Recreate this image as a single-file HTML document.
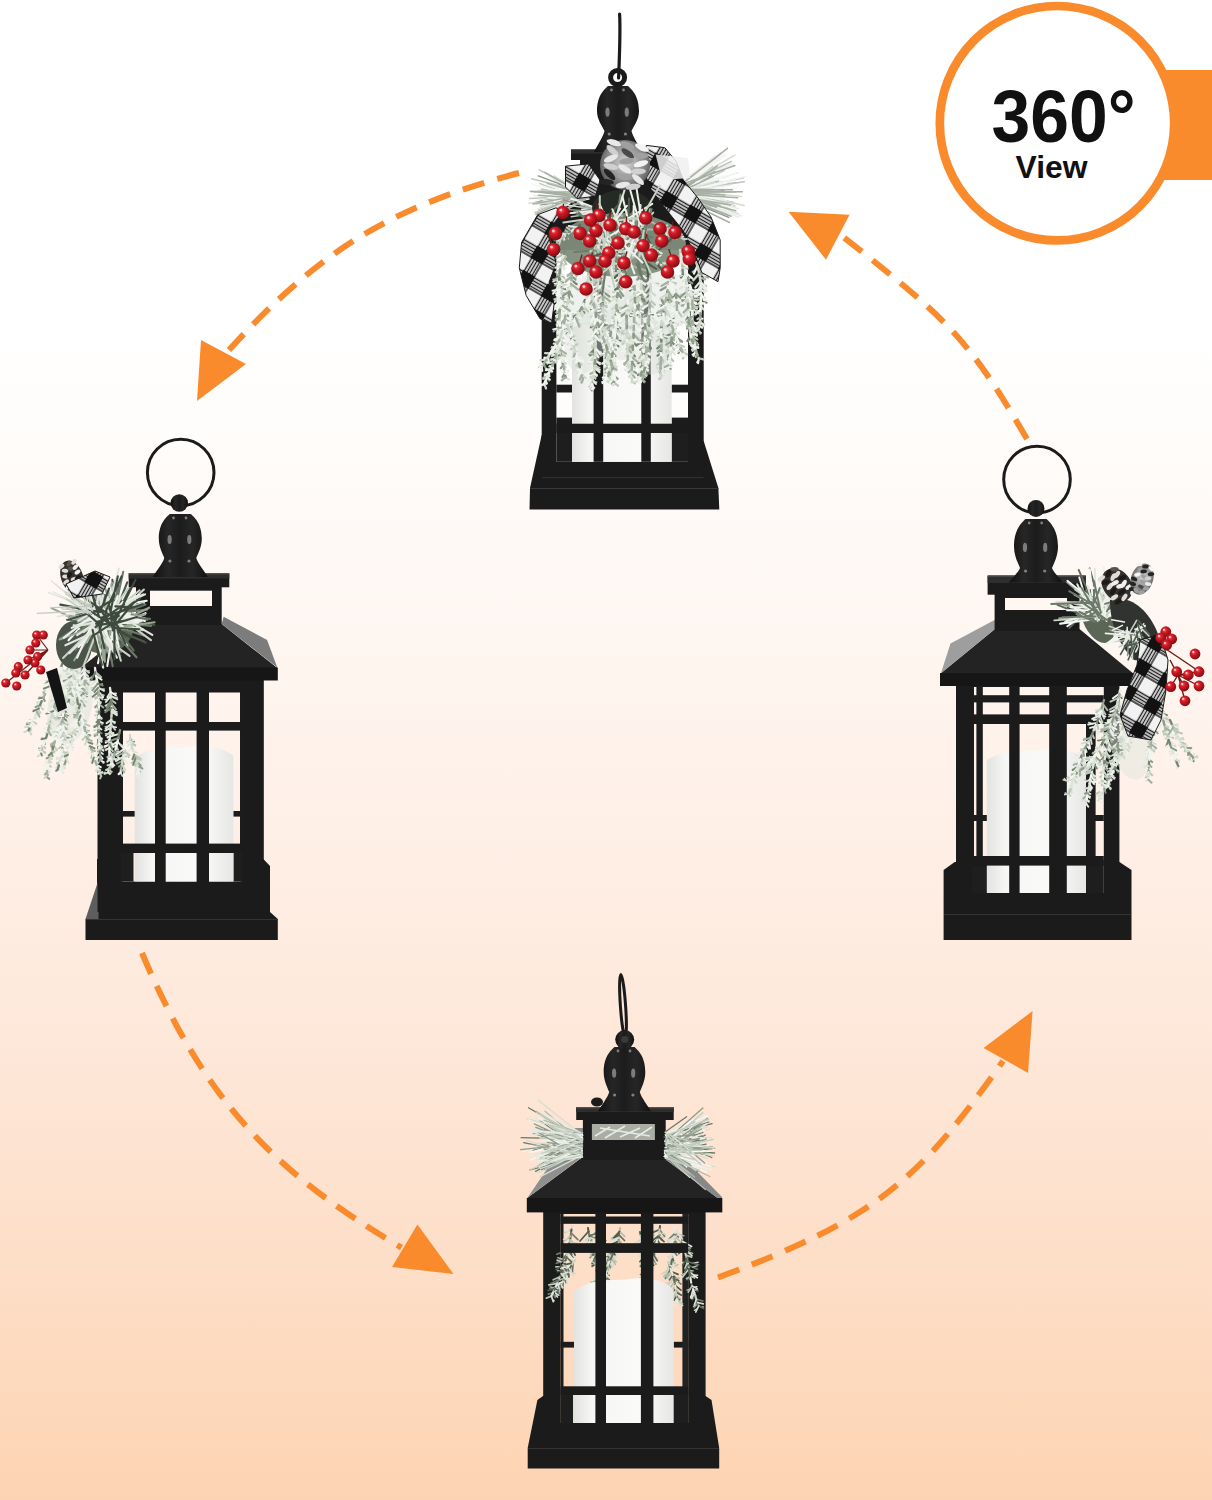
<!DOCTYPE html>
<html><head><meta charset="utf-8"><title>360 View</title>
<style>html,body{margin:0;padding:0;background:#fff;}body{width:1212px;height:1500px;overflow:hidden;font-family:"Liberation Sans",sans-serif;}svg{display:block;}</style>
</head><body>
<svg width="1212" height="1500" viewBox="0 0 1212 1500"><defs><linearGradient id="bg" x1="0" y1="0" x2="0" y2="1500" gradientUnits="userSpaceOnUse">
<stop offset="0" stop-color="#ffffff"/><stop offset="0.22" stop-color="#ffffff"/>
<stop offset="0.45" stop-color="#fef5ef"/><stop offset="0.62" stop-color="#feece1"/><stop offset="0.8" stop-color="#fde1cd"/><stop offset="1" stop-color="#fdd4b3"/></linearGradient>
<linearGradient id="candle" x1="0" y1="0" x2="1" y2="0"><stop offset="0" stop-color="#e2e2e0"/><stop offset="0.18" stop-color="#f6f6f4"/><stop offset="0.7" stop-color="#fafaf8"/><stop offset="1" stop-color="#e6e6e4"/></linearGradient>
<linearGradient id="ball" x1="0" y1="0" x2="1" y2="0"><stop offset="0" stop-color="#111"/><stop offset="0.28" stop-color="#262626"/><stop offset="0.5" stop-color="#1c1c1c"/><stop offset="0.72" stop-color="#262626"/><stop offset="1" stop-color="#111"/></linearGradient>
<pattern id="check" width="28" height="28" patternUnits="userSpaceOnUse" patternTransform="rotate(30)">
<rect width="28" height="28" fill="#f2f2f2"/>
<rect width="14" height="14" fill="#121212"/>
<path d="M14,1.5H28M14,4.5H28M14,7.5H28M14,10.5H28M14,13H28M1.5,14V28M4.5,14V28M7.5,14V28M10.5,14V28M13,14V28" stroke="#1a1a1a" stroke-width="1.4"/>
</pattern>
<radialGradient id="berry" cx="0.38" cy="0.35" r="0.7"><stop offset="0" stop-color="#f2606a"/><stop offset="0.35" stop-color="#d11a24"/><stop offset="1" stop-color="#7e0a12"/></radialGradient>
<radialGradient id="cone" cx="0.5" cy="0.45" r="0.6"><stop offset="0" stop-color="#d4d4d4"/><stop offset="0.6" stop-color="#8f8f8f"/><stop offset="1" stop-color="#4a4a4a"/></radialGradient></defs><rect x="0" y="0" width="1212" height="1500" fill="url(#bg)"/>
<rect x="1160" y="70" width="60" height="110" fill="#f98b2d"/>
<circle cx="1057" cy="123.2" r="117.2" fill="#ffffff" stroke="#f98b2d" stroke-width="8.7"/>
<text x="991.5" y="141.5" font-family="Liberation Sans" font-weight="bold" font-size="73.5" fill="#111" textLength="144" lengthAdjust="spacingAndGlyphs">360°</text>
<text x="1015.5" y="177.5" font-family="Liberation Sans" font-weight="bold" font-size="32" fill="#111" textLength="72" lengthAdjust="spacingAndGlyphs">View</text>
<path d="M519,173 C388.3,207 316.5,253.8 229,350" fill="none" stroke="#f98b2d" stroke-width="6" stroke-dasharray="22.5 13.5"/>
<polygon points="201,340 246,364 197,401" fill="#f98b2d"/>
<path d="M1027,439 C968.8,339.9 952,322.5 842,236" fill="none" stroke="#f98b2d" stroke-width="6" stroke-dasharray="22.5 13.5"/>
<polygon points="788.5,211.7 849.6,214.7 826,259.7" fill="#f98b2d"/>
<path d="M142,953 C204.4,1100.2 272.4,1171.4 401.5,1247.6" fill="none" stroke="#f98b2d" stroke-width="6" stroke-dasharray="22.5 13.5"/>
<polygon points="417.4,1224.5 453.5,1274 392,1267" fill="#f98b2d"/>
<path d="M718,1277.5 C877.5,1218.5 919.5,1179.5 1003,1061" fill="none" stroke="#f98b2d" stroke-width="6" stroke-dasharray="22.5 13.5"/>
<polygon points="1032.6,1011 1028,1073 983.6,1048" fill="#f98b2d"/>
<polygon points="541.7,435.0 703.7,441.0 718.4,488.0 719.3,509.5 529.5,509.5 530.0,488.0" fill="#1b1b1b" />
<line x1="530" y1="488.5" x2="718.5" y2="488.5" stroke="#3a3a3a" stroke-width="1"/>
<rect x="541.7" y="228.0" width="162.0" height="259.8" fill="#1b1b1b" />
<line x1="542" y1="477.6" x2="703.5" y2="477.6" stroke="#333" stroke-width="1"/>
<rect x="556.4" y="240.0" width="131.6" height="221.8" fill="url(#bg)" />
<rect x="556.4" y="384.7" width="15.6" height="7.8" fill="#1c1c1c" />
<rect x="671.6" y="384.7" width="16.4" height="7.8" fill="#1c1c1c" />
<rect x="556.4" y="417.6" width="15.6" height="15.4" fill="#1c1c1c" />
<rect x="671.6" y="417.6" width="16.4" height="15.4" fill="#1c1c1c" />
<rect x="556.4" y="433.0" width="15.6" height="28.8" fill="#1e1e1e" />
<rect x="671.6" y="433.0" width="16.4" height="28.8" fill="#1e1e1e" />
<path d="M572.0,461.8 L572.0,328.0 C591.9,318.0 606.9,321.6 626.8,320.0 C646.7,317.6 663.6,322.0 671.6,327.2 L671.6,461.8 Z" fill="url(#candle)"/>
<rect x="593.6" y="240.0" width="9.6" height="221.8" fill="#1b1b1b" />
<rect x="641.3" y="240.0" width="9.5" height="221.8" fill="#1b1b1b" />
<rect x="556.4" y="423.7" width="131.6" height="9.3" fill="#1b1b1b" />
<rect x="556.4" y="240.0" width="131.6" height="10.0" fill="#1b1b1b" />
<polygon points="580.0,196.0 658.0,196.0 712.0,236.0 528.0,236.0" fill="#1b1b1b" />
<rect x="528.0" y="230.0" width="188.0" height="14.0" fill="#1b1b1b" />
<rect x="580.0" y="158.0" width="78.0" height="42.0" fill="#1b1b1b" />
<rect x="571.0" y="149.5" width="96.0" height="10.5" fill="#1b1b1b" />
<rect x="571.0" y="149.5" width="96.0" height="4.0" fill="#2e2e2e" />
<path d="M619.6,14 C620.6,32 619.4,58 618.6,78" stroke="#1b1b1b" stroke-width="3.2" fill="none" stroke-linecap="round"/>
<path d="M608.0,86.0 C605.0,89.0 597.0,94.8 597.0,111.2 C597.0,120.1 603.0,127.0 604.5,131.0 C603.0,137.3 597.0,145.7 594.0,152.0 L642.0,152.0 C639.0,145.7 633.0,137.3 631.5,131.0 C633.0,127.0 639.0,120.1 639.0,111.2 C639.0,94.8 631.0,89.0 628.0,86.0 Z" fill="url(#ball)"/>
<ellipse cx="607.5" cy="112.2" rx="2.1" ry="4.6" fill="#9a9a9a" opacity="0.75"/>
<ellipse cx="626.8" cy="112.2" rx="2.1" ry="4.6" fill="#9a9a9a" opacity="0.75"/>
<circle cx="609.2" cy="134.0" r="1.6" fill="#a0a0a0" opacity="0.75"/>
<circle cx="611.5" cy="90.0" r="1.4" fill="#a0a0a0" opacity="0.75"/>
<circle cx="625.4" cy="134.0" r="1.6" fill="#a0a0a0" opacity="0.75"/>
<circle cx="623.5" cy="90.0" r="1.4" fill="#a0a0a0" opacity="0.75"/>
<circle cx="617.6" cy="77.5" r="7" fill="none" stroke="#1b1b1b" stroke-width="5"/>
<ellipse cx="605" cy="300" rx="42" ry="28" fill="#d9dfd6" opacity="0.45" transform="rotate(0 605 300)"/>
<ellipse cx="660" cy="300" rx="36" ry="30" fill="#d9dfd6" opacity="0.45" transform="rotate(10 660 300)"/>
<ellipse cx="585" cy="340" rx="20" ry="34" fill="#d9dfd6" opacity="0.45" transform="rotate(10 585 340)"/>
<ellipse cx="648" cy="345" rx="20" ry="30" fill="#d9dfd6" opacity="0.45" transform="rotate(-10 648 345)"/>
<ellipse cx="622" cy="330" rx="18" ry="30" fill="#d9dfd6" opacity="0.45" transform="rotate(0 622 330)"/>
<path d="M560.0 270.0L559.6 274.0M559.6 274.0L559.2 278.0M563.4 309.5L564.4 313.4M564.4 313.4L565.5 317.3M565.5 317.3L566.4 321.2M566.4 321.2L567.5 325.0M573.2 344.2L574.3 348.0M570.9 283.9L570.2 287.9M570.2 287.9L569.4 291.8M548.9 372.9L547.5 376.7M588.0 272.0L588.2 276.0M590.5 291.8L591.4 295.7M599.0 326.7L600.4 330.5M612.7 368.5L613.6 372.4M603.1 288.0L603.2 292.0M602.7 304.0L602.7 308.0M602.7 312.0L602.7 316.0M603.0 320.0L603.3 324.0M609.3 351.3L609.8 355.2M613.6 378.9L614.2 382.9M616.4 308.9L616.3 312.9M615.4 328.9L615.0 332.9M613.1 348.7L612.6 352.7M632.8 353.9L632.7 357.9M650.0 276.0L650.3 280.0M650.2 300.0L649.7 303.9M648.1 339.9L647.8 343.9M646.7 351.8L646.3 355.8M644.0 371.6L643.2 375.5M668.2 282.0L668.0 286.0M661.3 341.4L661.4 345.4M688.8 315.7L689.0 319.7M689.1 323.7L689.4 327.7M696.0 262.0L697.4 265.8M700.9 289.4L700.8 293.4M700.8 293.4L700.9 297.4M569.0 327.5L566.3 330.5M543.9 363.6L541.7 366.9M668.3 314.7L669.7 318.5M669.7 318.5L670.9 322.3M674.8 333.6L676.3 337.3M611.6 324.0L611.4 328.0M607.4 363.7L607.1 367.7M627.7 304.0L627.1 308.0M627.1 308.0L626.7 311.9M626.7 335.9L626.8 339.9M596.7 292.8L596.5 296.8M641.1 288.9L640.7 292.9M639.2 300.8L638.7 304.7M636.5 316.5L635.9 320.5M675.2 321.8L674.3 325.7M561.6 294.0L561.0 297.9M559.4 317.8L559.6 321.8M560.0 325.8L560.2 329.8M560.4 349.8L560.9 353.8M560.9 353.8L561.6 357.7M564.2 369.4L565.0 373.3M595.2 336.0L595.3 340.0M644.8 340.0L644.4 343.9M643.3 363.9L642.8 367.8" stroke="#bcc7b7" stroke-width="2.6" stroke-linecap="round" fill="none"/>
<path d="M559.6 274.0L564.3 277.9M567.5 325.0L571.6 326.1M569.7 332.7L573.9 336.3M573.2 344.2L570.8 349.2M578.7 363.4L581.4 364.5M568.3 299.7L573.1 303.9M563.1 327.2L566.8 333.2M563.1 327.2L558.7 329.9M562.2 331.1L566.6 335.6M561.3 335.0L564.4 338.6M558.0 346.5L561.2 350.2M555.1 358.2L551.0 360.3M588.4 280.0L582.5 286.4M595.4 311.2L603.3 313.5M602.7 304.0L606.6 307.3M602.7 316.0L605.1 319.8M602.7 316.0L598.5 319.5M603.0 320.0L607.2 325.0M606.5 339.6L605.0 342.9M609.3 351.3L612.2 353.6M612.6 371.0L610.5 373.1M614.2 382.9L618.0 385.7M614.2 382.9L612.8 384.8M618.0 289.0L613.2 292.2M616.3 312.9L612.5 318.7M615.7 324.9L613.2 328.0M608.4 376.3L610.4 379.2M634.7 290.0L640.8 295.8M634.9 294.0L639.6 299.9M633.6 333.9L629.1 338.7M633.1 341.9L627.9 346.9M632.1 381.8L635.0 383.4M650.7 292.0L642.5 297.8M650.2 300.0L654.9 304.8M649.7 303.9L652.9 307.2M648.8 319.9L643.1 323.8M648.8 327.9L652.5 333.0M648.4 331.9L652.2 338.2M648.2 335.9L651.6 339.7M648.2 335.9L643.8 341.0M647.8 343.9L645.0 345.7M644.8 367.7L640.0 370.5M668.3 278.0L675.8 283.5M665.4 301.8L660.0 304.7M664.7 305.7L668.2 312.0M661.3 333.4L658.0 336.2M661.3 337.4L656.8 341.2M661.3 341.4L658.3 345.5M661.0 357.3L663.4 361.4M660.9 361.3L657.0 365.6M661.1 377.3L659.3 379.1M687.7 299.7L681.7 305.9M691.8 339.4L696.7 343.1M697.2 354.5L695.8 357.1M698.8 358.2L703.2 359.4M700.3 317.4L697.4 319.1M571.5 324.5L571.6 330.8M554.8 346.8L554.5 352.4M554.8 346.8L551.6 347.8M546.0 360.2L547.3 363.6M666.6 311.1L664.4 317.7M673.3 329.9L670.8 335.5M677.7 341.0L681.6 342.0M679.2 344.8L683.9 346.8M682.6 352.0L687.1 354.3M611.6 324.0L618.6 330.2M608.7 343.7L603.0 348.1M608.2 347.7L604.2 350.0M607.9 351.7L601.1 355.6M607.6 355.7L604.0 358.4M606.8 371.7L604.3 373.9M627.1 308.0L634.0 315.6M626.7 323.9L631.8 327.3M626.9 327.9L621.9 332.0M626.8 339.9L622.5 343.9M628.3 363.9L626.4 365.8M598.5 276.9L593.8 283.4M596.7 292.8L601.4 298.3M640.5 269.0L646.0 274.4M640.0 296.9L632.6 300.0M637.3 312.6L639.6 317.1M676.9 310.0L681.9 316.7M671.8 337.5L674.2 340.3M671.8 337.5L666.2 341.5M671.0 345.4L674.0 349.6M671.0 345.4L666.1 348.0M669.9 357.4L673.3 360.9M669.2 361.3L671.0 365.4M560.2 329.8L565.1 335.0M560.0 333.8L563.5 337.5M560.9 353.8L565.1 356.3M594.8 324.0L600.2 328.3M594.9 332.0L601.0 338.8M595.6 344.0L592.2 347.2M591.7 383.7L589.0 386.2M643.6 351.9L639.2 358.1M643.6 359.9L648.1 364.5M639.6 379.4L636.5 381.4M691.3 292.9L698.4 298.1M692.4 320.8L697.2 324.9M693.4 332.8L690.6 335.2M693.6 336.8L697.3 339.3M694.1 340.7L689.9 344.1M694.8 344.7L692.6 347.7" stroke="#bcc7b7" stroke-width="2.21" stroke-linecap="round" fill="none"/>
<path d="M559.6 274.0L555.4 279.3M559.2 278.0L563.0 282.3M559.2 286.0L565.2 289.3M571.4 280.0L576.6 284.2M588.2 276.0L591.5 280.7M593.5 303.4L591.1 309.4M594.5 307.3L600.5 311.6M597.8 322.9L601.4 325.4M606.1 345.4L603.7 348.6M603.3 324.0L610.4 327.4M607.4 343.5L612.0 345.7M611.3 363.1L608.6 366.2M615.7 324.9L618.0 328.5M614.8 336.9L620.6 340.6M614.4 340.8L618.5 346.4M634.5 286.0L630.0 290.5M634.4 309.9L628.9 317.1M634.3 313.9L630.7 316.7M633.1 341.9L636.5 345.9M632.8 353.9L634.9 356.4M649.2 311.9L652.9 314.5M647.8 343.9L651.0 348.5M644.0 371.6L640.7 375.0M643.2 375.5L641.1 376.9M666.3 297.9L672.0 305.2M661.4 345.4L657.2 348.4M661.0 353.4L657.5 355.6M684.8 271.9L680.9 277.6M687.1 295.8L682.4 300.8M688.2 307.7L692.0 312.5M688.8 315.7L686.2 320.3M689.1 323.7L692.9 329.2M690.8 335.6L687.3 341.0M691.8 339.4L689.7 341.9M700.9 297.4L706.5 302.7M700.9 297.4L695.3 301.7M700.5 305.4L694.7 308.3M700.3 317.4L702.4 319.7M698.6 329.3L700.2 333.9M581.8 307.3L584.8 312.6M578.0 314.3L573.5 316.0M575.9 317.8L569.1 319.1M557.1 343.6L557.5 347.2M663.6 303.7L657.8 311.7M677.7 341.0L676.4 345.5M680.9 348.4L678.4 353.1M608.7 343.7L611.8 348.0M607.4 363.7L609.5 366.6M628.5 367.8L631.4 370.5M599.6 269.0L606.6 274.3M595.8 308.8L600.2 313.2M595.9 316.8L598.0 318.6M640.0 296.9L644.5 301.0M676.1 294.0L668.5 300.4M676.0 317.9L668.7 321.1M672.4 333.5L665.3 336.3M671.4 341.4L674.0 344.2M669.9 357.4L667.9 359.3M668.5 365.2L670.8 368.7M559.7 309.9L556.9 313.7M560.1 337.8L556.4 342.4M560.0 341.8L562.0 345.2M560.0 341.8L556.3 345.1M560.1 345.8L555.8 349.5M560.9 353.8L557.0 357.0M594.8 324.0L590.8 327.4M595.5 348.0L589.5 354.5M595.3 352.0L590.2 355.4M590.4 387.5L592.1 390.4M644.8 340.0L637.1 344.7M644.4 343.9L646.8 348.3M643.8 347.9L640.2 349.5M643.6 359.9L638.1 363.1M641.9 371.7L638.0 375.2M692.3 312.8L695.4 315.4M693.0 328.8L696.8 331.9M693.6 336.8L691.9 339.1" stroke="#76846f" stroke-width="2.21" stroke-linecap="round" fill="none"/>
<path d="M561.1 280.1L563.5 281.1M558.0 292.5L555.4 293.3M566.2 308.2L570.2 308.5M566.3 314.8L568.4 314.6M574.4 354.8L572.4 356.6M579.5 373.2L577.3 373.9M555.7 360.5L557.2 362.0M553.0 359.2L551.0 359.1M592.9 293.3L595.5 293.5M596.0 302.3L599.9 302.5M592.3 306.4L589.8 307.9M604.9 347.0L603.3 347.7M614.8 369.6L617.0 369.0M606.2 290.3L609.8 290.6M604.3 314.5L606.8 315.4M614.2 368.4L616.5 368.4M615.6 290.6L613.0 290.8M617.7 338.7L620.8 339.1M611.3 342.9L608.0 343.5M610.4 350.7L607.4 350.7M611.2 369.9L612.8 370.6M606.9 377.5L605.1 377.8M631.2 300.2L627.3 300.2M636.1 332.1L638.9 333.0M635.8 340.0L638.5 339.9M629.7 347.4L626.5 347.4M649.0 282.2L646.9 283.0M646.2 306.3L642.4 306.2M646.4 344.8L644.9 344.7M643.8 365.4L641.6 365.4M643.4 380.8L644.7 381.5M671.0 276.0L674.2 276.0M669.6 293.5L672.9 295.3M669.2 297.8L672.4 300.1M663.5 299.5L660.5 299.4M659.8 343.4L657.6 344.1M660.0 358.4L658.7 358.4M687.6 322.2L685.1 322.9M693.6 348.9L691.8 349.7M698.4 360.6L697.0 362.4M663.3 310.8L660.4 312.6M679.6 350.8L677.4 351.8M606.2 348.9L604.1 348.8M605.8 357.0L603.8 356.9M624.3 307.3L620.0 307.3M630.6 311.8L634.8 313.5M596.1 271.4L592.4 272.0M601.5 276.0L605.0 277.2M594.4 299.1L591.5 299.3M597.3 302.6L598.9 303.5M593.6 306.4L591.0 306.2M594.2 310.6L591.9 310.9M643.2 271.7L646.6 272.4M639.8 275.1L638.0 276.5M643.3 278.3L645.7 278.3M643.1 282.9L645.5 283.5M640.3 302.7L642.1 303.7M636.3 326.1L638.1 326.7M673.0 305.0L668.8 305.4M676.6 323.3L678.4 323.6M669.0 339.5L665.9 339.8M562.4 304.4L565.2 305.0M561.8 335.7L563.9 336.4M593.5 334.2L591.1 334.7M597.8 351.0L601.0 352.1M597.0 370.1L600.0 369.9M590.3 381.2L587.9 380.7M646.8 330.0L648.8 330.9M641.0 346.5L637.3 347.1M640.9 361.5L638.1 361.0M643.9 369.9L645.7 371.1M641.4 376.9L642.6 377.3M694.2 302.4L696.4 302.9M691.2 303.2L689.0 304.1M689.7 319.7L686.4 320.6" stroke="#dde4d9" stroke-width="1.8199999999999998" stroke-linecap="round" fill="none"/>
<path d="M559.2 278.0L553.3 281.4M559.6 289.9L564.4 295.5M560.9 297.8L557.3 305.3M561.7 301.7L564.8 304.9M562.7 305.6L560.6 311.3M568.7 328.8L573.9 332.5M572.0 340.4L578.8 342.5M573.2 344.2L577.7 345.7M576.3 355.8L573.2 360.7M570.2 287.9L562.7 294.5M566.8 307.6L560.9 309.8M566.2 311.5L569.1 318.0M564.1 323.3L557.9 327.7M560.2 338.9L563.6 344.8M547.5 376.7L543.3 378.7M545.9 380.3L546.4 383.8M590.5 291.8L595.3 294.8M601.8 334.2L607.4 336.1M604.6 341.7L603.4 346.1M611.7 364.6L609.3 368.3M612.7 368.5L617.0 370.6M603.1 288.0L609.4 292.7M605.4 335.8L608.1 338.2M609.8 355.2L612.8 356.5M613.2 374.9L615.7 377.8M617.7 293.0L613.6 299.1M617.2 297.0L609.2 302.8M616.6 304.9L621.7 310.2M616.4 308.9L612.7 312.9M615.4 328.9L619.1 333.2M614.8 336.9L611.6 341.6M612.6 352.7L608.6 355.8M634.9 294.0L630.8 297.3M634.9 302.0L628.8 308.7M633.5 337.9L630.2 342.7M650.6 284.0L645.4 291.1M648.9 323.9L651.8 329.1M648.9 323.9L644.9 326.8M646.3 355.8L649.6 360.7M644.0 371.6L646.3 375.9M661.4 325.4L664.9 327.5M661.4 345.4L666.5 349.6M660.6 365.3L662.4 367.6M660.7 373.3L663.7 375.7M685.4 275.9L682.9 281.5M686.3 283.8L680.0 288.7M688.4 311.7L682.7 316.6M700.4 281.4L695.3 287.5M700.8 285.4L706.4 290.8M700.8 285.4L696.3 293.4M700.9 289.4L704.7 292.4M700.5 305.4L703.4 309.4M583.5 303.7L586.6 313.3M573.8 321.2L566.1 321.4M571.5 324.5L563.2 326.2M569.0 327.5L561.4 326.3M566.3 330.5L567.4 334.8M563.8 333.6L558.3 335.1M557.1 343.6L553.8 343.7M665.1 307.4L661.5 314.1M666.6 311.1L674.3 313.7M668.3 314.7L674.8 315.3M670.9 322.3L668.9 328.5M673.3 329.9L679.3 333.7M684.1 355.7L683.2 358.9M609.5 339.8L615.4 345.2M608.2 347.7L612.3 351.3M606.8 371.7L609.7 374.0M627.0 331.9L621.5 335.4M626.7 335.9L622.1 342.3M627.6 351.9L631.4 357.3M627.9 359.9L631.9 362.6M628.5 367.8L625.4 370.0M598.9 272.9L594.2 277.3M596.0 320.8L599.5 323.7M638.7 304.7L643.3 308.4M636.5 316.5L631.5 320.1M635.0 324.4L631.4 325.7M670.6 349.4L674.9 354.2M560.5 301.9L564.3 306.9M559.4 313.8L563.8 318.3M561.6 357.7L564.4 359.7M565.4 377.3L569.2 379.6M595.1 360.0L599.9 364.3M595.1 360.0L588.6 363.6M594.8 363.9L598.7 369.4M594.5 367.9L599.5 372.2M645.1 324.0L641.0 327.2M645.4 332.0L649.7 336.2M640.7 375.6L637.7 377.7M692.0 296.8L686.9 305.7M692.5 304.8L696.9 308.7M692.5 304.8L688.3 312.0M692.5 308.8L699.5 313.6" stroke="#dde4d9" stroke-width="2.21" stroke-linecap="round" fill="none"/>
<path d="M556.2 279.7L553.2 279.3M562.0 292.7L565.2 293.6M561.6 308.4L559.6 310.3M575.5 344.9L577.4 344.1M577.9 365.0L576.4 365.6M573.6 277.8L576.0 278.2M565.7 294.0L561.9 293.3M570.7 301.8L573.5 302.4M563.8 308.7L561.0 308.4M561.0 325.5L557.6 325.2M560.9 328.6L558.6 328.4M560.6 332.4L558.7 332.8M559.7 336.0L557.9 336.0M546.8 374.3L544.6 374.0M545.4 377.7L543.3 377.4M586.1 287.0L582.6 288.1M606.2 286.3L609.7 286.6M600.8 289.7L598.3 290.0M604.6 305.6L606.9 306.0M607.5 329.8L611.3 329.3M601.9 330.1L599.4 330.6M605.7 341.3L604.5 342.3M611.6 372.0L610.2 372.1M612.4 377.2L610.5 378.3M619.4 295.4L622.0 296.1M615.7 296.0L612.6 297.2M619.1 307.6L622.4 307.6M617.2 331.0L619.7 331.6M612.1 345.5L610.6 345.2M609.4 377.7L610.9 378.2M637.7 288.7L641.5 288.8M632.9 367.8L634.7 368.7M654.1 283.3L658.7 283.7M654.0 285.9L657.5 286.1M650.7 317.9L652.9 318.6M645.9 321.9L642.9 321.3M650.6 330.4L653.3 331.4M648.0 358.2L650.2 359.6M647.3 361.3L648.9 361.7M645.1 373.8L646.9 375.1M665.4 311.1L667.2 311.5M661.9 362.5L663.2 362.8M682.9 274.7L680.1 276.1M688.7 293.7L691.0 294.5M690.5 301.5L693.4 301.3M689.6 305.6L691.7 306.0M690.7 340.7L689.4 341.1M696.4 347.4L698.1 346.7M696.5 355.8L695.3 356.3M695.7 269.7L692.6 272.0M703.0 284.6L706.4 286.1M697.6 306.9L694.7 306.5M701.9 323.5L704.4 324.4M585.1 308.5L588.3 311.7M667.6 321.4L664.5 322.7M679.7 341.5L681.3 340.7M683.1 349.9L685.4 349.9M683.6 357.3L682.5 358.3M610.3 349.5L612.7 349.8M608.1 377.0L609.9 377.4M607.2 381.0L608.8 381.3M624.3 333.6L621.4 333.3M629.9 361.2L632.1 361.1M626.2 362.2L623.8 363.4M638.6 270.8L636.3 270.8M637.6 294.4L634.7 293.6M641.0 306.6L643.6 307.2M673.5 335.0L675.1 335.3M668.6 351.0L666.2 351.1M669.1 355.1L667.3 355.5M668.9 358.3L667.7 358.5M558.1 297.9L553.7 299.4M558.3 311.8L556.2 312.4M558.4 323.8L556.4 324.5M558.2 340.1L555.7 340.9M598.0 335.4L602.0 336.2M596.9 338.0L599.2 338.6M592.8 353.7L590.0 353.5M596.8 366.7L599.6 367.8M594.3 381.8L596.6 382.1M644.4 365.1L645.8 365.2M694.7 306.8L697.3 306.9M693.8 314.1L695.7 314.0M692.8 338.0L691.5 338.3" stroke="#bcc7b7" stroke-width="1.8199999999999998" stroke-linecap="round" fill="none"/>
<path d="M559.2 278.0L559.1 282.0M570.7 336.6L572.0 340.4M581.9 375.0L583.2 378.7M568.9 295.8L568.3 299.7M567.6 303.7L566.8 307.6M601.8 334.2L603.1 338.0M604.6 341.7L606.1 345.4M603.1 300.0L602.7 304.0M603.3 324.0L603.8 327.9M616.3 312.9L615.9 316.9M614.4 340.8L613.7 344.8M612.0 356.7L611.2 360.6M610.6 364.5L609.9 368.5M634.7 290.0L634.9 294.0M648.9 323.9L648.8 327.9M668.1 274.0L668.3 278.0M667.6 290.0L667.1 293.9M663.9 309.6L662.9 313.5M662.9 313.5L662.1 317.4M661.4 325.4L661.4 329.4M661.3 337.4L661.3 341.4M661.2 349.4L661.0 353.4M660.6 369.3L660.7 373.3M688.2 307.7L688.4 311.7M697.2 354.5L698.8 358.2M585.0 300.0L583.5 303.7M571.5 324.5L569.0 327.5M561.4 336.9L559.2 340.2M606.8 371.7L606.5 375.7M597.0 288.8L596.7 292.8M640.0 265.0L640.5 269.0M641.0 276.9L641.3 280.9M640.7 292.9L640.0 296.9M637.3 312.6L636.5 316.5M635.9 320.5L635.0 324.4M560.2 329.8L560.0 333.8M560.0 333.8L560.1 337.8M562.5 361.6L563.2 365.5M565.0 373.3L565.4 377.3M594.9 332.0L595.2 336.0M592.6 379.8L591.7 383.7M643.6 351.9L643.7 355.9M690.5 289.0L691.3 292.9" stroke="#76846f" stroke-width="2.6" stroke-linecap="round" fill="none"/>
<path d="M559.1 282.0L568.0 287.5M567.5 325.0L564.3 330.1M578.7 363.4L577.2 366.6M581.9 375.0L585.8 378.3M568.3 299.7L562.7 303.3M562.2 331.1L558.9 333.8M559.0 342.7L561.0 347.8M558.0 346.5L553.6 348.4M557.1 350.4L560.3 353.8M556.2 354.3L558.2 359.3M556.2 354.3L551.7 356.0M555.1 358.2L556.3 362.7M553.8 362.0L549.4 363.1M544.2 383.9L546.1 388.5M589.7 287.9L593.8 291.2M590.5 291.8L587.7 298.5M592.6 299.5L599.4 305.1M596.9 319.0L591.8 325.6M601.8 334.2L599.6 340.9M609.7 356.9L615.0 359.6M611.7 364.6L616.7 366.8M603.2 296.0L599.4 299.9M603.1 300.0L606.2 303.3M602.7 308.0L606.6 312.1M602.7 312.0L605.9 317.0M603.0 320.0L596.4 325.2M603.8 327.9L611.3 331.7M603.8 327.9L600.0 332.2M604.4 331.9L600.7 337.6M608.5 347.4L612.6 348.7M608.5 347.4L606.6 352.2M610.7 359.1L615.5 363.2M611.3 363.1L614.3 366.1M612.1 367.0L610.6 371.2M616.6 304.9L612.1 309.3M615.9 316.9L611.5 321.5M613.1 348.7L607.8 352.7M611.2 360.6L612.4 363.5M611.2 360.6L605.6 363.0M610.6 364.5L613.4 369.1M634.9 298.0L641.2 302.7M634.9 298.0L627.5 302.5M634.8 306.0L640.6 310.8M634.8 306.0L629.7 310.7M633.8 325.9L629.9 328.0M631.8 373.8L629.0 377.0M650.7 292.0L655.2 295.3M650.6 296.0L646.7 300.7M649.1 315.9L643.6 320.6M648.1 339.9L643.7 344.2M647.2 347.8L642.3 351.2M646.3 355.8L641.8 357.9M645.6 363.7L642.0 367.0M644.8 367.7L647.9 370.9M667.1 293.9L660.1 298.7M661.6 321.4L667.1 326.6M661.3 337.4L664.8 339.7M661.0 357.3L658.9 359.4M660.9 361.3L662.9 363.7M660.6 365.3L657.2 367.5M660.6 369.3L658.7 371.2M686.6 287.8L691.4 290.9M686.7 291.8L690.6 295.6M689.0 319.7L694.9 323.4M689.4 327.7L693.1 330.2M693.1 343.2L698.1 346.4M694.5 346.9L692.7 350.9M699.2 273.5L693.4 280.3M700.8 301.4L702.9 304.3M700.8 301.4L698.0 304.0M699.5 325.4L695.3 328.7M698.6 329.3L696.0 331.7M579.8 310.8L582.4 316.2M579.8 310.8L572.7 314.4M578.0 314.3L578.9 319.9M552.4 350.1L552.3 356.0M550.2 353.4L545.1 353.2M546.0 360.2L540.3 360.0M541.7 366.9L538.8 367.1M663.6 303.7L674.2 306.1M670.9 322.3L676.1 326.1M672.0 326.1L676.1 328.5M606.5 375.7L609.6 378.4M606.5 375.7L603.1 379.0M606.0 379.6L608.4 382.4M627.0 331.9L632.7 337.4M626.8 339.9L631.9 345.0M627.2 343.9L631.3 347.9M627.6 351.9L625.8 355.5M628.3 363.9L631.5 367.7M598.9 272.9L604.2 279.0M597.0 288.8L592.4 293.4M596.3 300.8L592.9 302.6M641.1 288.9L636.9 291.5M639.2 300.8L632.9 303.4M635.9 320.5L639.3 324.6M635.9 320.5L632.5 323.4M675.2 321.8L678.0 324.8M673.4 329.6L669.9 332.5M670.6 349.4L666.5 352.6M667.5 369.1L665.0 369.9M561.6 294.0L554.7 301.8M560.0 305.9L552.9 310.3M559.4 313.8L556.3 317.2M562.5 361.6L566.0 363.7M563.2 365.5L565.8 367.1M595.2 336.0L588.5 341.7M595.3 356.0L591.0 361.2M593.4 375.9L595.4 378.5M593.4 375.9L590.5 377.6M643.3 363.9L645.4 366.3M690.5 289.0L688.2 294.6M691.3 292.9L687.2 297.9M692.3 300.8L690.1 305.6" stroke="#cfd8cb" stroke-width="2.21" stroke-linecap="round" fill="none"/>
<path d="M563.5 284.7L568.3 284.9M562.2 287.6L565.2 287.1M563.5 297.6L567.8 298.4M569.5 325.5L571.4 325.2M571.8 334.5L574.3 334.8M567.8 335.0L565.1 335.7M570.3 343.0L567.7 344.3M576.7 352.5L578.0 352.2M582.3 380.7L580.8 381.8M569.8 274.0L567.3 274.6M568.6 279.0L564.8 279.7M565.5 301.5L562.6 301.3M561.9 341.8L564.7 343.2M557.2 356.8L559.2 358.2M589.1 295.1L586.1 296.4M593.9 315.3L590.4 317.1M597.9 329.2L595.9 330.4M606.6 352.4L604.3 354.3M607.2 355.6L604.9 356.8M616.0 377.6L617.8 377.9M612.9 377.7L611.0 377.7M600.7 286.0L598.1 286.7M601.3 298.0L599.0 298.6M601.7 326.4L599.2 327.2M606.7 337.0L608.3 337.3M608.4 353.8L606.6 355.3M611.3 355.9L612.7 355.5M608.6 361.6L605.7 362.1M610.0 364.6L608.3 365.4M614.4 315.8L611.6 317.1M618.3 318.8L621.1 318.7M611.8 362.1L612.9 363.0M637.7 308.4L641.1 308.2M631.7 321.6L628.1 323.3M636.0 336.9L639.3 337.8M631.4 336.3L628.6 337.2M630.1 371.1L628.3 370.9M633.5 382.6L634.9 382.2M648.7 298.4L646.0 298.9M646.9 314.6L643.9 315.5M642.1 376.2L641.0 376.2M669.2 301.6L673.3 302.3M662.1 371.5L664.3 372.6M687.2 277.9L689.6 278.3M683.7 294.1L680.3 294.3M691.3 328.9L693.3 329.2M695.6 344.8L698.3 344.5M702.5 296.3L705.1 298.0M698.1 299.6L694.9 299.4M698.3 311.7L695.6 312.6M699.4 331.6L701.1 333.0M583.3 310.0L585.9 310.8M581.1 313.5L583.4 314.8M577.6 322.2L581.1 324.6M559.3 337.6L557.4 336.9M557.3 345.4L558.5 346.5M553.2 347.3L551.9 346.7M667.8 317.4L666.4 319.4M669.9 325.4L667.3 326.8M685.3 356.2L686.4 355.9M609.4 326.2L606.7 326.7M610.3 345.9L612.4 346.9M608.3 369.7L610.3 370.6M623.8 314.1L620.6 313.9M624.4 330.0L621.5 330.5M624.7 341.9L622.1 342.2M629.2 345.9L631.8 346.4M639.2 278.3L637.1 278.5M636.8 309.8L635.3 310.1M635.6 314.1L633.6 314.5M679.5 296.9L683.5 297.2M678.8 321.4L682.7 322.3M671.6 331.1L669.6 331.5M672.5 347.5L674.6 348.6M557.6 319.1L555.6 319.4M558.0 347.7L555.4 347.6M566.0 370.8L568.1 370.9M593.9 345.6L591.8 345.9M595.3 374.0L597.2 375.0M592.3 372.9L590.4 372.8M591.9 376.7L590.4 376.8M592.6 386.2L594.5 387.7M647.2 337.7L649.6 338.3M642.0 339.5L637.9 340.6M644.8 349.8L646.4 351.0M642.4 357.7L640.7 358.7M642.0 365.8L640.0 366.5M640.1 381.0L641.3 382.0M690.4 308.4L687.2 310.4M696.0 311.2L699.8 311.0M690.4 323.5L687.3 324.1M695.1 334.2L697.2 334.2M695.6 342.2L697.4 342.8" stroke="#cfd8cb" stroke-width="1.8199999999999998" stroke-linecap="round" fill="none"/>
<path d="M559.1 282.0L555.0 285.5M560.2 293.9L566.8 301.2M563.4 309.5L566.4 312.6M564.4 313.4L568.2 316.1M568.7 328.8L566.2 333.1M570.7 336.6L574.7 340.0M571.7 276.0L575.5 279.7M569.4 291.8L572.5 296.5M569.4 291.8L562.0 296.1M566.2 311.5L562.1 315.8M565.4 315.5L567.6 320.4M564.1 323.3L567.1 328.5M560.2 338.9L557.3 341.1M550.5 369.2L551.7 372.2M547.5 376.7L549.3 380.4M588.9 284.0L583.4 290.1M600.4 330.5L596.4 335.9M608.6 353.0L605.8 358.2M614.5 376.3L617.6 378.9M614.5 376.3L611.4 379.2M615.3 380.2L611.8 383.8M603.2 292.0L609.5 296.5M602.7 308.0L598.4 312.6M610.7 359.1L606.5 364.1M618.0 289.0L623.3 295.9M617.7 293.0L621.1 297.9M616.4 308.9L619.6 312.2M615.9 320.9L620.5 327.9M615.9 320.9L611.1 324.9M615.0 332.9L617.6 338.0M612.6 352.7L615.6 355.9M609.9 368.5L606.7 370.8M609.0 372.4L610.6 374.7M609.0 372.4L605.4 375.9M632.4 361.9L634.8 366.4M631.8 369.8L636.4 373.4M649.2 311.9L644.7 317.2M668.1 274.0L674.0 278.0M668.0 286.0L660.6 290.2M663.9 309.6L666.9 312.6M662.9 313.5L658.4 315.8M661.3 333.4L666.8 338.3M661.2 349.4L658.0 351.7M685.4 275.9L689.0 279.9M685.9 279.8L692.3 283.3M686.7 291.8L680.7 296.5M561.4 336.9L561.4 340.5M543.9 363.6L545.7 368.4M676.3 337.3L682.2 341.7M611.4 328.0L605.8 336.2M610.3 335.9L614.2 342.9M609.5 339.8L602.3 342.6M627.7 304.0L620.8 310.6M626.7 311.9L621.0 316.4M596.3 300.8L598.3 304.3M596.5 324.7L598.7 326.3M640.5 269.0L636.7 272.5M640.9 272.9L638.6 277.3M641.0 276.9L645.6 279.7M641.0 276.9L637.3 279.7M640.7 292.9L643.3 296.1M638.7 304.7L634.1 308.0M676.1 294.0L682.9 299.8M676.6 302.0L683.9 305.5M675.2 321.8L667.7 325.8M671.4 341.4L666.3 344.6M670.4 353.4L667.9 356.8M559.4 317.8L555.8 320.3M559.6 321.8L564.3 328.9M560.0 325.8L565.5 330.0M560.0 325.8L553.6 331.4M560.0 333.8L557.1 337.3M563.2 365.5L560.7 368.2M565.0 373.3L562.4 377.0M645.1 336.0L638.8 342.9M644.8 340.0L648.4 343.5M643.8 347.9L645.8 351.8M643.3 363.9L640.6 367.7M692.7 324.8L687.1 328.7M694.1 340.7L697.1 343.7M694.8 344.7L697.3 345.7" stroke="#8c9a88" stroke-width="2.21" stroke-linecap="round" fill="none"/>
<path d="M557.0 283.7L554.6 283.6M556.0 289.9L551.5 290.9M559.3 305.6L555.5 306.9M568.1 318.5L570.7 318.4M567.4 331.0L565.3 331.6M572.7 338.3L575.0 338.9M575.9 348.5L577.3 347.8M580.4 360.5L583.1 359.7M581.3 367.6L582.6 367.3M563.5 320.8L561.8 321.4M565.6 325.9L567.9 327.4M554.0 351.6L551.2 350.7M548.2 369.7L546.3 368.7M546.2 382.1L547.1 383.4M586.7 278.2L584.7 279.3M604.6 335.2L607.0 334.1M604.0 343.9L602.4 345.1M607.7 345.7L608.9 345.0M612.4 358.2L615.0 357.8M611.4 370.7L609.3 371.6M600.8 314.3L598.1 314.5M603.9 317.9L605.8 318.4M599.7 322.6L596.0 323.3M603.5 339.1L600.2 340.1M607.5 349.8L605.7 351.3M613.5 383.8L612.5 384.3M613.2 339.2L610.8 340.2M613.3 359.1L615.6 360.2M608.4 361.8L605.7 361.4M612.0 366.8L614.3 367.6M607.2 374.1L604.9 374.2M632.2 288.2L629.5 289.2M636.7 320.3L639.9 320.7M646.3 318.2L643.2 318.6M649.9 337.8L652.0 338.5M644.1 356.8L641.8 356.8M644.9 361.3L643.3 362.0M642.3 373.3L640.2 373.6M670.9 288.0L674.1 287.8M660.5 311.3L657.1 311.2M663.5 319.8L665.8 320.9M664.0 335.9L667.3 336.7M659.6 334.8L657.7 335.0M663.9 347.5L666.9 347.7M662.1 354.6L663.6 355.0M661.5 366.5L662.7 366.8M658.9 366.4L657.1 366.1M689.6 298.6L692.8 299.7M684.7 302.8L681.0 304.0M688.0 325.3L686.3 325.7M692.2 344.5L690.9 345.1M694.6 353.3L692.4 354.5M702.8 290.9L704.9 291.1M703.7 300.1L707.1 300.9M572.5 318.4L569.5 317.4M570.4 331.5L573.6 333.5M561.0 334.4L558.5 333.7M556.8 340.2L555.1 338.7M552.4 353.1L553.8 355.3M540.2 367.0L539.2 366.2M668.9 304.9L673.1 302.5M674.0 327.3L676.2 327.0M678.3 346.3L676.8 346.7M681.8 353.8L680.4 354.8M612.5 342.5L616.1 342.6M604.5 353.7L601.0 353.4M609.9 357.3L612.4 356.9M629.4 342.4L632.5 343.5M624.7 349.6L622.0 349.6M629.5 354.6L632.5 355.2M626.7 353.7L625.1 354.5M629.9 365.8L632.0 366.4M627.3 364.8L626.1 365.1M626.9 368.9L625.2 369.1M597.6 314.7L599.9 315.2M597.6 325.5L598.8 325.4M643.1 292.8L646.3 295.0M636.1 302.1L633.2 300.9M634.0 318.3L631.3 317.9M680.2 303.8L683.8 303.2M670.1 363.4L671.7 364.7M669.6 367.0L671.4 367.5M666.6 366.2L664.7 366.0M562.8 312.6L566.6 312.8M557.8 315.5L555.8 315.8M559.0 331.7L557.2 332.5M591.8 338.9L587.9 339.6M597.5 362.1L600.3 362.8M590.3 384.9L588.7 385.4M643.3 330.4L640.6 331.1M646.6 341.7L648.9 342.2M641.0 342.3L636.9 342.1M638.1 380.4L636.4 380.5M694.9 295.5L698.8 295.3M694.8 322.8L697.7 323.0M694.9 330.4L697.1 330.7M691.7 329.9L690.1 329.9M692.0 334.0L690.4 334.4" stroke="#e9eee6" stroke-width="1.8199999999999998" stroke-linecap="round" fill="none"/>
<path d="M559.1 282.0L559.2 286.0M560.9 297.8L561.7 301.7M577.5 359.6L578.7 363.4M563.1 327.2L562.2 331.1M560.2 338.9L559.0 342.7M558.0 346.5L557.1 350.4M547.5 376.7L545.9 380.3M607.3 349.3L608.6 353.0M607.4 343.5L608.5 347.4M608.5 347.4L609.3 351.3M610.7 359.1L611.3 363.1M612.1 367.0L612.6 371.0M616.9 300.9L616.6 304.9M615.9 316.9L615.9 320.9M615.9 320.9L615.7 324.9M615.7 324.9L615.4 328.9M634.1 321.9L633.8 325.9M633.5 337.9L633.1 341.9M650.3 280.0L650.6 284.0M650.7 292.0L650.6 296.0M646.1 359.8L645.6 363.7M645.6 363.7L644.8 367.7M668.3 278.0L668.2 282.0M665.4 301.8L664.7 305.7M664.7 305.7L663.9 309.6M662.1 317.4L661.6 321.4M684.0 268.0L684.8 271.9M687.1 295.8L687.7 299.7M688.4 311.7L688.8 315.7M698.5 269.6L699.2 273.5M700.4 281.4L700.8 285.4M700.8 285.4L700.9 289.4M583.5 303.7L581.8 307.3M673.3 329.9L674.8 333.6M612.0 320.0L611.6 324.0M608.2 347.7L607.9 351.7M607.1 367.7L606.8 371.7M598.1 280.9L597.7 284.9M596.5 296.8L596.3 300.8M596.3 300.8L595.9 304.8M595.8 308.8L595.7 312.8M596.0 320.8L596.5 324.7M676.6 314.0L676.0 317.9M676.0 317.9L675.2 321.8M672.4 333.5L671.8 337.5M669.2 361.3L668.5 365.2M561.0 297.9L560.5 301.9M560.5 301.9L560.0 305.9M561.6 357.7L562.5 361.6M595.5 348.0L595.3 352.0M595.3 356.0L595.1 360.0M643.7 355.9L643.6 359.9M642.8 367.8L641.9 371.7M691.3 292.9L692.0 296.8M692.2 316.8L692.4 320.8M694.1 340.7L694.8 344.7" stroke="#e9eee6" stroke-width="2.6" stroke-linecap="round" fill="none"/>
<path d="M559.2 286.0L552.8 293.9M560.2 293.9L557.9 299.0M564.4 313.4L560.6 317.6M569.7 332.7L565.8 337.4M572.0 340.4L568.5 345.7M574.3 348.0L577.6 349.0M575.3 351.9L578.1 353.1M576.3 355.8L582.0 358.4M579.8 367.2L582.7 368.1M579.8 367.2L578.3 370.7M570.2 287.9L574.0 296.1M568.9 295.8L561.4 301.7M567.6 303.7L571.4 310.6M567.6 303.7L562.2 306.9M564.9 319.4L569.2 326.8M561.3 335.0L558.0 337.0M557.1 350.4L551.0 352.8M552.3 365.7L549.4 366.4M550.5 369.2L545.9 370.2M548.9 372.9L549.4 376.3M544.2 383.9L541.7 385.4M588.2 276.0L585.3 280.3M599.0 326.7L596.8 331.6M603.1 338.0L601.4 341.8M603.1 300.0L596.7 304.2M602.7 312.0L598.9 316.5M605.4 335.8L601.7 342.5M609.8 355.2L606.9 358.2M613.2 374.9L611.5 379.4M616.9 300.9L612.2 306.0M615.4 328.9L612.0 333.3M614.4 340.8L608.2 345.1M613.7 344.8L610.5 346.2M612.0 356.7L614.7 361.6M610.6 364.5L608.5 366.9M609.9 368.5L612.5 371.4M634.7 290.0L630.6 294.6M634.1 317.9L639.4 322.7M634.1 317.9L629.2 325.2M633.8 329.9L638.4 334.4M631.9 365.8L627.9 370.3M632.1 381.8L630.4 383.5M650.3 280.0L658.0 286.5M650.3 280.0L647.8 284.4M649.1 315.9L652.3 319.9M646.7 351.8L649.8 354.7M645.6 363.7L647.8 367.5M668.1 274.0L663.6 279.8M666.3 297.9L660.6 301.1M665.4 301.8L669.8 309.7M662.1 317.4L664.9 322.2M661.6 321.4L656.4 326.0M661.0 353.4L663.2 355.8M660.6 369.3L663.6 373.7M686.3 283.8L691.1 287.3M687.7 299.7L693.2 303.2M688.1 303.7L685.1 307.1M689.0 319.7L686.1 324.7M693.1 343.2L691.3 345.8M698.8 358.2L698.1 363.1M697.4 265.8L703.3 268.7M700.4 281.4L705.6 287.8M700.9 289.4L693.9 293.6M700.5 309.4L696.1 314.1M700.0 321.4L703.9 325.7M573.8 321.2L574.4 326.2M566.3 330.5L560.2 331.9M541.7 366.9L542.2 371.0M668.3 314.7L667.4 320.1M669.7 318.5L677.9 322.5M679.2 344.8L677.4 347.8M680.9 348.4L685.2 351.4M611.4 328.0L615.4 331.3M607.6 355.7L612.3 358.8M607.6 359.7L610.8 364.1M607.6 359.7L602.2 363.6M626.5 315.9L632.2 319.7M626.5 315.9L619.6 320.8M626.7 319.9L633.0 324.1M626.7 319.9L621.3 325.3M626.7 323.9L623.5 328.7M626.9 327.9L631.5 334.6M597.7 284.9L603.0 291.3M596.5 296.8L601.2 300.3M595.9 304.8L591.2 308.0M595.8 308.8L592.5 312.5M640.9 272.9L645.8 278.1M641.3 280.9L645.0 284.8M641.3 280.9L638.2 286.2M641.2 284.9L635.5 292.3M637.3 312.6L633.8 315.5M635.0 324.4L637.5 327.8M676.6 302.0L669.4 308.1M676.0 317.9L681.6 324.8M673.4 329.6L676.0 337.3M560.0 305.9L567.0 312.7M559.6 321.8L557.2 325.8M560.2 329.8L557.8 333.6M594.8 328.0L598.2 333.2M595.3 340.0L589.1 345.8M594.0 371.9L596.6 376.1M592.6 379.8L595.9 383.9M645.1 324.0L649.6 331.1M643.7 355.9L648.4 361.7M643.7 355.9L641.2 359.5M642.8 367.8L645.1 371.9M642.8 367.8L639.1 371.7M640.7 375.6L642.1 378.2M639.6 379.4L640.6 382.6M690.5 289.0L700.2 293.9" stroke="#e9eee6" stroke-width="2.21" stroke-linecap="round" fill="none"/>
<path d="M559.2 286.0L559.6 289.9M571.4 280.0L570.9 283.9M566.8 307.6L566.2 311.5M559.0 342.7L558.0 346.5M557.1 350.4L556.2 354.3M552.3 365.7L550.5 369.2M550.5 369.2L548.9 372.9M592.6 299.5L593.5 303.4M596.1 315.1L596.9 319.0M596.9 319.0L597.8 322.9M600.4 330.5L601.8 334.2M608.6 353.0L609.7 356.9M603.0 280.0L603.0 284.0M612.6 371.0L613.2 374.9M614.8 336.9L614.4 340.8M634.3 313.9L634.1 317.9M633.1 341.9L632.8 345.9M632.7 349.9L632.8 353.9M650.6 296.0L650.2 300.0M647.8 343.9L647.2 347.8M661.4 329.4L661.3 333.4M684.8 271.9L685.4 275.9M690.0 331.6L690.8 335.6M699.2 273.5L700.0 277.5M699.5 325.4L698.6 329.3M579.8 310.8L578.0 314.3M578.0 314.3L575.9 317.8M573.8 321.2L571.5 324.5M566.3 330.5L563.8 333.6M550.2 353.4L548.2 356.9M611.4 328.0L610.9 331.9M607.6 359.7L607.4 363.7M626.7 311.9L626.5 315.9M627.6 351.9L627.8 355.9M600.0 265.0L599.6 269.0M599.6 269.0L598.9 272.9M595.9 316.8L596.0 320.8M640.9 272.9L641.0 276.9M641.3 280.9L641.2 284.9M676.0 290.0L676.1 294.0M670.6 349.4L670.4 353.4M670.4 353.4L669.9 357.4M560.0 305.9L559.7 309.9M560.1 337.8L560.0 341.8M560.1 345.8L560.4 349.8M594.8 324.0L594.8 328.0M595.3 340.0L595.6 344.0M591.7 383.7L590.4 387.5M692.5 308.8L692.3 312.8M692.7 324.8L693.0 328.8" stroke="#dde4d9" stroke-width="2.6" stroke-linecap="round" fill="none"/>
<path d="M559.6 289.9L556.5 295.2M561.7 301.7L557.0 309.4M565.5 317.3L570.7 319.7M566.4 321.2L563.2 326.2M577.5 359.6L583.4 361.4M577.5 359.6L576.0 362.1M580.9 371.1L578.1 375.3M583.2 378.7L586.3 380.5M570.9 283.9L564.7 287.2M565.4 315.5L561.3 318.8M552.3 365.7L553.1 368.8M548.9 372.9L544.8 375.7M591.4 295.7L586.3 301.1M593.5 303.4L600.7 307.1M594.5 307.3L592.1 311.3M595.4 311.2L592.4 319.4M596.1 315.1L591.3 321.1M596.9 319.0L600.3 321.5M604.6 341.7L608.4 343.9M606.1 345.4L609.3 346.0M608.6 353.0L614.1 355.7M610.7 360.8L609.5 364.0M603.0 284.0L609.3 288.6M603.0 284.0L598.4 288.0M603.3 324.0L600.1 328.9M604.4 331.9L608.4 335.3M607.4 343.5L603.8 347.3M609.3 351.3L607.5 356.3M616.3 312.9L619.2 317.7M615.9 316.9L620.7 320.6M612.0 356.7L606.7 360.2M608.4 376.3L605.3 378.7M634.5 286.0L641.0 291.4M634.4 309.9L638.1 312.9M633.8 325.9L640.3 331.5M633.5 337.9L638.1 342.0M632.8 345.9L636.5 349.1M632.7 357.9L630.0 360.0M631.9 365.8L633.9 369.8M650.6 284.0L657.4 287.8M649.7 303.9L642.7 308.6M649.6 307.9L656.9 312.9M648.8 319.9L653.4 327.1M648.8 327.9L645.9 331.7M646.1 359.8L648.5 362.8M646.1 359.8L643.7 362.9M642.7 379.5L639.5 383.0M668.2 282.0L673.0 286.7M668.0 286.0L673.8 290.1M664.7 305.7L659.1 309.4M662.9 313.5L664.1 317.4M661.4 329.4L657.1 332.2M684.8 271.9L692.4 278.5M685.9 279.8L683.3 285.4M687.1 295.8L692.0 301.5M688.1 303.7L691.1 307.5M694.5 346.9L698.3 347.8M695.9 350.7L693.4 355.8M697.4 265.8L694.0 273.6M700.8 293.4L704.2 299.2M700.8 293.4L695.1 296.7M700.0 321.4L696.1 323.9M569.0 327.5L571.9 335.4M563.8 333.6L565.9 339.8M561.4 336.9L557.2 338.3M559.2 340.2L554.3 340.2M548.2 356.9L548.8 361.8M548.2 356.9L544.2 358.9M543.9 363.6L539.4 363.8M669.7 318.5L665.5 324.4M682.6 352.0L681.0 355.6M684.1 355.7L686.5 356.7M607.1 367.7L609.5 371.8M606.0 379.6L602.6 383.1M627.1 308.0L620.1 311.2M627.2 343.9L624.1 348.8M627.3 347.9L622.2 351.3M597.7 284.9L591.1 289.0M596.7 292.8L591.3 296.8M596.5 296.8L592.2 301.4M641.1 288.9L645.2 296.6M640.7 292.9L634.6 295.9M639.2 300.8L641.5 304.6M636.5 316.5L637.8 320.1M672.4 333.5L674.5 336.5M560.5 301.9L552.6 307.5M559.7 309.9L566.0 315.4M564.2 369.4L567.9 372.2M564.2 369.4L562.0 372.0M565.0 373.3L568.5 375.4M594.9 332.0L592.0 336.4M595.2 336.0L598.6 340.1M595.5 348.0L600.0 354.0M595.3 352.0L598.3 357.0M592.6 379.8L588.0 382.5M591.7 383.7L593.5 388.7M644.4 343.9L637.6 349.0M692.3 300.8L696.1 304.1M692.7 324.8L695.7 329.2M693.4 332.8L696.9 335.7" stroke="#f2f4f0" stroke-width="2.21" stroke-linecap="round" fill="none"/>
<path d="M559.6 289.9L560.2 293.9M560.2 293.9L560.9 297.8M561.7 301.7L562.7 305.6M562.7 305.6L563.4 309.5M569.7 332.7L570.7 336.6M572.0 340.4L573.2 344.2M575.3 351.9L576.3 355.8M576.3 355.8L577.5 359.6M579.8 367.2L580.9 371.1M580.9 371.1L581.9 375.0M566.2 311.5L565.4 315.5M564.1 323.3L563.1 327.2M555.1 358.2L553.8 362.0M545.9 380.3L544.2 383.9M588.9 284.0L589.7 287.9M589.7 287.9L590.5 291.8M595.4 311.2L596.1 315.1M613.6 372.4L614.5 376.3M614.5 376.3L615.3 380.2M603.2 292.0L603.2 296.0M605.4 335.8L606.5 339.6M609.8 355.2L610.7 359.1M613.2 374.9L613.6 378.9M618.0 289.0L617.7 293.0M615.0 332.9L614.8 336.9M613.7 344.8L613.1 348.7M634.0 282.0L634.5 286.0M634.9 302.0L634.8 306.0M634.8 306.0L634.4 309.9M632.7 357.9L632.4 361.9M631.8 373.8L631.8 377.8M649.2 311.9L649.1 315.9M648.2 335.9L648.1 339.9M668.0 270.0L668.1 274.0M668.0 286.0L667.6 290.0M661.3 333.4L661.3 337.4M661.0 353.4L661.0 357.3M685.4 275.9L685.9 279.8M686.3 283.8L686.6 287.8M690.8 335.6L691.8 339.4M693.1 343.2L694.5 346.9M694.5 346.9L695.9 350.7M700.9 297.4L700.8 301.4M700.8 301.4L700.5 305.4M700.5 305.4L700.5 309.4M700.5 309.4L700.5 313.4M575.9 317.8L573.8 321.2M563.8 333.6L561.4 336.9M557.1 343.6L554.8 346.8M554.8 346.8L552.4 350.1M552.4 350.1L550.2 353.4M663.6 303.7L665.1 307.4M676.3 337.3L677.7 341.0M677.7 341.0L679.2 344.8M682.6 352.0L684.1 355.7M610.3 335.9L609.5 339.8M609.5 339.8L608.7 343.7M607.9 351.7L607.6 355.7M606.5 375.7L606.0 379.6M628.0 300.0L627.7 304.0M626.8 339.9L627.2 343.9M627.9 359.9L628.3 363.9M598.9 272.9L598.5 276.9M638.1 308.7L637.3 312.6M676.3 298.0L676.6 302.0M676.9 310.0L676.6 314.0M674.3 325.7L673.4 329.6M671.0 345.4L670.6 349.4M669.9 357.4L669.2 361.3M668.5 365.2L667.5 369.1M559.6 321.8L560.0 325.8M560.0 341.8L560.1 345.8M595.0 320.0L594.8 324.0M594.8 328.0L594.9 332.0M594.0 371.9L593.4 375.9M645.0 320.0L645.1 324.0M645.4 328.0L645.4 332.0M645.4 332.0L645.1 336.0M645.1 336.0L644.8 340.0M643.8 347.9L643.6 351.9M640.7 375.6L639.6 379.4M690.0 285.0L690.5 289.0M692.3 312.8L692.2 316.8M693.4 332.8L693.6 336.8" stroke="#f2f4f0" stroke-width="2.6" stroke-linecap="round" fill="none"/>
<path d="M560.9 297.8L568.4 302.7M562.7 305.6L569.8 310.9M575.3 351.9L573.6 357.6M581.9 375.0L579.8 379.6M583.2 378.7L581.5 382.7M572.0 272.0L576.7 275.9M572.0 272.0L567.7 276.0M571.7 276.0L565.5 282.0M570.9 283.9L578.2 289.7M564.9 319.4L562.1 322.2M592.6 299.5L590.3 303.7M597.8 322.9L593.3 329.8M607.3 349.3L605.9 355.6M609.7 356.9L607.5 359.6M612.7 368.5L610.1 372.8M603.1 288.0L598.6 291.5M603.2 292.0L598.9 298.4M603.2 296.0L609.8 301.2M602.7 304.0L596.5 311.0M612.1 367.0L616.3 369.7M613.7 344.8L616.0 349.7M634.9 302.0L639.2 306.1M633.6 333.9L638.4 339.9M632.8 345.9L626.5 349.0M632.7 357.9L637.6 362.0M631.8 369.8L628.5 372.4M631.8 373.8L634.8 377.7M647.2 347.8L650.1 352.0M643.2 375.5L645.1 377.4M642.7 379.5L644.2 382.2M668.2 282.0L661.5 285.9M667.6 290.0L671.7 297.0M667.1 293.9L671.3 301.6M663.9 309.6L657.1 313.0M688.2 307.7L683.6 312.5M689.1 323.7L686.9 326.9M698.5 269.6L705.5 274.6M699.2 273.5L708.0 277.6M700.0 277.5L705.2 279.4M699.5 325.4L702.1 327.9M575.9 317.8L579.3 326.6M674.8 333.6L673.2 339.6M611.6 324.0L607.3 328.4M607.9 351.7L611.5 354.9M607.1 367.7L604.6 369.5M627.3 347.9L630.9 352.2M627.9 359.9L624.4 364.6M599.6 269.0L592.7 273.8M598.5 276.9L602.7 282.5M598.1 280.9L594.8 284.9M595.7 312.8L599.5 316.5M641.2 284.9L644.4 288.5M638.1 308.7L642.6 313.5M638.1 308.7L635.4 310.9M668.5 365.2L664.7 367.1M560.4 349.8L565.9 353.6M565.4 377.3L561.8 380.3M594.0 371.9L590.5 373.9M645.4 328.0L648.2 332.1M645.4 328.0L641.3 332.7M645.1 336.0L649.3 339.5M692.2 316.8L687.2 322.5M692.4 320.8L688.3 326.3M693.0 328.8L690.4 331.1" stroke="#a3b09f" stroke-width="2.21" stroke-linecap="round" fill="none"/>
<path d="M564.7 300.2L568.7 300.5M572.0 346.7L569.7 347.8M574.8 358.2L572.2 359.0M579.1 369.0L577.6 369.8M574.3 273.9L577.1 273.9M572.1 292.0L575.5 294.2M564.1 313.6L561.6 314.4M566.5 317.9L568.7 318.9M551.1 370.7L552.4 371.3M548.4 378.5L550.0 379.5M542.9 384.7L541.7 384.4M585.4 283.2L581.5 283.5M610.5 366.5L608.6 367.0M601.0 295.2L597.8 296.5M599.6 307.5L595.4 308.2M600.6 310.3L597.8 311.0M605.1 322.5L607.9 323.2M609.7 344.6L611.9 344.0M610.7 352.4L612.4 352.6M617.8 315.3L620.1 316.4M618.2 324.4L621.5 326.3M613.5 322.9L610.8 323.6M616.8 326.7L618.6 327.3M613.7 331.1L611.2 331.4M616.4 343.6L619.5 344.1M614.8 347.2L617.1 348.2M637.0 304.0L639.7 304.6M632.5 315.3L630.4 315.1M637.1 328.7L640.8 329.5M631.3 358.9L629.8 359.0M629.9 368.1L627.3 368.6M631.3 382.7L630.2 382.7M651.1 313.2L653.1 313.2M645.9 342.1L643.1 342.4M644.8 349.5L642.1 349.7M648.3 353.3L650.2 353.5M646.4 369.3L648.3 369.9M642.4 369.1L639.9 369.1M641.1 381.2L639.0 381.7M672.0 280.7L676.2 281.2M670.6 284.4L673.6 284.5M662.7 303.3L659.9 303.0M666.4 308.8L669.4 310.2M660.6 314.6L658.3 314.6M684.1 278.7L681.6 279.9M684.8 298.3L681.7 298.4M686.6 305.4L684.6 305.8M690.1 310.1L692.7 310.9M700.3 267.2L703.3 266.9M703.6 275.6L708.0 275.2M703.6 288.1L707.1 288.7M698.5 289.4L694.6 290.5M701.8 302.9L703.4 303.2M701.3 318.5L702.7 318.7M700.8 326.6L702.4 327.1M576.2 312.6L572.7 312.0M578.4 317.1L580.5 318.6M563.2 331.2L560.7 329.8M561.4 338.7L562.1 340.2M546.2 357.9L544.3 357.4M546.6 361.9L548.1 362.7M541.6 363.7L540.1 362.4M660.7 307.7L656.6 309.4M670.5 312.4L673.8 310.8M671.5 315.0L674.1 313.5M673.8 320.5L677.9 319.9M673.5 324.2L676.4 324.7M676.3 331.8L679.5 331.3M677.1 343.3L675.3 344.5M608.6 332.1L604.4 333.5M605.9 341.2L602.5 340.7M604.8 377.3L602.6 377.4M604.3 381.4L602.1 381.8M623.0 318.4L619.3 319.0M629.2 331.3L632.4 333.0M603.1 271.7L607.0 272.3M597.7 322.2L599.7 322.6M640.3 311.1L643.1 312.2M666.3 369.5L665.2 369.0M556.5 308.1L552.7 307.8M561.9 325.4L565.5 326.7M562.8 327.9L565.9 327.5M556.8 328.6L553.1 329.3M563.0 358.7L564.5 358.5M563.1 370.7L561.7 371.3M592.2 342.9L588.4 343.8M591.9 361.8L588.5 361.9M591.3 388.9L592.6 389.7M643.0 325.6L640.7 326.0M646.1 358.8L649.4 359.2M689.4 291.8L687.2 293.5M692.0 342.4L689.6 342.3M693.7 346.2L692.1 346.6" stroke="#f2f4f0" stroke-width="1.8199999999999998" stroke-linecap="round" fill="none"/>
<path d="M567.5 325.0L568.7 328.8M568.7 328.8L569.7 332.7M574.3 348.0L575.3 351.9M572.0 268.0L572.0 272.0M568.3 299.7L567.6 303.7M562.2 331.1L561.3 335.0M561.3 335.0L560.2 338.9M588.2 276.0L588.4 280.0M588.4 280.0L588.9 284.0M591.4 295.7L592.6 299.5M594.5 307.3L595.4 311.2M609.7 356.9L610.7 360.8M602.7 308.0L602.7 312.0M603.8 327.9L604.4 331.9M604.4 331.9L605.4 335.8M606.5 339.6L607.4 343.5M617.2 297.0L616.9 300.9M611.2 360.6L610.6 364.5M609.9 368.5L609.0 372.4M634.9 294.0L634.9 298.0M634.4 309.9L634.3 313.9M633.8 329.9L633.6 333.9M631.8 369.8L631.8 373.8M631.8 377.8L632.1 381.8M650.6 284.0L650.7 288.0M650.7 288.0L650.7 292.0M649.6 307.9L649.2 311.9M648.8 327.9L648.4 331.9M646.3 355.8L646.1 359.8M667.1 293.9L666.3 297.9M661.6 321.4L661.4 325.4M660.7 373.3L661.1 377.3M685.9 279.8L686.3 283.8M686.6 287.8L686.7 291.8M686.7 291.8L687.1 295.8M687.7 299.7L688.1 303.7M689.4 327.7L690.0 331.6M697.4 265.8L698.5 269.6M700.0 277.5L700.4 281.4M700.3 317.4L700.0 321.4M700.0 321.4L699.5 325.4M548.2 356.9L546.0 360.2M665.1 307.4L666.6 311.1M666.6 311.1L668.3 314.7M670.9 322.3L672.0 326.1M679.2 344.8L680.9 348.4M608.7 343.7L608.2 347.7M607.6 355.7L607.6 359.7M626.9 327.9L627.0 331.9M627.0 331.9L626.7 335.9M627.2 343.9L627.3 347.9M627.3 347.9L627.6 351.9M628.3 363.9L628.5 367.8M598.5 276.9L598.1 280.9M597.7 284.9L597.0 288.8M595.9 304.8L595.8 308.8M641.2 284.9L641.1 288.9M640.0 296.9L639.2 300.8M562.0 290.0L561.6 294.0M595.6 344.0L595.5 348.0M595.3 352.0L595.3 356.0M594.8 363.9L594.5 367.9M594.5 367.9L594.0 371.9M593.4 375.9L592.6 379.8M644.4 343.9L643.8 347.9M643.6 359.9L643.3 363.9M692.0 296.8L692.3 300.8M693.0 328.8L693.4 332.8" stroke="#cfd8cb" stroke-width="2.6" stroke-linecap="round" fill="none"/>
<path d="M578.7 363.4L579.8 367.2M569.4 291.8L568.9 295.8M597.8 322.9L599.0 326.7M606.1 345.4L607.3 349.3M610.7 360.8L611.7 364.6M611.7 364.6L612.7 368.5M618.0 285.0L618.0 289.0M617.7 293.0L617.2 297.0M612.6 352.7L612.0 356.7M609.0 372.4L608.4 376.3M634.9 298.0L634.9 302.0M633.6 333.9L633.5 337.9M632.8 345.9L632.7 349.9M632.4 361.9L631.9 365.8M644.8 367.7L644.0 371.6M688.1 303.7L688.2 307.7M689.0 319.7L689.1 323.7M691.8 339.4L693.1 343.2M700.5 313.4L700.3 317.4M581.8 307.3L579.8 310.8M662.0 300.0L663.6 303.7M610.9 331.9L610.3 335.9M626.5 315.9L626.7 319.9M626.7 323.9L626.9 327.9M595.7 312.8L595.9 316.8M638.7 304.7L638.1 308.7M676.1 294.0L676.3 298.0M671.8 337.5L671.4 341.4M671.4 341.4L671.0 345.4M559.7 309.9L559.4 313.8M595.1 360.0L594.8 363.9M645.1 324.0L645.4 328.0M641.9 371.7L640.7 375.6" stroke="#8c9a88" stroke-width="2.6" stroke-linecap="round" fill="none"/>
<path d="M572.0 272.0L571.7 276.0M571.7 276.0L571.4 280.0M565.4 315.5L564.9 319.4M564.9 319.4L564.1 323.3M556.2 354.3L555.1 358.2M553.8 362.0L552.3 365.7M593.5 303.4L594.5 307.3M603.1 338.0L604.6 341.7M603.0 284.0L603.1 288.0M603.2 296.0L603.1 300.0M602.7 316.0L603.0 320.0M611.3 363.1L612.1 367.0M616.6 304.9L616.4 308.9M634.5 286.0L634.7 290.0M634.1 317.9L634.1 321.9M633.8 325.9L633.8 329.9M631.9 365.8L631.8 369.8M649.7 303.9L649.6 307.9M649.1 315.9L648.8 319.9M648.8 319.9L648.9 323.9M648.4 331.9L648.2 335.9M647.2 347.8L646.7 351.8M643.2 375.5L642.7 379.5M666.3 297.9L665.4 301.8M661.4 345.4L661.2 349.4M661.0 357.3L660.9 361.3M660.9 361.3L660.6 365.3M660.6 365.3L660.6 369.3M695.9 350.7L697.2 354.5M559.2 340.2L557.1 343.6M546.0 360.2L543.9 363.6M672.0 326.1L673.3 329.9M680.9 348.4L682.6 352.0M626.7 319.9L626.7 323.9M627.8 355.9L627.9 359.9M640.5 269.0L640.9 272.9M676.6 302.0L676.9 306.0M676.9 306.0L676.9 310.0M673.4 329.6L672.4 333.5M559.4 313.8L559.4 317.8M563.2 365.5L564.2 369.4M692.3 300.8L692.5 304.8M692.5 304.8L692.5 308.8M692.4 320.8L692.7 324.8M693.6 336.8L694.1 340.7" stroke="#a3b09f" stroke-width="2.6" stroke-linecap="round" fill="none"/>
<path d="M584.4 199.2L540.6 204.8M583.5 197.3L544.7 200.8M585.7 195.3L539.9 201.2M587.2 194.2L539.1 213.7M583.6 196.7L554.4 179.4M588.9 196.5L545.9 203.7M584.6 196.8L558.5 185.3M584.3 194.7L538.4 209.1M586.9 197.8L559.5 184.0M584.2 192.7L533.9 202.7M583.5 192.9L538.4 175.9M671.3 193.6L721.9 206.9M671.3 192.9L716.7 211.3M670.0 193.4L717.0 203.1M673.9 195.6L711.4 175.0M674.2 192.1L723.7 200.1M672.3 194.4L728.8 217.4M672.4 195.9L711.7 196.7M675.2 190.1L718.5 169.0M673.6 195.9L723.7 190.7" stroke="#8d968a" stroke-width="1.5" stroke-linecap="round" fill="none"/>
<path d="M584.8 199.2L539.9 183.6M583.5 194.2L547.4 203.9M585.5 195.0L548.9 202.1M587.2 198.9L550.7 176.2M588.5 193.9L540.2 207.6M581.2 193.0L535.0 212.6M581.0 194.8L543.3 192.0M584.8 193.5L556.7 199.0M587.5 192.4L531.7 178.8M583.9 195.9L529.7 198.4M586.7 199.4L543.0 202.5M588.0 193.0L545.7 203.5M585.4 194.2L539.2 169.9M583.3 195.0L558.4 208.4M585.4 197.9L541.5 188.9M582.7 194.3L538.3 190.5M586.5 198.7L544.0 222.0M675.7 192.3L744.3 181.7M671.1 194.4L731.5 191.4M675.5 193.6L724.2 170.6M671.1 193.4L717.3 204.9M675.9 195.8L711.5 167.6M673.7 189.7L716.7 168.3M674.4 191.6L743.6 177.7M668.7 195.5L712.5 166.4M669.3 191.9L731.7 164.4M671.9 189.8L731.3 161.5M671.7 192.9L735.1 203.6M672.3 194.1L735.8 192.1M670.3 189.6L727.4 215.3M671.7 192.2L728.5 208.5M674.8 192.3L735.9 182.6M670.3 190.9L725.6 165.4M670.7 190.1L734.8 206.1M668.8 192.3L732.6 201.9M675.6 190.5L721.4 152.9M674.2 191.0L718.7 180.9" stroke="#bfc6bc" stroke-width="1.5" stroke-linecap="round" fill="none"/>
<path d="M586.8 198.5L538.0 198.8M585.0 192.4L530.5 191.1M582.8 193.2L538.7 190.8M583.0 198.6L529.1 203.2M582.5 195.7L555.8 205.8M588.3 195.4L554.3 207.4M588.8 193.7L540.1 204.1M586.2 198.6L537.0 223.2M582.6 196.2L556.0 185.1M584.6 194.0L553.9 176.0M582.2 193.8L536.1 203.9M674.6 189.6L735.0 155.2M675.2 188.7L744.1 205.5M671.4 189.9L714.5 159.3M673.7 188.1L738.5 213.9M668.9 188.4L741.7 196.5M669.1 191.9L733.0 204.9M671.8 192.0L716.0 159.9M675.8 191.0L720.1 212.5M674.5 190.6L714.7 182.6M674.6 189.9L714.1 201.2M668.4 191.8L718.9 157.6M674.2 191.2L723.1 192.3M672.7 195.2L707.6 176.5" stroke="#d5dad3" stroke-width="1.5" stroke-linecap="round" fill="none"/>
<path d="M588.1 199.2L533.5 195.4M588.5 196.9L560.7 191.5M588.2 193.1L537.7 209.0M581.0 193.0L546.7 184.4M588.9 199.1L554.1 192.4M587.3 198.4L548.6 176.2M588.9 193.9L538.5 213.8M670.8 193.9L727.1 208.3M673.8 191.8L738.9 208.8M675.7 195.6L726.4 210.7M675.9 192.1L729.7 185.2M672.3 190.6L724.0 199.6M671.2 194.2L728.1 164.5M674.5 191.0L726.2 200.8M672.4 190.2L715.9 190.1M674.0 189.8L719.0 195.0M670.5 192.9L729.3 181.5M669.5 192.5L733.1 206.0M672.8 195.2L741.6 215.7M671.0 193.1L714.8 201.3M672.1 195.3L738.8 217.0M674.3 193.3L738.0 172.8M670.2 191.2L715.3 155.9" stroke="#e9ece8" stroke-width="1.5" stroke-linecap="round" fill="none"/>
<path d="M582.4 196.1L544.6 187.6M587.4 195.9L553.6 204.8M585.4 198.0L544.6 184.1M587.1 195.8L548.1 197.7M584.9 199.6L554.3 202.1M583.1 195.6L540.2 218.2M586.7 198.7L543.3 201.0M586.6 193.0L553.8 198.5M585.1 193.2L555.9 188.4M586.6 193.7L556.2 200.2M585.5 197.6L531.2 183.9M674.8 193.1L736.8 188.0M674.0 192.8L719.6 198.9M672.1 192.7L720.1 158.8M671.1 195.5L719.4 169.5M669.5 194.9L726.7 182.8M674.3 191.6L707.0 165.1M669.5 188.4L715.8 206.6M668.2 189.5L736.3 173.4M675.1 195.6L723.7 188.1M673.6 188.5L725.0 153.8M675.2 194.3L746.7 176.1M674.3 194.4L726.9 154.2M673.5 192.3L733.2 163.7M673.8 188.8L713.6 163.8M668.7 189.2L726.8 177.6" stroke="#f5f6f4" stroke-width="1.5" stroke-linecap="round" fill="none"/>
<path d="M583.6 194.8L530.5 191.5M585.5 199.3L536.7 224.1M588.9 193.7L533.0 203.9M584.3 193.6L548.5 213.1M584.1 198.5L538.5 195.3M585.8 195.8L544.9 172.3M588.0 192.1L534.3 192.0M584.2 192.5L535.7 214.2M585.2 198.9L556.0 203.7M588.8 196.2L541.1 191.5M587.9 192.5L552.9 203.9M588.6 195.3L547.2 183.4M587.7 198.2L535.7 191.8M675.0 189.3L727.4 148.3M674.0 188.7L714.6 189.6M673.0 195.3L728.2 204.6M668.9 192.0L731.2 216.2M672.8 191.1L718.5 211.8M674.2 188.9L709.9 204.7M673.0 193.4L737.6 197.8M668.2 189.2L734.9 165.5M675.3 195.3L717.4 165.9M669.1 193.1L735.8 210.8M674.1 189.4L732.4 189.7M675.0 193.6L720.0 205.4M668.2 192.6L729.5 222.5M668.2 193.8L714.9 171.7M668.0 195.1L708.9 194.0M672.1 195.9L713.3 176.3M670.7 195.2L730.7 204.9M671.4 192.2L716.4 207.3M669.3 189.9L725.0 195.2M672.1 192.4L742.4 191.7M674.9 190.3L724.4 191.8M668.7 188.6L710.6 205.9" stroke="#a7afa4" stroke-width="1.5" stroke-linecap="round" fill="none"/>
<path d="M598.0 211.5L562.5 209.2M597.0 210.2L563.1 199.7" stroke="#8d968a" stroke-width="1.4" stroke-linecap="round" fill="none"/>
<path d="M602.6 210.9L581.1 204.0M601.0 215.2L580.9 213.7M600.8 210.1L561.9 204.2" stroke="#d5dad3" stroke-width="1.4" stroke-linecap="round" fill="none"/>
<path d="M603.5 209.9L573.4 212.1M602.1 212.1L571.2 216.8" stroke="#bfc6bc" stroke-width="1.4" stroke-linecap="round" fill="none"/>
<path d="M598.8 208.9L570.9 198.5M602.3 208.0L581.7 209.2M603.1 212.3L580.0 203.3M597.3 210.5L562.8 213.7" stroke="#f5f6f4" stroke-width="1.4" stroke-linecap="round" fill="none"/>
<path d="M602.9 212.3L583.8 205.1M603.7 211.6L579.9 206.4" stroke="#a7afa4" stroke-width="1.4" stroke-linecap="round" fill="none"/>
<path d="M600.3 210.6L579.8 215.0M597.0 211.1L570.7 213.3" stroke="#e9ece8" stroke-width="1.4" stroke-linecap="round" fill="none"/>
<polygon points="556.0,207.8 537.7,214.7 521.6,242.4 519.3,267.8 526.2,295.6 540.0,318.7 551.6,323.3 554.0,304.8 549.3,281.7 556.2,263.2 547.0,230.9 563.2,212.4" fill="url(#check)" stroke="#1a1a1a" stroke-width="1" stroke-linejoin="round" />
<polygon points="646.3,145.4 664.8,147.7 676.3,161.6 683.3,180.0 698.0,198.0 711.0,217.0 720.2,240.0 720.2,267.8 718.0,281.7 701.8,272.5 694.8,254.0 683.3,230.9 664.8,207.8 651.0,189.3 641.7,166.2" fill="url(#check)" stroke="#1a1a1a" stroke-width="1" stroke-linejoin="round" />
<polygon points="565.5,166.2 588.6,163.9 600.0,180.0 595.5,196.2 577.0,198.5 565.5,187.0" fill="url(#check)" stroke="#1a1a1a" stroke-width="1" stroke-linejoin="round" />
<polygon points="655.6,154.6 688,158 690,178 662,180" fill="#f0f0f0" opacity="0.85"/>
<ellipse cx="622" cy="208" rx="30" ry="18" fill="#262a25" opacity="1.0" transform="rotate(0 622 208)"/>
<ellipse cx="622" cy="245" rx="64" ry="32" fill="#7f8c7b" opacity="0.95" transform="rotate(0 622 245)"/>
<path d="M630.1 240.2L636.6 254.5M618.2 263.1L622.9 253.8M598.5 221.7L603.2 234.5M600.8 225.2L587.0 220.8M633.2 253.2L621.8 280.6M632.8 258.1L649.6 247.1M612.9 231.2L644.4 215.6M645.9 219.2L657.3 225.0M606.1 252.3L595.9 217.7M645.7 234.5L632.1 234.1M634.0 224.3L643.3 257.2M617.4 219.4L626.9 230.9M630.2 222.4L620.1 214.4M644.5 242.2L649.9 209.3M621.5 262.4L649.6 271.8M623.4 228.0L627.2 242.8M627.6 229.2L653.9 229.4M622.5 259.6L599.3 236.0M624.7 236.9L629.9 248.7M607.3 236.7L614.0 220.8M626.2 232.7L635.3 244.9" stroke="#a9b5a5" stroke-width="2.0" stroke-linecap="round" fill="none"/>
<path d="M615.5 226.3L620.5 194.4M605.6 251.6L594.7 256.5M612.5 233.6L599.8 218.9M622.1 253.1L629.4 241.6M606.5 263.6L602.1 294.8M636.6 263.5L641.3 276.8M612.7 257.9L582.4 257.4M617.0 243.2L627.4 278.9M604.9 226.2L576.3 213.5M634.7 232.2L652.5 237.5M624.6 216.4L614.8 226.6M604.6 240.9L584.3 270.2M636.1 251.8L642.5 279.4M606.2 228.6L617.4 249.1M634.2 239.8L619.6 223.5M644.0 251.6L671.3 241.1M611.0 237.9L596.7 245.9M641.6 245.0L651.7 209.1M623.6 225.0L628.2 208.9M604.3 249.7L574.4 252.1M625.0 240.8L595.5 219.7M615.5 257.8L582.1 242.0M621.6 249.4L607.3 242.3M638.2 228.0L639.6 208.6M601.1 259.8L583.5 235.7M624.7 218.7L615.5 239.4M625.5 224.9L633.1 211.6M603.1 239.0L578.7 212.3" stroke="#6d7c68" stroke-width="2.0" stroke-linecap="round" fill="none"/>
<path d="M628.7 229.9L629.0 198.6M644.1 261.1L656.2 268.8M643.5 263.7L671.3 238.7M635.0 238.7L646.2 216.5M644.7 249.8L663.8 271.8M640.7 236.9L627.1 250.3M644.4 252.1L648.4 276.6M622.4 222.9L635.7 228.3M640.2 222.9L656.1 255.7M628.5 261.1L614.7 278.0M623.5 228.2L595.8 232.7M604.6 252.6L587.0 258.4M603.6 222.7L622.6 199.5M614.8 229.2L625.8 239.1M641.3 234.7L632.4 227.3M631.4 222.2L611.4 219.1" stroke="#4e5c4a" stroke-width="2.0" stroke-linecap="round" fill="none"/>
<path d="M629.2 255.5L624.0 242.3M611.2 222.9L620.1 208.5M628.6 232.9L642.1 247.7M609.6 255.6L615.1 273.5M611.3 220.6L598.2 236.0M620.5 223.2L628.4 230.3M617.3 247.1L583.2 241.7M622.3 243.1L624.4 225.5M638.0 236.4L640.6 205.0M642.7 251.8L630.6 222.1M626.4 242.3L612.3 209.2M607.9 246.3L604.6 268.2M602.5 222.8L610.6 250.0M642.4 243.5L661.8 253.3M627.4 217.7L615.8 233.7M621.1 252.1L607.5 250.6M627.8 250.8L611.5 252.4M614.5 222.2L625.2 188.0M629.1 257.8L637.3 236.4M627.8 262.4L632.6 241.1" stroke="#dfe5dc" stroke-width="2.0" stroke-linecap="round" fill="none"/>
<path d="M637.6 218.1L642.5 226.9M633.4 228.0L633.7 205.6M625.8 250.5L634.5 273.3M627.3 232.0L610.8 251.2M614.1 243.7L600.4 237.3M635.4 250.1L644.8 245.8M635.8 232.1L625.2 264.0M608.9 249.1L594.5 221.4M624.9 220.5L652.2 203.8M629.6 225.9L622.4 196.4M605.3 238.6L633.3 222.0M629.0 247.9L626.3 257.9M599.8 240.3L588.7 232.5M637.1 244.4L616.6 238.0M641.7 221.3L636.1 185.7M633.9 236.3L613.3 254.4M637.8 217.1L628.6 184.3M605.6 255.8L613.0 274.8M611.6 257.2L612.6 286.0M633.1 255.8L639.9 246.6M642.6 262.7L623.3 244.2M609.6 225.6L599.5 204.2M615.2 220.7L626.9 205.9M610.7 247.3L609.4 267.0" stroke="#eef1ec" stroke-width="2.0" stroke-linecap="round" fill="none"/>
<path d="M599.8 229.5L599.8 196.0M618.6 220.2L651.5 216.4M643.9 230.6L639.4 256.4M608.2 262.4L614.5 287.0M612.2 221.0L592.8 221.6M614.6 262.8L590.7 282.8M613.0 242.7L613.7 269.6M629.6 241.8L653.2 212.6M607.4 231.5L617.7 257.0M598.9 248.0L603.8 212.3M614.5 259.1L592.3 257.6M642.0 217.2L659.6 185.9M600.8 250.7L591.4 241.8M604.2 245.5L601.2 226.0M609.0 242.9L606.9 253.4M627.6 252.7L603.3 246.9M603.1 230.1L611.5 218.2M602.0 252.5L611.7 218.1M635.1 239.8L650.8 273.0M627.8 235.7L615.8 249.6M598.3 217.5L563.4 222.6" stroke="#c8d1c4" stroke-width="2.0" stroke-linecap="round" fill="none"/>
<path d="M580.0 225.0L576.6 227.2M619.1 237.9L618.2 241.8M617.0 249.7L616.7 253.7M589.8 257.2L587.6 260.6M654.1 253.2L656.5 256.3M620.0 255.0L619.8 259.0" stroke="#5f6e5b" stroke-width="2.4" stroke-linecap="round" fill="none"/>
<path d="M576.6 227.2L576.5 233.7M573.5 229.6L574.2 235.4M663.5 227.0L666.8 234.9M673.8 233.1L678.5 231.2M677.3 235.0L681.8 234.2M593.9 250.3L590.4 251.4M589.8 257.2L585.0 258.1M587.6 260.6L584.3 261.1M661.3 262.7L664.9 263.6M561.7 261.5L564.1 265.9M560.9 265.4L555.4 267.8M560.1 269.4L561.4 272.6M619.8 259.0L614.6 263.9M619.6 263.0L615.2 268.6M619.0 283.0L620.9 285.0" stroke="#dfe5dc" stroke-width="2.04" stroke-linecap="round" fill="none"/>
<path d="M576.6 227.2L568.7 226.0M567.1 234.5L561.8 233.6M563.9 236.8L560.1 235.2M667.0 228.9L673.2 228.0M673.8 233.1L675.6 238.0M597.8 243.3L598.1 249.4M654.1 253.2L652.8 258.8M561.7 261.5L557.3 262.8M560.9 265.4L564.6 269.6M681.4 257.9L677.6 261.2M681.9 261.8L684.4 264.3M682.6 269.8L680.7 271.6M619.6 263.0L625.6 268.0M619.6 271.0L623.0 275.9" stroke="#e4e9e2" stroke-width="2.04" stroke-linecap="round" fill="none"/>
<path d="M576.6 227.2L573.5 229.6M570.2 231.9L567.1 234.5M680.7 237.1L684.1 239.2M597.8 243.3L595.8 246.8M595.8 246.8L593.9 250.3M560.9 265.4L560.1 269.4M680.0 250.0L680.7 253.9M681.9 261.8L682.2 265.8M682.2 265.8L682.6 269.8M619.8 259.0L619.6 263.0M619.7 267.0L619.6 271.0" stroke="#c9d3c5" stroke-width="2.4" stroke-linecap="round" fill="none"/>
<path d="M573.5 229.6L565.5 229.2M557.2 241.3L554.3 240.4M670.4 230.9L670.9 234.5M618.2 241.8L621.7 247.2M616.6 257.7L619.0 260.8M616.2 261.7L617.7 264.0M615.9 269.7L619.3 271.8M591.9 253.8L593.3 260.1M587.6 260.6L587.5 265.0M647.1 243.4L645.6 251.7M654.1 253.2L659.6 255.0M656.5 256.3L656.8 260.6M682.9 273.8L681.4 276.8M619.7 267.0L622.5 269.9M619.7 267.0L615.2 272.3M618.9 287.0L615.1 289.7" stroke="#5f6e5b" stroke-width="2.04" stroke-linecap="round" fill="none"/>
<path d="M569.5 229.4L566.6 227.3M566.9 236.9L568.1 238.9M616.9 262.8L618.1 263.3M614.8 263.0L613.1 263.3M663.1 263.2L664.5 262.4M564.6 255.8L566.1 257.0M562.9 263.7L564.7 265.0M559.5 262.2L557.6 261.6M679.6 256.1L677.7 257.0M621.1 268.5L622.8 269.1M617.9 279.9L616.3 280.0" stroke="#c9d3c5" stroke-width="1.68" stroke-linecap="round" fill="none"/>
<path d="M573.5 229.6L570.2 231.9M567.1 234.5L563.9 236.8M560.6 239.1L557.2 241.3M660.0 225.0L663.5 227.0M677.3 235.0L680.7 237.1M618.2 241.8L617.5 245.8M616.2 261.7L616.0 265.7M600.0 240.0L597.8 243.3M587.6 260.6L585.7 264.0M649.5 246.6L651.7 249.9M656.5 256.3L659.0 259.5M562.8 257.7L561.7 261.5M619.3 275.0L619.3 279.0" stroke="#dfe5dc" stroke-width="2.4" stroke-linecap="round" fill="none"/>
<path d="M570.2 231.9L564.7 231.9M567.1 234.5L566.7 239.4M670.4 230.9L675.5 230.9M677.3 235.0L677.6 238.9M680.7 237.1L683.6 237.0M619.1 237.9L614.0 240.2M618.2 241.8L614.4 243.4M617.5 245.8L613.7 250.1M616.7 253.7L620.3 257.0M597.8 243.3L589.6 243.9M585.7 264.0L583.5 264.5M651.7 249.9L657.9 252.5M656.5 256.3L661.3 256.6M619.3 279.0L616.4 280.9" stroke="#7d8c78" stroke-width="2.04" stroke-linecap="round" fill="none"/>
<path d="M567.4 231.9L565.5 230.3M616.3 242.6L614.5 242.2M593.7 243.6L590.6 241.6M597.2 249.6L599.7 250.7M594.6 252.0L595.8 253.0M592.1 250.9L590.5 250.6M586.0 260.8L584.6 260.3M652.3 247.8L654.8 246.7M651.8 253.5L650.3 256.4M558.8 274.1L557.8 274.3M683.2 256.7L686.4 257.5M617.2 261.4L614.1 262.4M622.6 265.5L626.1 265.2" stroke="#b2c0ad" stroke-width="1.68" stroke-linecap="round" fill="none"/>
<path d="M563.9 236.8L563.8 240.0M557.2 241.3L556.4 245.4M617.5 245.8L622.5 250.6M616.7 253.7L612.9 256.0M616.0 265.7L613.6 268.2M595.8 246.8L598.5 252.3M593.9 250.3L595.3 253.6M649.5 246.6L655.0 248.9M651.7 249.9L652.0 257.1M659.0 259.5L657.1 264.2M661.3 262.7L661.4 265.4M564.0 253.9L565.3 257.7M564.0 253.9L556.4 258.0M562.8 257.7L566.4 264.2M559.6 273.3L563.2 276.5M559.6 273.3L557.9 274.8M680.7 253.9L685.6 259.5M680.7 253.9L678.5 258.2M681.4 257.9L686.2 259.8M682.2 265.8L687.6 268.9M618.9 287.0L622.1 289.1" stroke="#b2c0ad" stroke-width="2.04" stroke-linecap="round" fill="none"/>
<path d="M563.9 238.4L564.6 239.6M562.0 236.0L561.1 234.4M674.7 235.5L673.8 237.7M677.5 236.9L676.5 238.5M621.2 235.7L623.1 236.5M620.0 244.5L622.6 245.6M614.0 251.1L611.2 250.2M618.5 255.4L620.6 255.9M617.6 270.8L619.4 270.6M592.6 257.0L594.4 259.3M587.6 262.8L588.6 264.5M646.4 247.5L644.2 250.6M654.8 251.2L657.8 250.7M658.9 256.4L660.8 255.4M562.7 267.5L565.1 268.4M561.4 274.9L563.5 275.4M683.2 263.1L684.7 263.5M617.4 265.8L614.5 267.2M616.8 272.9L613.7 273.2" stroke="#e4e9e2" stroke-width="1.68" stroke-linecap="round" fill="none"/>
<path d="M563.9 236.8L560.6 239.1M663.5 227.0L667.0 228.9M667.0 228.9L670.4 230.9M670.4 230.9L673.8 233.1M673.8 233.1L677.3 235.0M616.7 253.7L616.6 257.7M591.9 253.8L589.8 257.2M645.0 240.0L647.1 243.4M561.7 261.5L560.9 265.4M619.6 271.0L619.3 275.0" stroke="#b2c0ad" stroke-width="2.4" stroke-linecap="round" fill="none"/>
<path d="M560.6 239.1L559.4 243.7M663.5 227.0L667.4 225.2M667.0 228.9L669.1 235.9M684.1 239.2L686.7 239.1M619.7 234.0L622.7 237.5M617.0 249.7L611.1 252.4M616.6 257.7L613.2 259.5M616.2 261.7L613.3 264.3M616.0 265.7L619.4 268.5M589.8 257.2L591.7 260.8M647.1 243.4L651.7 245.3M560.1 269.4L555.6 272.1M619.6 271.0L614.0 274.9M619.3 275.0L623.4 280.0M619.3 279.0L621.6 280.8M619.0 283.0L616.9 285.4" stroke="#c9d3c5" stroke-width="2.04" stroke-linecap="round" fill="none"/>
<path d="M670.7 232.7L669.8 234.1M679.6 234.6L680.9 233.1M682.1 237.0L683.2 236.4M616.6 239.1L614.1 238.7M620.0 248.2L623.1 248.3M658.0 261.9L656.1 263.1M661.4 264.1L660.8 265.1M683.8 258.8L686.1 258.5M684.9 267.4L687.7 267.4M682.2 275.3L680.9 276.1M621.3 273.5L623.8 274.4M621.3 277.5L624.1 278.4" stroke="#dfe5dc" stroke-width="1.68" stroke-linecap="round" fill="none"/>
<path d="M620.0 230.0L619.7 234.0M617.5 245.8L617.0 249.7M647.1 243.4L649.5 246.6M564.0 253.9L562.8 257.7M680.7 253.9L681.4 257.9M681.4 257.9L681.9 261.8M619.6 263.0L619.7 267.0M619.3 279.0L619.0 283.0" stroke="#e4e9e2" stroke-width="2.4" stroke-linecap="round" fill="none"/>
<path d="M619.7 234.0L619.1 237.9M616.6 257.7L616.2 261.7M616.0 265.7L615.9 269.7M593.9 250.3L591.9 253.8M651.7 249.9L654.1 253.2M659.0 259.5L661.3 262.7M565.0 250.0L564.0 253.9M560.1 269.4L559.6 273.3M682.6 269.8L682.9 273.8M619.0 283.0L618.9 287.0" stroke="#7d8c78" stroke-width="2.4" stroke-linecap="round" fill="none"/>
<g transform="translate(625,165) rotate(10)"><ellipse rx="25" ry="25" fill="url(#cone)"/><ellipse cx="-14.8" cy="-20.0" rx="7.5" ry="3.0" fill="#e8e8e8" transform="rotate(7 -14.8 -20.0)"/><ellipse cx="-1.3" cy="-20.0" rx="7.5" ry="3.0" fill="#a0a0a0" transform="rotate(10 -1.3 -20.0)"/><ellipse cx="13.7" cy="-20.0" rx="7.5" ry="3.0" fill="#f4f4f4" transform="rotate(15 13.7 -20.0)"/><ellipse cx="-14.8" cy="-12.0" rx="7.5" ry="3.0" fill="#d0d0d0" transform="rotate(32 -14.8 -12.0)"/><ellipse cx="0.7" cy="-12.0" rx="7.5" ry="3.0" fill="#4a4a4a" transform="rotate(26 0.7 -12.0)"/><ellipse cx="13.9" cy="-12.0" rx="7.5" ry="3.0" fill="#a0a0a0" transform="rotate(-6 13.9 -12.0)"/><ellipse cx="-15.0" cy="-4.0" rx="7.5" ry="3.0" fill="#e8e8e8" transform="rotate(-33 -15.0 -4.0)"/><ellipse cx="0.8" cy="-4.0" rx="7.5" ry="3.0" fill="#a0a0a0" transform="rotate(-17 0.8 -4.0)"/><ellipse cx="15.5" cy="-4.0" rx="7.5" ry="3.0" fill="#f4f4f4" transform="rotate(-27 15.5 -4.0)"/><ellipse cx="-13.7" cy="4.0" rx="7.5" ry="3.0" fill="#d0d0d0" transform="rotate(3 -13.7 4.0)"/><ellipse cx="0.6" cy="4.0" rx="7.5" ry="3.0" fill="#e8e8e8" transform="rotate(19 0.6 4.0)"/><ellipse cx="14.3" cy="4.0" rx="7.5" ry="3.0" fill="#d0d0d0" transform="rotate(-12 14.3 4.0)"/><ellipse cx="-13.6" cy="12.0" rx="7.5" ry="3.0" fill="#242424" transform="rotate(34 -13.6 12.0)"/><ellipse cx="1.7" cy="12.0" rx="7.5" ry="3.0" fill="#a0a0a0" transform="rotate(-3 1.7 12.0)"/><ellipse cx="15.3" cy="12.0" rx="7.5" ry="3.0" fill="#e8e8e8" transform="rotate(31 15.3 12.0)"/><ellipse cx="-15.4" cy="20.0" rx="7.5" ry="3.0" fill="#242424" transform="rotate(-5 -15.4 20.0)"/><ellipse cx="1.3" cy="20.0" rx="7.5" ry="3.0" fill="#e8e8e8" transform="rotate(-20 1.3 20.0)"/><ellipse cx="11.9" cy="20.0" rx="7.5" ry="3.0" fill="#d0d0d0" transform="rotate(-17 11.9 20.0)"/></g>
<path d="M563.0 212.5L563.5 203.7M553.6 249.5L549.0 235.8M589.7 241.0L592.9 229.0M599.0 215.4L596.2 202.8M625.7 228.7L626.7 216.3M608.7 253.0L611.6 244.1M589.7 261.0L592.6 252.6M578.0 268.5L582.0 254.6M624.0 263.0L626.9 251.4M645.7 218.0L643.2 207.6M675.0 232.5L672.0 221.0M643.0 245.7L647.0 234.2M673.0 261.0L668.7 249.1M689.3 259.0L693.8 250.5M610.0 225.0L610.0 211.4" stroke="#6e1a14" stroke-width="1.3" fill="none"/>
<circle cx="563.0" cy="212.5" r="6.8" fill="url(#berry)"/>
<circle cx="560.8" cy="210.1" r="1.4" fill="#ffe0e0" opacity="0.85"/>
<circle cx="555.5" cy="233.4" r="6.8" fill="url(#berry)"/>
<circle cx="553.3" cy="231.0" r="1.4" fill="#ffe0e0" opacity="0.85"/>
<circle cx="553.6" cy="249.5" r="6.8" fill="url(#berry)"/>
<circle cx="551.4" cy="247.1" r="1.4" fill="#ffe0e0" opacity="0.85"/>
<circle cx="580.0" cy="233.4" r="6.8" fill="url(#berry)"/>
<circle cx="577.8" cy="231.0" r="1.4" fill="#ffe0e0" opacity="0.85"/>
<circle cx="589.7" cy="241.0" r="6.8" fill="url(#berry)"/>
<circle cx="587.5" cy="238.6" r="1.4" fill="#ffe0e0" opacity="0.85"/>
<circle cx="596.0" cy="230.6" r="6.8" fill="url(#berry)"/>
<circle cx="593.8" cy="228.2" r="1.4" fill="#ffe0e0" opacity="0.85"/>
<circle cx="599.0" cy="215.4" r="6.8" fill="url(#berry)"/>
<circle cx="596.8" cy="213.0" r="1.4" fill="#ffe0e0" opacity="0.85"/>
<circle cx="590.6" cy="220.0" r="6.8" fill="url(#berry)"/>
<circle cx="588.4" cy="217.6" r="1.4" fill="#ffe0e0" opacity="0.85"/>
<circle cx="625.7" cy="228.7" r="6.8" fill="url(#berry)"/>
<circle cx="623.5" cy="226.3" r="1.4" fill="#ffe0e0" opacity="0.85"/>
<circle cx="618.0" cy="243.0" r="6.8" fill="url(#berry)"/>
<circle cx="615.8" cy="240.6" r="1.4" fill="#ffe0e0" opacity="0.85"/>
<circle cx="608.7" cy="253.0" r="6.8" fill="url(#berry)"/>
<circle cx="606.5" cy="250.6" r="1.4" fill="#ffe0e0" opacity="0.85"/>
<circle cx="605.0" cy="261.0" r="6.8" fill="url(#berry)"/>
<circle cx="602.8" cy="258.6" r="1.4" fill="#ffe0e0" opacity="0.85"/>
<circle cx="589.7" cy="261.0" r="6.8" fill="url(#berry)"/>
<circle cx="587.5" cy="258.6" r="1.4" fill="#ffe0e0" opacity="0.85"/>
<circle cx="596.0" cy="272.0" r="6.8" fill="url(#berry)"/>
<circle cx="593.8" cy="269.6" r="1.4" fill="#ffe0e0" opacity="0.85"/>
<circle cx="578.0" cy="268.5" r="6.8" fill="url(#berry)"/>
<circle cx="575.8" cy="266.1" r="1.4" fill="#ffe0e0" opacity="0.85"/>
<circle cx="586.0" cy="289.0" r="6.8" fill="url(#berry)"/>
<circle cx="583.8" cy="286.6" r="1.4" fill="#ffe0e0" opacity="0.85"/>
<circle cx="624.0" cy="263.0" r="6.8" fill="url(#berry)"/>
<circle cx="621.8" cy="260.6" r="1.4" fill="#ffe0e0" opacity="0.85"/>
<circle cx="625.7" cy="281.8" r="6.8" fill="url(#berry)"/>
<circle cx="623.5" cy="279.4" r="1.4" fill="#ffe0e0" opacity="0.85"/>
<circle cx="645.7" cy="218.0" r="6.8" fill="url(#berry)"/>
<circle cx="643.5" cy="215.6" r="1.4" fill="#ffe0e0" opacity="0.85"/>
<circle cx="660.0" cy="228.7" r="6.8" fill="url(#berry)"/>
<circle cx="657.8" cy="226.3" r="1.4" fill="#ffe0e0" opacity="0.85"/>
<circle cx="675.0" cy="232.5" r="6.8" fill="url(#berry)"/>
<circle cx="672.8" cy="230.1" r="1.4" fill="#ffe0e0" opacity="0.85"/>
<circle cx="661.8" cy="241.0" r="6.8" fill="url(#berry)"/>
<circle cx="659.6" cy="238.6" r="1.4" fill="#ffe0e0" opacity="0.85"/>
<circle cx="643.0" cy="245.7" r="6.8" fill="url(#berry)"/>
<circle cx="640.8" cy="243.3" r="1.4" fill="#ffe0e0" opacity="0.85"/>
<circle cx="651.4" cy="255.0" r="6.8" fill="url(#berry)"/>
<circle cx="649.2" cy="252.6" r="1.4" fill="#ffe0e0" opacity="0.85"/>
<circle cx="673.0" cy="261.0" r="6.8" fill="url(#berry)"/>
<circle cx="670.8" cy="258.6" r="1.4" fill="#ffe0e0" opacity="0.85"/>
<circle cx="688.4" cy="251.4" r="6.8" fill="url(#berry)"/>
<circle cx="686.2" cy="249.0" r="1.4" fill="#ffe0e0" opacity="0.85"/>
<circle cx="689.3" cy="259.0" r="6.8" fill="url(#berry)"/>
<circle cx="687.1" cy="256.6" r="1.4" fill="#ffe0e0" opacity="0.85"/>
<circle cx="667.5" cy="272.0" r="6.8" fill="url(#berry)"/>
<circle cx="665.3" cy="269.6" r="1.4" fill="#ffe0e0" opacity="0.85"/>
<circle cx="610.0" cy="225.0" r="6.8" fill="url(#berry)"/>
<circle cx="607.8" cy="222.6" r="1.4" fill="#ffe0e0" opacity="0.85"/>
<circle cx="634.0" cy="232.0" r="6.8" fill="url(#berry)"/>
<circle cx="631.8" cy="229.6" r="1.4" fill="#ffe0e0" opacity="0.85"/>
<polygon points="97.0,859.0 263.3,859.0 270.0,866.0 270.0,912.0 277.8,919.0 277.8,940.0 85.5,940.0 85.5,919.0 97.0,912.0" fill="#1b1b1b" />
<polygon points="98.5,880.0 98.5,919.0 85.5,919.0" fill="#5e5e5e" />
<line x1="86" y1="919.5" x2="277.5" y2="919.5" stroke="#333" stroke-width="1"/>
<rect x="97.5" y="680.0" width="166.3" height="232.0" fill="#1b1b1b" />
<rect x="121.0" y="688.0" width="121.0" height="193.5" fill="url(#bg)" />
<rect x="121.0" y="811.0" width="13.8" height="5.6" fill="#1c1c1c" />
<rect x="233.3" y="811.0" width="8.7" height="5.6" fill="#1c1c1c" />
<rect x="121.0" y="688.0" width="2.0" height="193.5" fill="#1c1c1c" />
<rect x="240.0" y="688.0" width="2.0" height="193.5" fill="#1c1c1c" />
<rect x="121.0" y="850.0" width="12.5" height="31.5" fill="#1e1e1e" />
<rect x="233.5" y="850.0" width="8.5" height="31.5" fill="#1e1e1e" />
<path d="M134.8,881.5 L134.8,757.0 C154.5,745.0 169.3,749.0 189.0,747.0 C208.7,744.0 225.4,749.0 233.3,756.0 L233.3,881.5 Z" fill="url(#candle)"/>
<rect x="155.0" y="688.0" width="10.7" height="194.0" fill="#1b1b1b" />
<rect x="196.6" y="688.0" width="12.4" height="194.0" fill="#1b1b1b" />
<rect x="121.0" y="722.0" width="121.0" height="8.6" fill="#1b1b1b" />
<rect x="121.0" y="843.6" width="121.0" height="9.4" fill="#1b1b1b" />
<rect x="121.0" y="680.0" width="121.0" height="12.5" fill="#1b1b1b" />
<polygon points="136.0,624.0 221.7,624.0 277.3,668.0 80.5,668.0" fill="#232323" />
<polygon points="223.6,616.8 267.1,639.9 277.3,667.5 221.7,624.0" fill="#7c7c7c" />
<rect x="80.8" y="667.5" width="197.0" height="13.0" fill="#161616" />
<rect x="136.0" y="586.0" width="85.7" height="39.0" fill="#1b1b1b" />
<rect x="150.0" y="590.7" width="62.0" height="15.3" fill="url(#bg)" />
<rect x="128.7" y="573.3" width="100.6" height="14.0" fill="#1b1b1b" />
<rect x="128.7" y="573.3" width="100.6" height="5.2" fill="#2e2e2e" />
<line x1="129" y1="573.8" x2="229" y2="573.8" stroke="#5a5a5a" stroke-width="1"/>
<path d="M169.8,514.0 C166.8,517.0 158.8,522.6 158.8,538.6 C158.8,547.4 162.8,554.0 164.3,558.0 C162.8,563.7 155.8,571.3 152.8,577.0 L207.8,577.0 C204.8,571.3 197.8,563.7 196.3,558.0 C197.8,554.0 201.8,547.4 201.8,538.6 C201.8,522.6 193.8,517.0 190.8,514.0 Z" fill="url(#ball)"/>
<ellipse cx="169.6" cy="539.6" rx="2.1" ry="4.6" fill="#9a9a9a" opacity="0.75"/>
<ellipse cx="189.3" cy="539.6" rx="2.1" ry="4.6" fill="#9a9a9a" opacity="0.75"/>
<circle cx="169.9" cy="561.0" r="1.6" fill="#a0a0a0" opacity="0.75"/>
<circle cx="173.5" cy="518.0" r="1.4" fill="#a0a0a0" opacity="0.75"/>
<circle cx="189.0" cy="561.0" r="1.6" fill="#a0a0a0" opacity="0.75"/>
<circle cx="186.0" cy="518.0" r="1.4" fill="#a0a0a0" opacity="0.75"/>
<circle cx="180.7" cy="472.5" r="33.3" fill="none" stroke="#1b1b1b" stroke-width="3"/>
<circle cx="179.3" cy="503" r="8.7" fill="url(#ball)"/>
<ellipse cx="70" cy="705" rx="22" ry="40" fill="#dfe5dc" opacity="0.6" transform="rotate(10 70 705)"/>
<path d="M72.0 660.0L71.6 664.0M70.4 691.9L69.6 695.8M58.4 730.0L57.1 733.7M47.7 768.4L46.9 772.4M66.5 758.6L65.3 762.4M65.3 762.4L63.9 766.1M51.0 718.8L50.1 722.7M95.5 672.0L96.1 675.9M99.0 727.7L98.9 731.7M99.4 747.7L99.7 751.6M53.4 675.7L51.8 679.3M76.9 695.9L77.3 699.9M77.9 703.9L78.8 707.8M85.9 734.8L87.0 738.6M89.7 746.2L91.3 749.9M62.7 741.8L62.6 745.8M62.6 745.8L62.2 749.7M120.0 730.0L119.1 733.9M134.1 754.5L135.6 758.2M121.8 764.7L121.0 768.7" stroke="#8c9a88" stroke-width="2.3" stroke-linecap="round" fill="none"/>
<path d="M71.6 664.0L74.9 668.6M71.6 664.0L67.1 669.5M71.5 668.0L77.5 671.8M71.5 676.0L75.0 679.0M71.2 684.0L74.3 688.9M71.2 684.0L66.0 689.5M69.6 695.8L74.1 703.0M68.9 699.8L70.7 703.8M53.8 745.3L56.7 750.2M52.7 749.1L54.0 752.7M49.2 760.6L51.0 762.4M48.4 764.5L50.8 766.8M83.9 688.9L80.1 691.6M77.6 716.1L74.3 717.4M74.2 731.8L75.6 734.9M74.2 731.8L68.7 734.7M72.8 739.6L70.1 742.1M59.4 679.8L51.7 683.8M58.0 687.6L59.8 692.8M43.1 745.6L45.2 748.1M41.2 753.4L38.1 756.0M95.5 672.0L101.2 677.2M98.6 695.7L102.5 699.3M98.6 695.7L95.3 698.7M98.9 707.7L96.4 711.6M99.1 711.7L95.2 715.4M99.1 715.7L101.5 718.9M99.0 727.7L94.5 730.2M99.4 747.7L98.0 750.6M50.2 683.0L51.4 687.5M40.2 704.8L42.8 709.3M38.7 708.5L39.6 713.7M30.2 726.6L30.7 730.3M111.3 699.9L115.4 703.1M111.2 719.9L114.7 723.4M111.0 723.9L115.1 729.6M110.0 735.8L107.5 737.7M109.4 743.8L104.7 747.4M109.4 747.8L112.9 751.2M109.4 747.8L105.9 750.2M109.2 755.8L107.5 757.4M76.9 687.9L71.9 690.2M78.8 707.8L75.2 715.5M81.9 719.3L85.6 721.0M83.1 723.2L89.3 725.9M85.9 734.8L88.5 737.1M85.9 734.8L82.6 739.7M92.7 753.6L91.1 758.0M99.6 772.4L98.3 774.3M101.1 776.1L100.2 778.4M65.4 694.0L58.8 697.1M63.1 713.8L57.5 718.2M63.1 721.8L57.4 727.0M63.4 733.8L61.0 737.4M63.1 737.8L65.7 740.3M62.6 745.8L59.2 748.1M59.7 761.5L57.3 764.0M116.4 745.6L118.0 749.8M113.5 757.2L108.3 760.1M110.6 764.7L112.0 767.5M131.1 742.9L135.2 745.8M134.1 754.5L140.6 758.6M135.6 758.2L140.8 759.9M136.8 762.0L135.4 765.8M138.5 769.9L140.4 771.6M124.3 748.9L128.7 757.1M123.6 752.9L125.9 756.4" stroke="#bcc7b7" stroke-width="1.9549999999999998" stroke-linecap="round" fill="none"/>
<path d="M73.2 666.3L75.7 667.1M74.5 669.9L77.7 669.5M69.8 701.8L71.3 703.0M60.2 728.3L61.5 729.6M59.5 732.9L62.0 734.3M52.6 746.0L51.3 745.9M50.1 761.5L51.2 761.8M47.4 773.8L48.5 774.5M45.8 773.4L44.5 773.5M47.7 777.6L49.5 777.8M83.4 679.8L81.0 681.3M86.7 682.8L89.0 682.9M86.0 687.3L88.2 688.3M81.3 706.3L83.2 707.0M79.4 715.0L81.8 716.5M78.2 722.8L80.3 724.5M71.5 733.2L68.7 733.0M62.4 771.4L63.4 772.6M52.8 708.4L51.3 708.6M49.7 719.8L48.1 719.7M46.9 728.3L44.5 728.2M49.5 732.9L51.5 734.4M100.6 697.5L102.9 697.7M100.3 717.3L101.9 718.1M98.1 736.8L96.8 737.2M98.7 749.1L97.4 749.9M49.1 681.0L46.2 680.5M46.3 687.7L44.0 687.5M32.8 724.3L34.1 724.7M27.6 726.9L25.5 726.0M29.9 732.3L31.8 733.4M113.3 693.6L116.1 693.4M108.9 703.8L105.4 705.8M114.0 710.8L117.0 712.0M111.9 732.9L113.5 732.8M110.2 757.5L111.9 758.0M74.5 698.3L71.5 698.5M79.9 701.9L82.8 702.4M74.9 702.4L71.8 703.0M77.0 711.6L73.5 713.3M83.2 729.5L80.9 730.5M90.4 743.1L92.2 742.4M87.1 744.5L84.9 745.1M67.2 704.7L71.0 705.0M60.4 727.9L57.1 727.4M65.2 735.9L67.7 736.4M64.7 747.2L66.9 747.0M58.6 758.4L56.8 757.6M59.5 767.3L61.1 768.2M57.1 770.0L56.1 770.1M114.6 735.2L110.7 733.7M111.3 766.1L112.6 766.6M133.4 757.0L131.8 758.6M119.6 759.0L115.9 759.1M119.6 773.5L118.5 773.5" stroke="#dde4d9" stroke-width="1.6099999999999999" stroke-linecap="round" fill="none"/>
<path d="M71.6 664.0L71.5 668.0M71.0 688.0L70.4 691.9M66.8 707.5L65.7 711.4M51.5 752.9L50.3 756.7M84.8 677.0L84.8 681.0M83.9 688.9L83.3 692.9M82.4 696.8L81.2 700.6M73.4 735.7L72.8 739.6M72.8 739.6L71.8 743.5M67.7 754.8L66.5 758.6M58.0 687.6L57.4 691.6M98.3 687.7L98.6 691.7M99.1 735.7L99.1 739.7M99.1 739.7L99.2 743.7M37.0 712.1L35.3 715.7M111.7 707.9L111.8 711.9M110.5 727.9L110.4 731.9M83.1 723.2L84.2 727.0M61.5 753.7L60.7 757.6M60.7 757.6L59.7 761.5M118.4 737.8L117.5 741.7M130.4 739.0L131.1 742.9M123.1 756.8L122.3 760.8M121.0 768.7L120.6 772.6" stroke="#dde4d9" stroke-width="2.3" stroke-linecap="round" fill="none"/>
<path d="M71.5 668.0L71.5 672.0M71.3 680.0L71.2 684.0M61.6 722.6L60.0 726.3M57.1 733.7L56.0 737.6M52.7 749.1L51.5 752.9M84.0 665.0L84.4 669.0M79.0 708.2L78.2 712.2M78.2 712.2L77.6 716.1M77.6 716.1L76.9 720.1M57.4 691.6L56.9 695.6M50.1 722.7L49.0 726.5M98.9 707.7L99.1 711.7M40.2 704.8L38.7 708.5M38.7 708.5L37.0 712.1M110.9 695.9L111.3 699.9M111.5 715.9L111.2 719.9M110.4 731.9L110.0 735.8M109.4 743.8L109.4 747.8M76.9 691.9L76.9 695.9M87.0 738.6L88.5 742.4M91.3 749.9L92.7 753.6M98.0 768.7L99.6 772.4M99.6 772.4L101.1 776.1M64.2 701.9L63.7 705.8M63.5 729.8L63.4 733.8M63.4 733.8L63.1 737.8M59.7 761.5L58.9 765.4M110.6 764.7L109.3 768.5" stroke="#bcc7b7" stroke-width="2.3" stroke-linecap="round" fill="none"/>
<path d="M71.5 672.0L74.6 676.7M71.3 680.0L66.1 686.5M69.6 695.8L66.5 699.1M66.8 707.5L61.3 711.6M63.1 718.9L59.7 721.1M60.0 726.3L60.4 730.3M50.3 756.7L52.0 759.1M47.7 768.4L49.5 771.7M46.2 776.3L44.4 778.3M84.4 669.0L89.0 672.7M84.5 673.0L88.0 676.3M84.8 681.0L80.5 688.0M84.5 685.0L87.4 689.6M82.4 696.8L86.6 701.9M78.2 712.2L80.7 717.8M69.2 751.1L65.9 752.7M56.9 695.6L60.9 699.6M56.2 699.5L57.9 703.4M52.0 714.9L56.3 720.3M50.1 722.7L46.8 723.8M49.0 726.5L51.1 729.0M48.2 730.5L45.6 732.5M42.1 749.5L44.9 753.5M99.1 715.7L96.8 718.4M30.2 726.6L25.1 727.1M28.6 730.3L31.2 734.4M28.6 730.3L24.3 732.1M110.4 731.9L105.9 735.5M109.5 739.8L112.6 744.8M77.3 683.9L72.5 689.1M77.3 699.9L72.5 705.0M77.9 703.9L75.9 708.8M81.9 719.3L80.8 723.7M87.0 738.6L85.2 744.4M93.8 757.5L97.3 760.1M64.7 697.9L68.2 705.4M64.2 701.9L70.3 707.6M63.3 709.8L69.2 715.3M63.4 733.8L67.0 738.0M62.2 749.7L65.2 754.5M61.5 753.7L62.7 756.5M58.9 765.4L56.3 767.9M114.6 753.4L111.2 756.7M110.6 764.7L107.5 765.3M109.3 768.5L106.1 770.0M121.8 764.7L125.4 770.0M120.6 772.6L122.3 775.9" stroke="#cfd8cb" stroke-width="1.9549999999999998" stroke-linecap="round" fill="none"/>
<path d="M71.5 672.0L66.9 675.7M71.3 680.0L75.0 682.8M68.9 699.8L64.5 704.1M68.0 703.7L71.3 709.4M60.0 726.3L54.3 729.7M58.4 730.0L60.6 735.9M58.4 730.0L53.2 733.4M57.1 733.7L59.3 738.1M49.2 760.6L45.5 762.7M47.7 768.4L44.3 770.1M84.4 669.0L78.0 675.4M84.8 677.0L88.7 680.3M84.8 677.0L82.0 682.6M71.8 743.5L67.9 747.5M70.6 747.3L72.7 750.2M62.2 769.8L62.6 773.1M62.2 769.8L57.8 770.5M61.0 667.9L65.9 673.0M60.3 671.8L63.8 675.8M59.8 675.8L63.7 682.7M52.0 714.9L48.8 716.5M98.6 691.7L103.1 697.0M98.4 699.7L100.4 703.3M99.2 743.7L96.6 745.5M99.4 747.7L103.4 750.7M99.7 751.6L97.2 753.7M53.4 675.7L58.2 682.1M53.4 675.7L47.3 677.6M48.7 686.7L52.3 693.7M45.2 693.9L40.8 695.7M32.0 723.0L33.6 725.6M110.6 692.0L107.5 697.1M110.9 695.9L105.9 702.0M110.5 727.9L105.3 730.6M109.4 751.8L112.7 754.8M109.2 755.8L111.2 759.2M109.2 759.8L107.3 761.7M91.3 749.9L88.1 754.2M98.0 768.7L96.4 771.2M63.7 705.8L57.9 708.3M63.5 729.8L66.2 732.1M62.7 741.8L65.9 746.1M59.7 761.5L60.9 765.3M119.1 733.9L110.2 736.6M117.5 741.7L122.9 747.6M117.5 741.7L110.5 746.1M116.4 745.6L109.5 748.4M114.6 753.4L119.6 758.7M112.1 761.0L113.2 766.5M108.3 772.3L104.5 773.8M130.4 739.0L127.6 743.2M131.9 746.8L128.0 753.1M137.8 765.9L135.4 768.4M138.9 773.8L137.5 776.5M124.3 748.9L116.4 754.2M123.1 756.8L126.8 763.0" stroke="#e9eee6" stroke-width="1.9549999999999998" stroke-linecap="round" fill="none"/>
<path d="M69.2 673.8L66.6 674.1M73.2 677.5L75.3 677.8M72.8 686.4L75.2 687.4M72.7 690.2L75.2 690.6M61.4 720.0L59.6 719.9M55.8 731.7L53.0 731.8M52.9 743.2L50.5 743.5M55.2 747.7L57.5 749.1M81.2 672.2L77.3 673.5M64.2 767.4L65.1 768.1M63.5 670.4L66.4 671.6M56.5 689.2L54.5 689.2M53.6 700.6L51.0 700.5M95.1 687.0L91.4 688.0M101.2 689.3L104.1 689.1M99.4 701.5L101.1 702.2M96.9 705.6L94.7 706.2M97.9 744.6L96.5 744.4M98.5 757.2L96.5 757.6M47.0 684.3L43.9 683.8M44.0 699.3L45.4 700.3M39.4 702.6L37.0 702.1M41.5 707.0L43.6 707.9M39.1 711.1L41.0 712.6M36.0 709.9L33.4 709.7M31.5 720.2L29.6 719.6M30.4 728.5L31.6 729.7M108.5 710.0L105.0 710.2M108.1 733.7L105.5 733.7M80.4 686.7L84.0 687.6M79.2 695.7L82.6 697.7M97.2 769.9L95.9 770.4M66.4 701.6L69.9 703.1M64.9 708.4L66.9 709.9M65.1 727.7L67.3 728.1M120.2 744.6L123.5 745.9M109.1 773.2L110.2 773.4M129.0 741.1L126.9 741.9M140.1 767.2L142.4 767.4M137.5 772.0L135.8 773.4M120.4 751.6L116.1 751.9" stroke="#cfd8cb" stroke-width="1.6099999999999999" stroke-linecap="round" fill="none"/>
<path d="M71.5 672.0L71.5 676.0M71.5 676.0L71.3 680.0M69.6 695.8L68.9 699.8M60.0 726.3L58.4 730.0M56.0 737.6L54.9 741.4M84.4 669.0L84.5 673.0M84.5 685.0L83.9 688.9M83.3 692.9L82.4 696.8M71.8 743.5L70.6 747.3M63.9 766.1L62.2 769.8M60.3 671.8L59.8 675.8M59.4 679.8L58.8 683.7M58.8 683.7L58.0 687.6M56.2 699.5L55.2 703.4M46.0 738.1L44.5 741.9M42.1 749.5L41.2 753.4M95.0 668.0L95.5 672.0M96.9 679.8L97.8 683.7M97.8 683.7L98.3 687.7M98.6 695.7L98.4 699.7M98.4 699.7L98.6 703.7M98.9 731.7L99.1 735.7M99.2 743.7L99.4 747.7M51.8 679.3L50.2 683.0M43.4 697.5L41.7 701.1M35.3 715.7L33.6 719.4M110.0 688.0L110.6 692.0M111.6 703.9L111.7 707.9M110.0 735.8L109.5 739.8M109.5 739.8L109.4 743.8M109.4 751.8L109.2 755.8M79.6 711.7L80.6 715.5M80.6 715.5L81.9 719.3M85.1 730.9L85.9 734.8M92.7 753.6L93.8 757.5M96.6 764.9L98.0 768.7M62.2 749.7L61.5 753.7M112.1 761.0L110.6 764.7M109.3 768.5L108.3 772.3M132.9 750.7L134.1 754.5M137.8 765.9L138.5 769.9M138.5 769.9L138.9 773.8M123.6 752.9L123.1 756.8" stroke="#e9eee6" stroke-width="2.3" stroke-linecap="round" fill="none"/>
<path d="M71.5 676.0L63.7 681.0M64.3 715.1L58.9 718.0M53.8 745.3L51.4 746.8M51.5 752.9L52.6 756.1M50.3 756.7L46.6 758.4M46.2 776.3L49.2 779.0M83.3 692.9L87.1 696.3M83.3 692.9L80.6 696.1M78.2 712.2L74.0 714.4M76.9 720.1L79.5 725.5M73.4 735.7L67.5 737.7M59.8 675.8L56.7 679.6M58.0 687.6L54.9 690.7M57.4 691.6L60.9 697.8M97.8 683.7L92.4 690.3M98.6 703.7L95.2 707.4M99.1 719.7L102.2 724.4M98.9 731.7L94.7 736.0M100.6 759.6L98.1 763.3M51.8 679.3L46.3 682.7M47.0 690.3L43.5 692.8M43.4 697.5L44.6 701.1M40.2 704.8L35.5 707.1M32.0 723.0L26.8 724.3M77.3 683.9L83.5 689.4M85.1 730.9L90.2 735.5M118.4 737.8L110.0 741.0M130.4 739.0L134.1 741.6M136.8 762.0L140.8 765.4M137.8 765.9L142.4 768.5M122.3 760.8L123.8 764.3M122.3 760.8L117.0 763.7M121.8 764.7L119.0 766.6" stroke="#8c9a88" stroke-width="1.9549999999999998" stroke-linecap="round" fill="none"/>
<path d="M67.6 678.5L63.4 679.0M68.6 686.7L65.3 687.7M71.8 694.6L74.3 695.4M71.9 699.4L75.3 701.1M57.1 728.0L54.2 727.3M50.1 754.1L48.4 754.3M47.4 761.7L45.4 761.6M46.5 765.3L44.6 765.1M85.2 694.6L87.4 695.2M84.5 699.3L87.3 700.4M76.1 713.3L74.0 713.1M69.7 752.5L70.7 753.4M62.1 673.8L64.3 674.4M58.6 673.4L56.5 673.5M58.3 677.7L56.2 678.5M60.7 682.4L63.0 683.6M55.7 705.1L56.9 706.1M53.1 705.1L50.6 705.3M39.6 754.7L37.8 755.0M95.7 694.3L92.2 694.3M97.7 709.7L95.7 710.5M97.2 713.6L94.9 714.3M55.8 678.9L59.1 680.3M53.5 682.4L56.4 683.4M50.5 690.2L53.7 691.8M42.4 704.2L44.6 706.1M35.5 717.2L36.5 718.0M108.4 699.0L104.9 699.7M109.5 706.1L106.8 707.1M114.3 713.5L117.0 713.9M112.9 721.6L115.1 722.1M107.7 749.0L105.8 749.2M93.1 750.5L94.7 750.1M93.0 760.2L90.8 761.6M101.2 772.6L102.4 771.9M98.9 773.3L98.0 773.8M60.8 707.1L58.1 706.2M61.7 731.8L59.2 732.4M112.9 747.0L109.8 745.8M112.7 763.7L114.5 765.4M132.3 740.3L134.3 740.1M130.0 750.0L126.8 751.0M124.8 754.7L126.6 755.2" stroke="#e9eee6" stroke-width="1.6099999999999999" stroke-linecap="round" fill="none"/>
<path d="M71.2 684.0L71.0 688.0M65.7 711.4L64.3 715.1M50.3 756.7L49.2 760.6M49.2 760.6L48.4 764.5M46.9 772.4L46.2 776.3M81.2 700.6L79.9 704.4M75.0 727.8L74.2 731.8M74.2 731.8L73.4 735.7M69.2 751.1L67.7 754.8M59.8 675.8L59.4 679.8M54.2 707.2L53.2 711.1M53.2 711.1L52.0 714.9M52.0 714.9L51.0 718.8M48.2 730.5L47.2 734.3M43.1 745.6L42.1 749.5M99.1 723.7L99.0 727.7M55.0 672.0L53.4 675.7M50.2 683.0L48.7 686.7M33.6 719.4L32.0 723.0M110.6 692.0L110.9 695.9M111.8 711.9L111.5 715.9M111.2 719.9L111.0 723.9M111.0 723.9L110.5 727.9M109.2 755.8L109.2 759.8M78.0 680.0L77.3 683.9M76.9 687.9L76.9 691.9M78.8 707.8L79.6 711.7M65.4 694.0L64.7 697.9M64.7 697.9L64.2 701.9M63.7 705.8L63.3 709.8M63.3 709.8L63.1 713.8M63.0 717.8L63.1 721.8M63.1 721.8L63.4 725.8M63.1 737.8L62.7 741.8M113.5 757.2L112.1 761.0M130.0 735.0L130.4 739.0M131.1 742.9L131.9 746.8M131.9 746.8L132.9 750.7M135.6 758.2L136.8 762.0M136.8 762.0L137.8 765.9M124.3 748.9L123.6 752.9M122.3 760.8L121.8 764.7" stroke="#cfd8cb" stroke-width="2.3" stroke-linecap="round" fill="none"/>
<path d="M71.0 688.0L74.5 692.4M64.3 715.1L66.7 718.5M57.1 733.7L53.5 735.0M56.0 737.6L58.1 743.7M56.0 737.6L51.3 740.8M48.4 764.5L44.5 766.1M84.5 673.0L78.5 678.3M84.5 685.0L78.0 689.3M76.9 720.1L73.0 722.8M75.9 723.9L71.2 726.5M73.4 735.7L75.6 738.5M69.2 751.1L70.2 753.9M60.3 671.8L56.8 674.9M59.4 679.8L61.9 684.9M54.2 707.2L51.5 709.6M53.2 711.1L56.0 714.3M49.0 726.5L44.8 730.1M46.0 738.1L46.8 742.1M96.1 675.9L101.6 679.8M98.4 699.7L93.3 702.6M99.1 735.7L97.1 738.0M99.2 743.7L102.1 747.3M100.1 755.6L102.6 758.6M51.8 679.3L55.1 685.4M50.2 683.0L43.7 685.6M41.7 701.1L43.1 707.3M33.6 719.4L35.5 724.9M33.6 719.4L29.4 721.1M110.6 692.0L115.9 695.3M109.5 739.8L105.7 742.6M76.9 691.9L81.5 699.5M77.9 703.9L84.3 708.7M79.6 711.7L84.3 716.3M83.1 723.2L81.5 727.2M84.2 727.0L82.1 732.0M85.1 730.9L82.9 737.3M88.5 742.4L85.8 746.7M96.6 764.9L100.8 767.2M64.2 701.9L57.6 705.9M63.7 705.8L66.2 710.9M63.4 725.8L57.3 730.0M63.5 729.8L59.8 733.9M63.1 737.8L59.1 741.9M62.7 741.8L59.4 744.9M62.6 745.8L66.8 748.6M61.5 753.7L58.5 757.0M58.9 765.4L60.2 769.2M138.5 769.9L136.5 774.2M120.6 772.6L118.7 774.3" stroke="#f2f4f0" stroke-width="1.9549999999999998" stroke-linecap="round" fill="none"/>
<path d="M71.0 688.0L66.3 694.3M70.4 691.9L73.2 697.2M54.9 741.4L50.9 745.0M46.9 772.4L47.9 775.2M46.9 772.4L44.8 774.5M84.8 681.0L88.5 684.7M83.9 688.9L86.8 694.1M81.2 700.6L84.8 706.1M75.0 727.8L77.5 731.3M55.2 703.4L56.2 706.7M54.2 707.2L58.3 711.6M48.2 730.5L50.8 735.3M44.5 741.9L45.0 744.3M43.1 745.6L39.0 748.2M42.1 749.5L39.7 750.1M98.6 703.7L103.3 707.5M100.6 759.6L103.5 763.0M37.0 712.1L39.4 716.7M111.6 703.9L115.9 709.3M79.6 711.7L74.2 717.3M84.2 727.0L89.0 730.7M87.0 738.6L91.6 740.9M91.3 749.9L94.9 751.1M63.1 713.8L67.0 717.3M63.1 721.8L67.4 724.4M63.4 725.8L66.8 729.6M109.3 768.5L111.0 772.9M123.6 752.9L116.5 756.1M121.0 768.7L124.3 772.3" stroke="#a3b09f" stroke-width="1.9549999999999998" stroke-linecap="round" fill="none"/>
<path d="M68.6 691.1L65.5 692.8M67.8 693.3L65.2 693.1M64.8 721.1L67.4 721.6M53.4 750.9L54.9 751.7M86.7 670.9L89.3 671.0M85.4 691.5L87.8 692.7M66.2 755.6L64.7 755.3M55.6 681.8L51.7 681.1M56.2 709.4L58.8 710.3M54.2 717.6L57.0 718.8M43.7 738.7L41.9 737.7M43.5 751.5L45.5 752.4M93.3 676.1L89.7 678.3M100.2 684.7L102.4 684.0M100.9 694.3L103.9 695.3M97.0 697.2L94.9 697.2M96.7 725.4L94.0 725.8M96.8 733.8L94.1 734.5M100.3 737.7L102.3 738.5M100.6 745.5L102.6 746.4M101.4 749.2L103.7 749.2M45.2 691.6L43.3 691.5M41.1 698.0L39.3 696.9M34.5 722.2L36.5 723.9M29.4 723.7L27.2 722.6M114.0 697.6L117.2 697.3M108.3 726.2L105.2 726.7M107.6 741.2L105.5 741.0M111.0 753.3L113.0 753.6M108.3 756.6L107.3 756.7M60.3 716.0L57.1 716.6M61.2 719.4L59.1 719.4M63.7 752.1L66.1 752.8M58.5 762.7L56.9 762.9M114.6 758.9L116.3 759.6M110.2 770.7L112.0 771.9M106.4 773.0L104.7 772.3M133.2 744.4L135.4 744.7M134.3 761.5L131.5 763.0M136.1 763.9L134.6 764.8M126.5 753.0L130.0 755.3" stroke="#bcc7b7" stroke-width="1.6099999999999999" stroke-linecap="round" fill="none"/>
<path d="M70.4 691.9L65.2 694.7M65.7 711.4L61.4 713.1M63.1 718.9L66.6 723.4M79.9 704.4L82.6 708.2M79.9 704.4L76.6 706.0M71.8 743.5L73.3 747.5M70.6 747.3L66.4 748.4M66.5 758.6L68.6 763.0M63.9 766.1L64.6 768.6M58.8 683.7L62.7 687.9M58.8 683.7L53.3 686.7M56.2 699.5L51.0 701.7M55.2 703.4L51.0 706.8M51.0 718.8L53.0 724.0M51.0 718.8L48.3 720.8M96.9 679.8L92.3 684.2M98.3 687.7L104.0 690.8M99.0 727.7L101.4 729.5M99.1 735.7L101.6 739.6M99.1 739.7L101.6 741.8M99.7 751.6L102.9 754.0M100.1 755.6L96.9 758.7M41.7 701.1L37.1 704.1M35.3 715.7L35.7 718.6M110.9 695.9L117.2 699.2M111.7 707.9L116.2 713.6M111.8 711.9L116.9 715.2M111.2 719.9L106.6 723.1M111.0 723.9L105.7 728.5M110.4 731.9L113.4 733.9M109.2 759.8L111.3 761.7M76.9 695.9L72.1 700.6M77.3 699.9L82.5 703.9M89.7 746.2L88.9 749.1M95.2 761.2L97.8 762.7M98.0 768.7L100.2 770.1M99.6 772.4L102.7 772.8M65.4 694.0L72.4 700.6M63.3 709.8L57.2 713.8M63.0 717.8L59.5 721.0M60.7 757.6L63.0 760.9M60.7 757.6L56.6 759.2M113.5 757.2L115.8 760.5M108.3 772.3L109.9 774.1M131.1 742.9L127.9 745.8M132.9 750.7L137.2 752.8M123.1 756.8L116.0 761.1" stroke="#dde4d9" stroke-width="1.9549999999999998" stroke-linecap="round" fill="none"/>
<path d="M68.9 699.8L68.0 703.7M64.3 715.1L63.1 718.9M53.8 745.3L52.7 749.1M79.9 704.4L79.0 708.2M62.0 664.0L61.0 667.9M47.2 734.3L46.0 738.1M99.1 711.7L99.1 715.7M99.1 719.7L99.1 723.7M99.7 751.6L100.1 755.6M41.7 701.1L40.2 704.8M30.2 726.6L28.6 730.3M111.3 699.9L111.6 703.9M77.3 699.9L77.9 703.9M58.9 765.4L57.9 769.3M119.1 733.9L118.4 737.8M115.6 749.5L114.6 753.4" stroke="#76846f" stroke-width="2.3" stroke-linecap="round" fill="none"/>
<path d="M68.0 703.7L66.8 707.5M48.4 764.5L47.7 768.4M84.5 673.0L84.8 677.0M76.9 720.1L75.9 723.9M75.9 723.9L75.0 727.8M70.6 747.3L69.2 751.1M61.0 667.9L60.3 671.8M56.9 695.6L56.2 699.5M44.5 741.9L43.1 745.6M96.1 675.9L96.9 679.8M98.6 703.7L98.9 707.7M99.1 715.7L99.1 719.7M48.7 686.7L47.0 690.3M47.0 690.3L45.2 693.9M32.0 723.0L30.2 726.6M109.4 747.8L109.4 751.8M77.3 683.9L76.9 687.9M81.9 719.3L83.1 723.2M88.5 742.4L89.7 746.2M93.8 757.5L95.2 761.2M66.0 690.0L65.4 694.0M63.1 713.8L63.0 717.8M63.4 725.8L63.5 729.8M117.5 741.7L116.4 745.6M116.4 745.6L115.6 749.5M125.0 745.0L124.3 748.9" stroke="#f2f4f0" stroke-width="2.3" stroke-linecap="round" fill="none"/>
<path d="M65.7 711.4L67.9 715.3M51.5 752.9L48.7 755.4M67.7 754.8L64.7 756.5M53.2 711.1L46.4 713.6M46.0 738.1L41.5 739.3M41.2 753.4L41.9 755.5M95.5 672.0L91.2 680.3M97.8 683.7L102.6 685.6M98.3 687.7L94.4 692.0M98.6 691.7L92.7 696.8M99.1 719.7L96.5 722.2M99.1 723.7L94.3 727.1M98.9 731.7L101.6 733.3M48.7 686.7L43.9 688.7M43.4 697.5L38.8 698.4M38.7 708.5L33.4 711.2M111.3 699.9L106.6 707.7M111.6 703.9L107.3 708.4M111.7 707.9L105.3 712.1M109.4 743.8L112.1 748.5M80.6 715.5L78.8 720.3M88.5 742.4L92.4 743.7M89.7 746.2L94.5 748.4M93.8 757.5L92.2 763.0M63.0 717.8L66.1 720.2M57.9 769.3L56.2 770.8M134.1 754.5L132.6 759.4M135.6 758.2L133.1 764.8" stroke="#76846f" stroke-width="1.9549999999999998" stroke-linecap="round" fill="none"/>
<path d="M66.8 713.3L68.5 714.4M61.6 716.6L58.8 716.2M48.6 770.1L50.0 770.9M46.0 769.3L44.4 768.8M86.7 678.6L89.0 678.5M81.3 687.1L77.7 687.3M82.0 690.3L79.9 690.5M73.6 725.2L71.2 724.7M76.2 729.6L78.1 730.2M70.4 736.7L67.8 735.6M72.6 745.5L74.2 746.5M49.8 712.4L46.6 711.6M46.9 731.5L45.4 731.5M41.0 746.9L38.8 746.6M40.9 749.8L39.8 749.5M100.7 722.0L103.1 723.0M96.7 728.9L94.4 728.8M102.0 761.3L103.9 762.1M50.8 685.3L52.3 686.8M113.1 726.8L116.2 727.3M108.8 736.8L107.4 737.0M107.1 745.6L104.4 746.1M74.9 686.5L71.8 687.1M86.6 728.8L89.3 729.4M87.7 733.2L90.8 733.3M95.6 758.8L97.5 758.9M68.9 697.3L73.2 697.8M64.8 731.0L66.4 731.1M61.1 739.8L58.6 740.4M61.9 759.3L63.6 759.9M60.3 763.4L61.9 764.3M110.9 758.7L108.2 758.8" stroke="#f2f4f0" stroke-width="1.6099999999999999" stroke-linecap="round" fill="none"/>
<path d="M63.1 718.9L61.6 722.6M54.9 741.4L53.8 745.3M84.8 681.0L84.5 685.0M55.2 703.4L54.2 707.2M49.0 726.5L48.2 730.5M98.6 691.7L98.6 695.7M100.1 755.6L100.6 759.6M45.2 693.9L43.4 697.5M84.2 727.0L85.1 730.9M95.2 761.2L96.6 764.9M114.6 753.4L113.5 757.2" stroke="#a3b09f" stroke-width="2.3" stroke-linecap="round" fill="none"/>
<ellipse cx="104" cy="624" rx="30" ry="30" fill="#5b6657" opacity="1.0" transform="rotate(0 104 624)"/>
<ellipse cx="74" cy="645" rx="18" ry="24" fill="#4a5448" opacity="1.0" transform="rotate(0 74 645)"/>
<path d="M112.9 617.4L116.0 599.1M110.7 629.7L145.6 613.2M97.8 609.0L68.5 640.3M92.8 618.0L99.0 637.2M105.2 629.5L98.0 663.1M101.4 614.1L138.9 610.8M108.6 626.1L91.5 619.2M103.0 612.8L100.9 640.4M105.8 621.0L94.1 632.7M96.7 619.5L119.1 626.8M93.2 615.8L108.9 649.1M92.7 618.2L91.9 597.5M105.7 616.3L79.1 632.7M101.8 608.0L146.7 600.8M101.5 611.1L129.8 591.1M107.4 612.2L114.0 596.5M109.4 608.5L120.0 574.8M113.2 619.0L93.1 604.5M102.7 616.7L81.7 599.7M101.6 614.6L129.4 617.1M96.5 607.0L73.6 625.0M108.0 622.7L115.2 597.5M98.6 619.9L78.2 589.9M100.4 615.0L99.4 586.8M96.1 614.2L102.7 650.2M114.6 618.8L125.2 605.7M95.2 621.3L117.0 643.2M113.8 622.9L127.5 646.0M107.2 625.1L142.7 629.2M106.6 611.3L145.0 618.2" stroke="#f7f8f6" stroke-width="2.1" stroke-linecap="round" fill="none"/>
<path d="M105.7 614.4L133.7 650.5M106.7 628.9L133.8 600.4M100.7 613.4L80.7 640.8M93.5 608.8L133.4 601.6M111.0 610.6L87.9 613.2M100.9 619.0L88.7 648.4M98.5 615.7L134.7 609.0M96.2 624.6L77.0 612.1M104.3 608.9L132.5 624.5M99.5 613.4L89.0 598.7M114.6 619.1L138.4 606.1M109.0 622.2L90.0 591.2M114.1 618.0L78.4 618.3M108.6 626.1L66.9 619.7M97.8 627.3L81.9 612.3M110.2 615.7L150.1 618.9M114.3 608.5L80.8 627.8M95.3 628.1L117.9 620.8M108.1 615.4L131.1 628.9M93.2 625.7L133.4 614.6" stroke="#5d6a5a" stroke-width="2.1" stroke-linecap="round" fill="none"/>
<path d="M111.0 624.0L127.2 582.3M101.8 626.6L120.5 655.5M111.0 612.9L118.2 641.1M100.5 616.7L70.7 648.3M100.3 614.6L75.2 611.2M111.4 606.4L140.1 626.7M108.3 620.1L70.6 596.6M100.7 619.4L93.4 585.2M108.8 628.4L142.5 623.0M107.1 614.8L118.8 603.4M94.2 627.0L104.6 655.0M95.0 608.2L126.3 636.7M94.0 607.6L114.4 599.2M110.2 621.5L154.3 624.8M111.4 625.8L129.9 588.5M106.2 607.0L65.3 626.8M106.4 608.7L79.9 626.7M111.0 628.2L118.4 584.5M111.2 628.5L144.1 641.5M106.8 610.5L100.5 586.0M115.8 610.7L112.4 579.8M93.7 617.4L98.3 655.9M114.8 628.7L145.6 642.6M96.3 611.0L83.4 593.3M95.9 621.0L92.6 637.0M113.7 620.1L71.0 623.5M96.5 614.3L89.5 640.4M109.7 624.5L72.1 598.4M112.4 613.6L120.4 642.5" stroke="#4a5648" stroke-width="2.1" stroke-linecap="round" fill="none"/>
<path d="M109.5 613.1L96.3 591.1M108.9 608.3L134.2 605.9M111.5 629.5L136.5 657.3M114.8 607.0L117.8 587.1M94.1 619.7L112.9 613.4M114.2 625.8L143.6 635.6M96.5 614.6L60.0 638.7M105.2 629.4L112.7 666.1M113.4 611.5L97.2 622.5M95.1 621.5L78.1 631.6M96.2 624.6L75.5 649.8M96.2 613.8L81.5 630.5M93.5 608.2L122.2 630.6M115.1 608.9L123.2 571.9M97.2 622.6L86.6 634.8M95.6 627.7L120.9 651.9M98.8 607.9L94.2 589.7M95.5 618.4L99.9 634.4M109.7 613.7L147.2 609.6M109.6 627.2L101.3 661.8M110.9 618.5L147.4 619.8M98.0 626.7L104.3 599.7M109.2 618.1L145.3 604.6M96.3 626.4L112.0 660.8M108.2 621.4L151.0 625.9M112.1 620.3L129.8 623.7" stroke="#6d7a69" stroke-width="2.1" stroke-linecap="round" fill="none"/>
<path d="M107.7 617.0L73.1 619.0M113.6 606.4L130.4 618.3M95.9 622.3L117.7 614.6M92.4 629.6L129.6 655.9M107.2 620.1L80.4 625.5M105.7 606.4L115.9 629.1M108.6 615.6L128.2 588.1M107.7 615.8L77.3 610.2M112.9 618.4L143.9 589.5M96.5 623.4L86.6 642.2M102.4 609.8L100.7 576.3M115.1 613.8L151.0 640.1M101.2 614.3L144.0 602.8M95.2 626.0L63.1 658.1M99.1 625.4L83.3 666.6M103.6 608.5L117.1 577.4M113.8 620.9L111.0 596.7M105.5 627.0L115.0 608.2M112.5 619.2L128.3 604.6M115.5 610.1L139.6 590.3M97.3 610.8L89.1 634.6M111.9 607.8L122.7 620.4M108.2 618.9L120.9 660.7M114.5 611.6L83.7 632.2M114.1 624.5L143.2 630.1M113.5 607.9L100.4 629.6" stroke="#c9d2c5" stroke-width="2.1" stroke-linecap="round" fill="none"/>
<path d="M92.9 627.1L51.4 608.1M98.2 613.9L99.2 640.9M111.6 624.7L100.2 607.1M102.8 619.6L102.9 659.9M107.3 606.5L139.2 626.7M111.0 607.7L82.9 613.2M113.7 620.7L68.6 617.3M99.5 609.9L101.4 632.0M105.2 622.6L145.1 614.4M104.0 624.7L104.8 661.8M97.8 620.6L99.0 582.8M94.4 620.6L74.6 625.5M93.8 613.5L116.7 597.0M92.3 606.5L128.8 612.5M104.2 621.8L99.1 650.1M94.9 616.3L77.8 621.7M95.7 626.5L74.2 660.3M101.0 613.9L111.9 632.6M114.0 616.3L130.9 625.7M96.8 626.1L112.1 582.9M112.7 615.6L107.0 651.1M111.3 628.1L154.6 622.2M114.3 616.9L103.8 583.9M96.1 608.7L115.1 625.5M106.1 623.4L118.1 609.4M107.9 627.6L149.1 607.7M102.0 606.7L83.7 581.0M96.9 625.4L95.0 602.5M99.6 619.4L76.0 615.4M106.1 614.6L123.9 606.9M98.5 626.6L87.3 596.7M92.9 627.3L59.6 639.4M111.2 622.3L118.7 638.6M96.3 619.4L107.7 593.8M105.0 617.1L95.3 635.5M97.5 620.0L65.8 615.4M94.7 618.6L97.9 639.6M106.5 612.2L102.5 637.5M109.5 610.3L137.4 621.0M104.6 628.9L81.4 608.3" stroke="#98a494" stroke-width="2.1" stroke-linecap="round" fill="none"/>
<path d="M110.7 615.4L117.6 597.7M113.7 624.5L107.3 665.9M97.2 619.1L107.8 637.0M100.9 620.9L78.5 647.0M111.3 611.3L117.4 640.5M111.3 612.8L85.0 600.3M108.2 615.2L83.6 621.4M103.4 611.4L71.7 605.0M93.5 620.7L77.1 657.7M103.6 619.0L140.9 621.5M110.4 612.0L135.4 617.3M108.3 612.7L130.4 613.6M111.2 614.6L144.9 621.0M115.1 609.2L109.1 585.4M105.8 629.8L110.7 649.4M106.7 618.0L139.5 594.4M94.9 624.5L86.1 609.8M100.0 616.0L84.4 642.0M93.0 610.3L102.9 624.7M107.7 611.2L71.7 627.9M105.7 623.1L138.3 622.8M112.8 618.3L118.8 646.9M106.9 618.5L132.8 620.8M99.7 627.3L122.9 601.9M112.8 608.3L131.3 599.2M108.1 610.2L124.1 628.4M100.0 609.8L63.7 637.9M94.5 608.3L113.2 648.3M111.6 612.0L117.8 595.9M93.7 620.1L91.5 586.5M92.4 611.8L69.3 619.6" stroke="#eef1ec" stroke-width="2.1" stroke-linecap="round" fill="none"/>
<path d="M94.4 618.7L116.6 627.9M98.9 613.6L77.9 579.4M104.8 616.0L143.2 594.4M109.4 607.7L118.8 568.5M96.2 610.4L101.1 576.4M104.7 625.8L121.1 623.2M95.5 611.1L79.3 573.0M95.1 627.7L69.4 653.2M106.0 628.6L92.8 603.6M93.0 625.0L77.1 635.1M108.6 623.0L106.9 596.8M93.2 611.8L78.5 620.7M105.6 620.1L96.1 581.4M95.8 625.0L103.3 595.2M104.7 613.1L145.1 594.4M115.5 613.3L152.3 634.9M95.8 620.4L117.0 657.7M106.1 626.8L65.4 645.3M113.7 622.1L119.6 597.6M102.7 629.5L138.7 627.5M97.9 618.2L122.8 608.4M93.0 623.7L103.2 667.7M98.2 621.0L127.3 629.1M103.0 622.5L96.9 601.5M105.8 620.3L74.2 626.5M94.3 627.0L109.6 647.2M115.5 616.8L108.2 597.5" stroke="#e0e6dd" stroke-width="2.1" stroke-linecap="round" fill="none"/>
<path d="M101.6 611.3L112.2 626.9M112.3 617.5L140.0 598.7M115.3 620.5L135.5 579.8M112.8 627.8L139.2 629.3M97.0 622.3L81.0 608.4M100.3 609.5L68.5 619.7M114.4 629.4L114.5 659.2M110.0 614.3L95.5 627.1M99.1 616.9L88.7 582.6M96.1 623.7L124.1 604.3M98.2 608.5L111.9 600.1M114.1 626.1L132.6 604.0M98.7 623.3L104.4 648.2M106.5 611.1L98.8 632.5M108.6 625.6L136.8 617.0M110.5 615.7L74.1 591.2M97.9 625.4L123.6 620.7M92.5 629.7L101.9 665.1M109.4 608.7L125.4 643.6M92.6 606.4L72.2 607.5M105.3 612.3L121.7 576.3M115.3 606.4L132.7 607.3M92.5 612.3L129.9 637.2M99.0 612.1L60.3 604.6M112.6 622.8L93.6 635.5M101.8 617.5L142.8 604.2M100.2 612.0L109.0 588.6M110.7 610.9L117.8 576.4M111.9 617.5L122.4 633.0M97.0 621.8L118.9 615.9M109.8 606.5L112.9 630.4" stroke="#3e4a3c" stroke-width="2.1" stroke-linecap="round" fill="none"/>
<path d="M88.2 613.9L71.0 595.4M87.1 610.9L62.2 597.7M87.6 611.7L51.1 580.7M92.4 610.5L53.2 592.0M89.1 607.9L48.4 592.6M86.0 608.9L69.4 584.2M89.7 613.1L56.0 584.3M91.4 613.6L73.4 598.0M88.8 611.2L57.7 616.5M91.0 609.6L79.4 590.1M89.2 606.8L82.4 581.3" stroke="#dfe4dc" stroke-width="1.3" stroke-linecap="round" fill="none"/>
<path d="M86.7 610.4L79.2 573.0M87.6 613.2L66.7 608.2M87.7 606.4L65.8 594.3M86.6 606.3L51.1 607.7M90.8 611.8L61.9 608.8M91.5 606.9L65.0 591.8M87.1 612.9L66.8 599.3M92.7 611.1L82.4 576.3M86.0 611.0L37.1 613.3" stroke="#c4ccc0" stroke-width="1.3" stroke-linecap="round" fill="none"/>
<g transform="translate(72,577) rotate(-20)"><ellipse rx="11" ry="17" fill="#33302d"/><ellipse cx="-6.2" cy="-13.6" rx="3.3" ry="2.0" fill="#e0dcd8" transform="rotate(-21 -6.2 -13.6)"/><ellipse cx="1.8" cy="-13.6" rx="3.3" ry="2.0" fill="#5a524c" transform="rotate(-34 1.8 -13.6)"/><ellipse cx="7.0" cy="-13.6" rx="3.3" ry="2.0" fill="#e0dcd8" transform="rotate(-34 7.0 -13.6)"/><ellipse cx="-4.5" cy="-8.2" rx="3.3" ry="2.0" fill="#e0dcd8" transform="rotate(28 -4.5 -8.2)"/><ellipse cx="2.0" cy="-8.2" rx="3.3" ry="2.0" fill="#5a524c" transform="rotate(14 2.0 -8.2)"/><ellipse cx="6.6" cy="-8.2" rx="3.3" ry="2.0" fill="#f0f0f0" transform="rotate(-27 6.6 -8.2)"/><ellipse cx="-6.0" cy="-2.7" rx="3.3" ry="2.0" fill="#e0dcd8" transform="rotate(25 -6.0 -2.7)"/><ellipse cx="-1.7" cy="-2.7" rx="3.3" ry="2.0" fill="#1e1a18" transform="rotate(-33 -1.7 -2.7)"/><ellipse cx="6.8" cy="-2.7" rx="3.3" ry="2.0" fill="#f0f0f0" transform="rotate(-17 6.8 -2.7)"/><ellipse cx="-7.2" cy="2.7" rx="3.3" ry="2.0" fill="#e0dcd8" transform="rotate(-19 -7.2 2.7)"/><ellipse cx="1.1" cy="2.7" rx="3.3" ry="2.0" fill="#e0dcd8" transform="rotate(-0 1.1 2.7)"/><ellipse cx="5.1" cy="2.7" rx="3.3" ry="2.0" fill="#1e1a18" transform="rotate(-15 5.1 2.7)"/><ellipse cx="-6.6" cy="8.2" rx="3.3" ry="2.0" fill="#f0f0f0" transform="rotate(-17 -6.6 8.2)"/><ellipse cx="-0.6" cy="8.2" rx="3.3" ry="2.0" fill="#f0f0f0" transform="rotate(10 -0.6 8.2)"/><ellipse cx="6.1" cy="8.2" rx="3.3" ry="2.0" fill="#5a524c" transform="rotate(4 6.1 8.2)"/><ellipse cx="-6.4" cy="13.6" rx="3.3" ry="2.0" fill="#e0dcd8" transform="rotate(4 -6.4 13.6)"/><ellipse cx="-0.6" cy="13.6" rx="3.3" ry="2.0" fill="#5a524c" transform="rotate(14 -0.6 13.6)"/><ellipse cx="7.2" cy="13.6" rx="3.3" ry="2.0" fill="#e0dcd8" transform="rotate(-35 7.2 13.6)"/></g>
<polygon points="66.0,584.0 95.0,571.0 110.0,577.0 102.0,594.0 74.0,598.0" fill="url(#check)" stroke="#1a1a1a" stroke-width="1" stroke-linejoin="round" />
<path d="M46,672 L57,668 L67,708 L58,712 Z" fill="#141414"/>
<path d="M48.0 650.0L36.7 635.0M48.0 650.0L30.0 650.0M48.0 650.0L37.5 656.7M48.0 650.0L25.0 675.0M48.0 650.0L5.8 683.0M48.0 650.0L35.0 663.0M48.0 650.0L28.0 660.0" stroke="#6e1a14" stroke-width="1.2" fill="none"/>
<circle cx="36.7" cy="635.0" r="4.6" fill="url(#berry)"/>
<circle cx="35.2" cy="633.4" r="0.9" fill="#ffe0e0" opacity="0.85"/>
<circle cx="43.3" cy="635.0" r="4.6" fill="url(#berry)"/>
<circle cx="41.8" cy="633.4" r="0.9" fill="#ffe0e0" opacity="0.85"/>
<circle cx="30.0" cy="650.0" r="4.6" fill="url(#berry)"/>
<circle cx="28.5" cy="648.4" r="0.9" fill="#ffe0e0" opacity="0.85"/>
<circle cx="35.8" cy="643.0" r="4.6" fill="url(#berry)"/>
<circle cx="34.3" cy="641.4" r="0.9" fill="#ffe0e0" opacity="0.85"/>
<circle cx="37.5" cy="656.7" r="4.6" fill="url(#berry)"/>
<circle cx="36.0" cy="655.1" r="0.9" fill="#ffe0e0" opacity="0.85"/>
<circle cx="18.3" cy="666.7" r="4.6" fill="url(#berry)"/>
<circle cx="16.8" cy="665.1" r="0.9" fill="#ffe0e0" opacity="0.85"/>
<circle cx="25.0" cy="675.0" r="4.6" fill="url(#berry)"/>
<circle cx="23.5" cy="673.4" r="0.9" fill="#ffe0e0" opacity="0.85"/>
<circle cx="15.8" cy="673.0" r="4.6" fill="url(#berry)"/>
<circle cx="14.3" cy="671.4" r="0.9" fill="#ffe0e0" opacity="0.85"/>
<circle cx="5.8" cy="683.0" r="4.6" fill="url(#berry)"/>
<circle cx="4.3" cy="681.4" r="0.9" fill="#ffe0e0" opacity="0.85"/>
<circle cx="16.7" cy="686.0" r="4.6" fill="url(#berry)"/>
<circle cx="15.2" cy="684.4" r="0.9" fill="#ffe0e0" opacity="0.85"/>
<circle cx="35.0" cy="663.0" r="4.6" fill="url(#berry)"/>
<circle cx="33.5" cy="661.4" r="0.9" fill="#ffe0e0" opacity="0.85"/>
<circle cx="40.8" cy="670.0" r="4.6" fill="url(#berry)"/>
<circle cx="39.3" cy="668.4" r="0.9" fill="#ffe0e0" opacity="0.85"/>
<circle cx="28.0" cy="660.0" r="4.6" fill="url(#berry)"/>
<circle cx="26.5" cy="658.4" r="0.9" fill="#ffe0e0" opacity="0.85"/>
<polygon points="954.7,862.0 1119.4,862.0 1131.5,870.0 1131.5,940.0 943.6,940.0 943.6,870.0" fill="#1b1b1b" />
<line x1="944" y1="914.5" x2="1131" y2="914.5" stroke="#333" stroke-width="1"/>
<rect x="956.0" y="686.0" width="163.4" height="228.0" fill="#1b1b1b" />
<rect x="972.0" y="687.0" width="131.8" height="206.0" fill="url(#bg)" />
<rect x="972.0" y="695.2" width="131.8" height="7.2" fill="#1c1c1c" />
<rect x="976.4" y="687.0" width="6.4" height="206.0" fill="#1c1c1c" />
<rect x="972.0" y="687.0" width="2.0" height="206.0" fill="#1c1c1c" />
<rect x="1086.0" y="724.0" width="9.6" height="169.0" fill="#1c1c1c" />
<rect x="972.0" y="815.0" width="15.6" height="6.0" fill="#1c1c1c" />
<rect x="1086.5" y="815.0" width="17.3" height="6.0" fill="#1c1c1c" />
<rect x="972.0" y="860.0" width="15.6" height="33.0" fill="#1e1e1e" />
<rect x="1086.5" y="860.0" width="17.3" height="33.0" fill="#1e1e1e" />
<path d="M986.8,893.0 L986.8,760.0 C1006.6,748.0 1021.5,752.0 1041.4,750.0 C1061.2,747.0 1078.1,752.0 1086.0,759.0 L1086.0,893.0 Z" fill="url(#candle)"/>
<rect x="1009.2" y="686.0" width="10.4" height="208.0" fill="#1b1b1b" />
<rect x="1049.2" y="686.0" width="17.6" height="208.0" fill="#1b1b1b" />
<rect x="972.0" y="714.4" width="131.8" height="9.6" fill="#1b1b1b" />
<rect x="972.0" y="856.0" width="131.8" height="9.6" fill="#1b1b1b" />
<polygon points="995.0,629.0 1079.5,629.0 1133.0,673.3 940.9,673.3" fill="#232323" />
<polygon points="995.0,619.8 950.5,643.6 940.9,673.3 995.0,629.0" fill="#9e9e9e" />
<rect x="940.0" y="673.0" width="193.3" height="13.0" fill="#161616" />
<rect x="994.6" y="592.0" width="84.9" height="39.0" fill="#1b1b1b" />
<rect x="1005.0" y="598.0" width="62.0" height="12.0" fill="url(#bg)" />
<rect x="987.6" y="575.6" width="98.2" height="19.1" fill="#1b1b1b" />
<rect x="987.6" y="575.6" width="98.2" height="7.4" fill="#2e2e2e" />
<line x1="988" y1="576.1" x2="1085" y2="576.1" stroke="#5a5a5a" stroke-width="1"/>
<path d="M1025.5,519.0 C1022.5,522.0 1014.0,528.6 1014.0,546.4 C1014.0,556.1 1018.5,564.0 1020.0,568.0 C1018.5,572.4 1012.0,578.2 1009.0,582.6 L1063.0,582.6 C1060.0,578.2 1053.5,572.4 1052.0,568.0 C1053.5,564.0 1058.0,556.1 1058.0,546.4 C1058.0,528.6 1049.5,522.0 1046.5,519.0 Z" fill="url(#ball)"/>
<ellipse cx="1025.0" cy="547.4" rx="2.1" ry="4.6" fill="#9a9a9a" opacity="0.75"/>
<ellipse cx="1045.2" cy="547.4" rx="2.1" ry="4.6" fill="#9a9a9a" opacity="0.75"/>
<circle cx="1025.6" cy="571.0" r="1.6" fill="#a0a0a0" opacity="0.75"/>
<circle cx="1029.2" cy="523.0" r="1.4" fill="#a0a0a0" opacity="0.75"/>
<circle cx="1044.7" cy="571.0" r="1.6" fill="#a0a0a0" opacity="0.75"/>
<circle cx="1041.7" cy="523.0" r="1.4" fill="#a0a0a0" opacity="0.75"/>
<circle cx="1037" cy="479.5" r="33.3" fill="none" stroke="#1b1b1b" stroke-width="3"/>
<circle cx="1036" cy="508.5" r="8.5" fill="url(#ball)"/>
<ellipse cx="1130" cy="740" rx="20" ry="40" fill="#dfe5dc" opacity="0.5" transform="rotate(-10 1130 740)"/>
<path d="M1120.0 690.0L1119.2 693.9M1118.5 697.9L1117.6 701.8M1116.7 705.6L1116.0 709.6M1106.4 735.8L1104.6 739.4M1098.7 749.9L1096.7 753.3M1094.3 756.5L1091.7 759.6M1089.0 762.5L1086.2 765.4M1127.0 742.1L1125.5 745.8M1123.8 749.4L1122.0 753.0M1117.0 763.9L1115.1 767.4M1150.8 708.0L1151.2 711.9M1151.2 711.9L1151.3 715.9M1150.7 747.9L1150.2 751.8M1148.5 775.7L1148.4 779.7M1101.7 707.7L1100.7 711.5M1096.9 722.9L1095.2 726.5M1088.9 741.2L1087.0 744.8M1071.2 785.7L1070.0 789.5M1161.1 712.9L1162.1 716.8M1167.5 736.0L1168.6 739.9M1171.1 747.5L1172.5 751.2M1095.0 752.0L1094.7 756.0M1180.4 741.6L1182.7 744.8M1120.5 735.0L1119.4 738.9M1115.9 750.3L1115.1 754.3M1114.4 758.2L1113.5 762.1M1113.5 762.1L1112.4 765.9M1109.7 727.7L1108.8 731.6M1106.5 747.4L1106.1 751.4M1106.1 751.4L1105.4 755.3" stroke="#e9eee6" stroke-width="2.3" stroke-linecap="round" fill="none"/>
<path d="M1119.2 693.9L1121.7 698.1M1106.4 735.8L1108.4 741.4M1104.6 739.4L1098.0 740.6M1115.1 767.4L1118.2 772.5M1113.3 770.9L1110.4 771.6M1106.0 785.1L1106.6 787.8M1151.3 715.9L1159.1 720.7M1151.3 715.9L1147.3 719.4M1151.8 731.9L1154.2 734.8M1150.8 743.9L1148.3 746.6M1080.2 759.2L1081.9 765.6M1077.6 766.8L1072.7 769.9M1160.5 709.0L1167.0 715.3M1168.6 739.9L1166.4 745.9M1093.6 763.9L1096.8 768.4M1088.2 791.4L1089.9 794.9M1192.9 757.2L1193.6 761.4M1121.6 731.2L1116.0 735.2M1115.1 754.3L1119.4 759.0M1110.7 723.8L1115.8 731.1M1105.4 755.3L1100.9 760.3" stroke="#76846f" stroke-width="1.9549999999999998" stroke-linecap="round" fill="none"/>
<path d="M1120.5 696.0L1122.6 696.6M1114.8 720.9L1117.3 723.3M1098.2 747.9L1095.7 747.4M1094.6 753.4L1093.1 752.5M1088.8 759.3L1086.9 757.5M1130.2 716.6L1126.9 715.7M1133.3 730.0L1136.2 731.8M1128.3 745.3L1131.1 746.7M1108.1 778.6L1106.7 777.8M1153.8 713.2L1156.3 713.0M1149.5 721.7L1147.1 722.0M1154.8 730.7L1158.3 731.5M1149.5 745.2L1147.9 745.6M1149.0 750.3L1146.3 750.9M1150.2 765.4L1151.8 766.1M1146.7 765.7L1144.1 766.3M1147.9 773.0L1146.6 773.4M1096.5 730.3L1099.4 732.3M1078.4 756.2L1075.7 754.9M1076.3 764.0L1074.0 762.9M1078.7 769.1L1080.6 770.5M1074.9 780.5L1076.9 781.9M1165.2 718.3L1168.1 717.2M1171.8 753.3L1170.2 754.3M1175.7 755.4L1177.3 754.6M1177.2 760.3L1179.4 760.4M1093.2 778.8L1096.5 779.6M1089.1 793.1L1090.6 793.9M1086.6 792.5L1084.8 792.4M1084.4 800.2L1082.1 799.8M1170.5 726.4L1168.4 728.0M1175.6 728.6L1177.9 728.4M1185.0 745.8L1187.2 745.5M1130.7 707.4L1134.6 708.4M1123.4 734.5L1126.4 735.9M1120.1 744.8L1122.5 745.6M1117.2 756.6L1120.0 757.4M1115.6 760.0L1117.5 760.8M1112.5 771.3L1114.3 771.7M1111.6 775.5L1113.6 776.1M1109.4 787.3L1111.0 788.2M1103.6 753.8L1100.7 754.8M1105.3 777.0L1107.9 776.7M1104.1 780.8L1106.0 781.3M1103.4 788.9L1105.5 789.1" stroke="#dde4d9" stroke-width="1.6099999999999999" stroke-linecap="round" fill="none"/>
<path d="M1119.2 693.9L1112.9 698.2M1116.0 709.6L1110.3 711.8M1110.8 724.7L1104.2 729.4M1102.6 742.9L1099.0 744.8M1100.7 746.4L1101.2 750.8M1089.0 762.5L1088.7 768.4M1070.8 778.2L1067.4 777.8M1134.9 699.0L1142.6 705.0M1134.9 699.0L1131.7 703.3M1134.8 703.0L1139.5 711.4M1131.6 726.8L1135.0 733.3M1125.5 745.8L1127.5 752.4M1125.5 745.8L1118.8 747.7M1122.0 753.0L1116.1 755.1M1118.7 760.2L1119.3 763.1M1150.4 704.0L1155.0 708.8M1151.5 719.9L1154.3 723.5M1151.8 731.9L1146.9 736.1M1151.3 739.9L1154.6 745.6M1150.7 747.9L1147.3 752.8M1150.2 751.8L1153.9 754.8M1148.7 767.8L1146.3 769.0M1100.7 711.5L1095.8 714.9M1099.6 715.4L1092.2 718.9M1098.2 719.1L1103.0 726.0M1088.9 741.2L1090.1 748.6M1087.0 744.8L1079.8 745.8M1162.1 716.8L1158.6 722.0M1164.3 724.5L1161.1 732.1M1169.8 743.7L1167.0 747.1M1173.8 755.0L1177.6 755.8M1176.7 762.5L1174.3 766.0M1094.7 756.0L1086.7 760.7M1091.1 775.6L1095.3 781.9M1090.2 779.5L1094.2 784.1M1090.2 779.5L1084.8 782.2M1171.6 723.7L1169.4 729.1M1182.7 744.8L1181.7 748.4M1127.3 708.0L1119.1 712.5M1126.3 715.9L1122.5 717.7M1125.4 719.8L1117.6 722.3M1124.3 723.6L1119.9 725.1M1118.2 742.7L1122.1 746.9M1110.2 773.6L1113.0 777.4M1108.2 785.5L1106.4 787.5M1107.4 739.4L1110.5 747.0M1107.4 739.4L1102.9 743.7M1104.2 763.2L1106.8 766.9M1103.8 767.2L1100.8 768.6" stroke="#f2f4f0" stroke-width="1.9549999999999998" stroke-linecap="round" fill="none"/>
<path d="M1119.2 693.9L1118.5 697.9M1116.0 709.6L1115.1 713.5M1109.9 778.2L1108.0 781.7M1108.0 781.7L1106.0 785.1M1151.3 739.9L1150.8 743.9M1150.8 743.9L1150.7 747.9M1090.5 737.6L1088.9 741.2M1164.3 724.5L1165.4 728.3M1175.2 758.8L1176.7 762.5M1174.9 731.0L1176.5 734.6M1182.7 744.8L1185.3 747.9M1127.3 708.0L1126.8 711.9M1124.3 723.6L1122.9 727.4" stroke="#a3b09f" stroke-width="2.3" stroke-linecap="round" fill="none"/>
<path d="M1118.5 697.9L1110.5 701.7M1117.6 701.8L1119.8 706.6M1116.7 705.6L1109.9 709.5M1115.1 713.5L1109.1 716.5M1106.4 735.8L1102.0 737.9M1094.3 756.5L1096.3 761.9M1091.7 759.6L1085.9 759.0M1083.3 768.1L1079.6 768.5M1080.1 770.6L1075.0 770.5M1077.0 773.0L1073.5 772.2M1073.8 775.5L1073.2 778.3M1068.0 780.9L1063.4 779.9M1134.8 703.0L1129.5 708.5M1133.5 714.9L1136.4 721.6M1133.5 714.9L1126.8 718.2M1132.3 722.8L1134.4 727.0M1132.3 722.8L1126.1 725.1M1117.0 763.9L1113.2 766.0M1150.4 704.0L1144.0 710.5M1151.8 723.9L1147.8 728.1M1151.3 739.9L1148.3 742.7M1150.7 747.9L1154.3 751.6M1148.7 771.8L1152.2 775.2M1148.5 775.7L1145.7 777.5M1101.7 707.7L1105.4 714.4M1101.7 707.7L1096.3 712.5M1096.9 722.9L1098.4 728.9M1092.2 734.0L1094.0 738.2M1085.0 748.2L1081.1 750.4M1081.6 755.5L1082.7 761.2M1074.9 774.3L1076.5 777.1M1073.6 778.1L1070.4 779.7M1071.2 785.7L1071.9 788.7M1068.8 793.3L1070.2 795.8M1161.1 712.9L1156.9 716.7M1162.1 716.8L1168.3 719.7M1164.3 724.5L1167.9 728.0M1165.4 728.3L1163.6 732.4M1167.5 736.0L1173.3 737.9M1092.9 767.9L1088.7 771.6M1092.0 771.8L1094.5 778.2M1092.0 771.8L1086.1 773.7M1173.2 727.3L1177.9 729.8M1174.9 731.0L1182.0 733.5M1180.4 741.6L1185.4 744.1M1190.3 754.2L1189.8 759.5M1125.4 719.8L1129.3 724.5M1117.0 746.5L1111.0 748.9M1114.4 758.2L1109.9 762.5M1111.2 769.8L1113.8 772.8M1108.8 781.5L1106.8 782.7M1106.5 747.4L1109.7 751.8M1104.8 759.2L1099.1 762.7M1103.4 771.2L1100.6 772.8M1103.0 775.1L1107.6 778.8M1103.0 775.1L1100.2 777.1M1102.8 779.1L1105.5 782.5M1101.2 791.0L1096.7 793.6" stroke="#bcc7b7" stroke-width="1.9549999999999998" stroke-linecap="round" fill="none"/>
<path d="M1117.6 701.8L1116.7 705.6M1107.9 732.1L1106.4 735.8M1133.5 714.9L1133.1 718.9M1132.3 722.8L1131.6 726.8M1130.9 730.7L1129.8 734.6M1129.8 734.6L1128.6 738.4M1111.7 774.6L1109.9 778.2M1106.0 785.1L1104.2 788.7M1151.5 719.9L1151.8 723.9M1152.0 727.9L1151.8 731.9M1148.9 763.8L1148.7 767.8M1099.6 715.4L1098.2 719.1M1083.2 751.8L1081.6 755.5M1160.0 705.0L1160.5 709.0M1162.1 716.8L1163.3 720.6M1086.7 799.2L1086.0 803.2M1176.5 734.6L1178.3 738.2M1119.4 738.9L1118.2 742.7M1117.0 746.5L1115.9 750.3M1115.1 754.3L1114.4 758.2M1112.4 765.9L1111.2 769.8M1110.2 773.6L1109.4 777.6M1109.4 777.6L1108.8 781.5M1112.0 720.0L1110.7 723.8M1108.8 731.6L1108.2 735.5M1108.2 735.5L1107.4 739.4" stroke="#cfd8cb" stroke-width="2.3" stroke-linecap="round" fill="none"/>
<path d="M1116.7 705.6L1119.0 710.0M1109.2 728.4L1110.4 734.9M1107.9 732.1L1104.1 734.5M1102.6 742.9L1104.9 749.8M1094.3 756.5L1089.0 758.0M1086.2 765.4L1087.1 770.9M1083.3 768.1L1083.8 771.9M1134.4 707.0L1139.4 713.7M1134.4 707.0L1131.0 710.0M1129.8 734.6L1131.8 740.3M1127.0 742.1L1121.2 745.5M1123.8 749.4L1125.2 752.4M1115.1 767.4L1109.3 768.6M1111.7 774.6L1114.3 778.7M1109.9 778.2L1110.6 780.8M1150.8 708.0L1154.2 711.5M1151.2 711.9L1146.9 718.8M1151.5 719.9L1147.4 723.5M1151.5 735.9L1148.1 739.3M1150.2 751.8L1148.0 754.3M1149.7 755.8L1146.2 759.7M1148.9 763.8L1144.5 767.7M1148.7 767.8L1150.5 770.8M1148.7 771.8L1147.1 774.3M1148.4 779.7L1146.4 780.8M1077.6 766.8L1079.9 771.4M1076.4 770.6L1078.2 774.0M1068.8 793.3L1065.0 794.4M1163.3 720.6L1170.3 722.6M1166.4 732.2L1164.2 735.6M1167.5 736.0L1165.8 739.3M1168.6 739.9L1173.2 743.9M1171.1 747.5L1169.7 751.3M1087.3 795.3L1089.8 797.9M1086.7 799.2L1082.0 801.1M1171.6 723.7L1178.1 726.4M1174.9 731.0L1173.9 734.9M1176.5 734.6L1175.9 739.3M1180.4 741.6L1179.6 745.5M1182.7 744.8L1187.3 746.8M1185.3 747.9L1185.2 751.7M1127.7 704.0L1133.7 710.8M1122.9 727.4L1125.0 733.5M1115.9 750.3L1118.8 756.3M1115.1 754.3L1112.2 755.4M1113.5 762.1L1115.2 764.8M1110.2 773.6L1107.8 774.9M1108.8 731.6L1103.6 734.7M1106.8 743.4L1110.3 750.9M1104.2 763.2L1097.9 765.7M1102.8 779.1L1098.9 783.3M1100.4 794.9L1097.3 796.0M1099.3 798.8L1100.5 801.7" stroke="#dde4d9" stroke-width="1.9549999999999998" stroke-linecap="round" fill="none"/>
<path d="M1117.9 707.8L1119.8 709.0M1112.4 727.7L1115.2 729.0M1106.0 733.3L1104.0 733.1M1106.2 742.2L1108.7 743.3M1088.8 765.5L1090.5 767.6M1069.1 778.0L1067.8 777.1M1133.3 701.2L1131.1 702.3M1132.2 713.4L1129.7 714.4M1130.1 721.4L1126.7 721.3M1122.1 746.7L1119.3 745.3M1119.1 754.0L1116.4 753.0M1155.2 718.3L1159.3 717.8M1149.3 717.7L1146.9 717.5M1087.1 738.8L1083.9 738.2M1083.1 749.3L1081.1 749.0M1066.9 793.9L1065.3 793.0M1160.3 719.4L1157.7 720.3M1164.5 730.4L1162.8 731.5M1165.3 733.9L1163.5 734.4M1096.7 763.5L1100.3 764.9M1089.0 772.7L1086.3 772.2M1087.5 780.9L1084.9 780.1M1090.6 786.0L1092.4 787.7M1087.3 788.2L1085.7 787.8M1180.9 738.8L1183.2 738.0M1182.2 746.6L1180.8 747.5M1185.3 749.8L1184.4 751.3M1189.3 751.0L1190.4 750.1M1195.2 757.2L1197.0 756.0M1129.5 712.0L1133.2 713.6M1127.7 718.8L1130.3 720.0M1122.1 724.4L1120.1 723.6M1118.8 733.2L1115.7 733.7M1114.0 747.7L1111.2 746.9M1117.3 753.3L1119.8 755.1M1114.6 751.5L1113.1 751.8M1108.1 724.7L1105.6 724.3M1106.1 761.8L1108.3 763.0M1105.5 765.1L1107.5 765.7" stroke="#bcc7b7" stroke-width="1.6099999999999999" stroke-linecap="round" fill="none"/>
<path d="M1115.1 713.5L1120.9 719.3M1113.8 717.3L1115.8 724.6M1112.5 721.0L1115.1 726.8M1100.7 746.4L1095.8 749.4M1098.7 749.9L1095.5 750.7M1134.0 711.0L1138.0 715.0M1130.9 730.7L1127.4 733.9M1129.8 734.6L1124.0 737.3M1128.6 738.4L1131.4 742.8M1127.0 742.1L1129.6 748.6M1122.0 753.0L1124.4 758.4M1120.2 756.5L1115.8 758.4M1108.0 781.7L1103.7 781.9M1104.2 788.7L1102.1 789.4M1100.7 711.5L1104.2 718.4M1099.6 715.4L1102.4 722.5M1090.5 737.6L1091.7 743.9M1088.9 741.2L1081.6 743.6M1073.6 778.1L1076.2 782.9M1070.0 789.5L1071.8 792.3M1169.8 743.7L1175.5 746.1M1175.2 758.8L1179.2 761.9M1093.6 763.9L1086.0 769.0M1088.9 787.4L1085.7 788.9M1178.3 738.2L1183.5 739.3M1192.9 757.2L1197.6 757.2M1126.8 711.9L1130.4 714.7M1126.3 715.9L1129.2 721.6M1120.5 735.0L1122.3 741.7M1119.4 738.9L1121.1 742.6M1113.5 762.1L1110.8 764.5M1112.4 765.9L1113.9 769.3M1111.2 769.8L1107.8 771.7M1108.2 785.5L1110.5 789.1M1108.8 731.6L1115.1 738.3M1106.1 751.4L1109.5 758.3M1106.1 751.4L1101.2 756.2M1103.4 771.2L1107.0 775.9M1101.2 791.0L1103.2 794.3M1100.4 794.9L1102.0 798.2M1099.3 798.8L1097.7 800.3" stroke="#cfd8cb" stroke-width="1.9549999999999998" stroke-linecap="round" fill="none"/>
<path d="M1112.1 715.0L1109.1 714.5M1108.8 722.9L1105.0 722.7M1107.5 727.1L1103.8 727.0M1109.8 731.6L1111.6 734.0M1100.2 752.9L1103.0 754.0M1091.7 757.2L1089.4 756.4M1086.6 768.2L1088.1 770.2M1080.0 773.1L1081.5 774.8M1065.7 780.4L1064.4 778.7M1135.0 718.2L1137.4 720.4M1135.5 721.4L1138.5 722.1M1126.5 749.1L1128.8 751.2M1116.7 770.0L1119.1 771.2M1113.0 776.6L1115.0 777.6M1149.0 730.2L1145.7 730.7M1149.4 734.0L1146.5 734.7M1152.9 742.8L1155.6 744.0M1149.8 741.3L1147.9 741.5M1152.5 749.8L1154.9 749.9M1147.1 776.6L1145.7 776.4M1149.9 781.3L1151.8 781.9M1099.0 710.1L1095.7 710.3M1092.5 723.7L1088.8 722.5M1081.1 762.4L1083.1 764.5M1073.4 774.5L1072.1 774.1M1069.5 794.6L1070.6 795.2M1166.1 726.2L1168.3 726.5M1166.7 737.7L1165.3 738.6M1177.8 767.4L1176.7 767.9M1090.7 758.4L1086.6 757.4M1089.8 766.5L1085.7 766.8M1085.3 796.8L1083.1 797.3M1087.8 800.5L1089.2 800.9M1174.8 725.1L1177.9 724.3M1192.4 754.8L1194.3 754.4M1190.0 756.8L1188.5 758.6M1193.2 759.3L1192.2 760.9M1124.4 716.8L1122.5 716.5M1121.5 721.1L1118.2 719.5M1121.4 738.4L1124.1 740.0M1112.2 760.3L1109.4 761.0M1114.4 763.5L1115.7 763.9M1105.5 729.7L1101.4 728.6M1107.8 754.9L1111.0 756.3M1101.1 764.4L1098.0 764.2" stroke="#cfd8cb" stroke-width="1.6099999999999999" stroke-linecap="round" fill="none"/>
<path d="M1115.1 713.5L1113.8 717.3M1110.8 724.7L1109.2 728.4M1086.2 765.4L1083.3 768.1M1080.1 770.6L1077.0 773.0M1134.0 711.0L1133.5 714.9M1122.0 753.0L1120.2 756.5M1151.8 723.9L1152.0 727.9M1151.5 735.9L1151.3 739.9M1085.0 748.2L1083.2 751.8M1070.0 789.5L1068.8 793.3M1165.4 728.3L1166.4 732.2M1166.4 732.2L1167.5 736.0M1089.6 783.5L1088.9 787.4M1171.6 723.7L1173.2 727.3M1173.2 727.3L1174.9 731.0M1122.9 727.4L1121.6 731.2M1104.2 763.2L1103.8 767.2M1102.8 779.1L1102.4 783.1M1102.4 783.1L1101.9 787.1" stroke="#bcc7b7" stroke-width="2.3" stroke-linecap="round" fill="none"/>
<path d="M1113.8 717.3L1107.8 721.8M1112.5 721.0L1105.1 724.8M1110.8 724.7L1114.0 730.7M1104.6 739.4L1107.7 744.9M1091.7 759.6L1092.6 762.6M1077.0 773.0L1076.2 775.4M1133.1 718.9L1137.9 723.8M1133.1 718.9L1127.2 723.9M1120.2 756.5L1121.3 760.1M1118.7 760.2L1115.1 760.7M1150.8 708.0L1148.6 712.4M1151.2 711.9L1156.3 714.5M1152.0 727.9L1146.1 732.5M1151.5 735.9L1154.4 740.1M1098.2 719.1L1093.8 720.0M1096.9 722.9L1088.2 724.5M1095.2 726.5L1097.9 734.0M1095.2 726.5L1090.1 727.9M1087.0 744.8L1088.8 748.7M1085.0 748.2L1086.5 751.9M1083.2 751.8L1079.0 753.1M1081.6 755.5L1075.2 757.0M1076.4 770.6L1071.9 773.5M1072.6 781.9L1073.7 784.4M1161.1 712.9L1164.5 717.0M1163.3 720.6L1159.3 727.7M1166.4 732.2L1173.7 735.0M1172.5 751.2L1171.1 755.3M1178.3 766.1L1177.3 768.6M1094.2 760.0L1099.1 767.1M1094.2 760.0L1087.3 766.4M1089.6 783.5L1091.6 788.6M1088.9 787.4L1090.4 790.6M1086.7 799.2L1088.9 801.8M1086.0 803.2L1088.3 806.7M1187.7 751.1L1190.9 750.9M1190.3 754.2L1194.5 755.5M1127.7 704.0L1122.8 707.0M1127.3 708.0L1131.6 715.9M1121.6 731.2L1125.2 737.8M1120.5 735.0L1117.7 737.5M1118.2 742.7L1113.6 746.5M1114.4 758.2L1116.9 761.9M1109.4 777.6L1111.3 780.3M1109.7 727.7L1112.5 734.6M1108.2 735.5L1104.5 738.5M1106.5 747.4L1104.0 750.5M1102.4 783.1L1106.3 786.5M1101.9 787.1L1104.9 790.7" stroke="#e9eee6" stroke-width="1.9549999999999998" stroke-linecap="round" fill="none"/>
<path d="M1110.8 719.5L1107.5 720.1M1097.1 750.3L1095.7 749.7M1092.2 761.1L1093.1 762.2M1076.6 774.2L1076.8 775.3M1073.5 776.9L1074.0 778.1M1129.1 732.3L1127.0 732.3M1126.9 735.9L1124.1 735.3M1130.0 740.6L1132.3 741.2M1124.5 750.9L1125.9 751.4M1120.8 758.3L1122.0 759.5M1116.9 760.5L1115.5 759.7M1115.1 764.9L1113.2 765.0M1110.3 775.3L1108.9 775.0M1110.2 779.5L1111.1 780.3M1105.8 781.8L1104.3 780.6M1153.5 746.1L1156.6 746.4M1102.5 715.0L1105.5 716.7M1083.4 745.3L1080.4 744.1M1077.3 772.3L1078.9 773.1M1071.6 787.2L1072.6 788.1M1159.0 714.8L1156.5 715.3M1170.4 737.0L1172.9 735.8M1172.7 744.9L1175.4 744.2M1168.4 745.4L1166.5 746.0M1093.3 775.0L1096.0 776.5M1089.6 789.0L1091.0 789.7M1088.6 796.6L1090.2 796.7M1171.1 730.7L1167.9 732.1M1180.0 743.6L1178.6 744.8M1127.4 722.2L1129.9 723.1M1123.9 730.5L1126.0 732.5M1112.2 763.3L1110.5 763.3M1109.0 774.3L1107.8 774.0M1110.4 778.9L1111.8 779.5M1111.1 731.1L1113.6 733.4M1108.1 749.6L1110.4 750.4M1098.5 799.5L1097.5 799.5" stroke="#e9eee6" stroke-width="1.6099999999999999" stroke-linecap="round" fill="none"/>
<path d="M1113.8 717.3L1112.5 721.0M1112.5 721.0L1110.8 724.7M1109.2 728.4L1107.9 732.1M1104.6 739.4L1102.6 742.9M1083.3 768.1L1080.1 770.6M1077.0 773.0L1073.8 775.5M1135.0 695.0L1134.9 699.0M1134.8 703.0L1134.4 707.0M1131.6 726.8L1130.9 730.7M1151.3 715.9L1151.5 719.9M1148.7 767.8L1148.7 771.8M1104.0 700.0L1102.8 703.8M1102.8 703.8L1101.7 707.7M1092.2 734.0L1090.5 737.6M1087.0 744.8L1085.0 748.2M1076.4 770.6L1074.9 774.3M1163.3 720.6L1164.3 724.5M1169.8 743.7L1171.1 747.5M1088.2 791.4L1087.3 795.3M1187.7 751.1L1190.3 754.2M1190.3 754.2L1192.9 757.2M1128.0 700.0L1127.7 704.0M1127.7 704.0L1127.3 708.0M1118.2 742.7L1117.0 746.5" stroke="#8c9a88" stroke-width="2.3" stroke-linecap="round" fill="none"/>
<path d="M1113.8 723.9L1116.3 725.3M1077.6 770.5L1075.7 769.2M1075.2 772.6L1074.1 771.5M1132.1 705.8L1128.7 705.9M1136.0 713.0L1138.5 713.5M1119.0 761.7L1119.8 762.7M1108.3 783.3L1109.1 784.4M1152.7 706.4L1155.7 706.5M1149.8 737.6L1147.6 737.7M1149.6 769.3L1151.1 769.7M1147.5 768.4L1146.3 768.3M1087.9 746.8L1089.5 747.9M1163.7 712.1L1167.6 713.4M1170.0 733.6L1173.4 732.5M1170.4 749.4L1168.9 750.4M1175.5 764.2L1173.6 764.6M1092.2 781.8L1094.9 782.1M1174.4 733.0L1173.1 734.3M1188.3 747.9L1190.4 746.2M1118.3 748.1L1120.0 748.3M1113.2 767.6L1114.7 768.3M1113.2 727.5L1116.7 729.4M1111.9 734.9L1116.1 735.3M1110.1 738.7L1113.2 739.8M1105.2 748.9L1103.5 749.3M1107.2 756.8L1109.3 757.3M1101.9 761.0L1098.9 761.1M1105.3 768.6L1107.2 768.9M1101.2 796.6L1102.4 797.5M1099.9 800.3L1101.0 801.2" stroke="#f2f4f0" stroke-width="1.6099999999999999" stroke-linecap="round" fill="none"/>
<path d="M1109.2 728.4L1101.2 729.8M1098.7 749.9L1101.6 755.9M1096.7 753.3L1092.6 753.5M1080.1 770.6L1079.9 775.6M1111.7 774.6L1108.9 776.0M1150.8 743.9L1156.2 748.3M1148.9 763.8L1151.4 767.0M1148.4 779.7L1151.5 782.8M1102.8 703.8L1107.4 710.1M1090.5 737.6L1083.7 739.9M1079.1 763.0L1073.6 764.9M1074.9 774.3L1071.9 774.8M1165.4 728.3L1169.2 730.4M1087.3 795.3L1083.3 798.4M1173.2 727.3L1169.0 734.0M1109.7 727.7L1101.2 731.7M1108.2 735.5L1111.9 741.9" stroke="#a3b09f" stroke-width="1.9549999999999998" stroke-linecap="round" fill="none"/>
<path d="M1107.9 732.1L1110.6 735.4M1134.0 711.0L1130.4 715.8M1123.8 749.4L1118.4 750.9M1109.9 778.2L1106.4 779.1M1108.0 781.7L1108.5 784.8M1104.2 788.7L1105.6 792.8M1152.0 727.9L1157.7 733.4M1149.4 759.8L1152.2 762.1M1083.2 751.8L1084.0 756.1M1171.1 747.5L1176.2 750.4M1094.7 756.0L1100.1 761.0M1088.2 791.4L1085.0 793.7M1185.3 747.9L1191.3 747.9M1187.7 751.1L1188.2 755.1M1117.0 746.5L1119.5 749.6M1115.9 750.3L1113.4 752.6M1108.8 781.5L1110.1 784.3M1110.7 723.8L1105.4 725.7M1105.4 755.3L1109.0 758.4M1104.8 759.2L1107.3 764.4M1103.8 767.2L1106.8 770.0" stroke="#8c9a88" stroke-width="1.9549999999999998" stroke-linecap="round" fill="none"/>
<path d="M1102.6 742.9L1100.7 746.4M1115.1 767.4L1113.3 770.9M1149.4 759.8L1148.9 763.8M1098.2 719.1L1096.9 722.9M1093.7 730.2L1092.2 734.0M1081.6 755.5L1080.2 759.2M1168.6 739.9L1169.8 743.7M1176.7 762.5L1178.3 766.1M1092.9 767.9L1092.0 771.8M1170.0 720.0L1171.6 723.7M1126.8 711.9L1126.3 715.9M1125.4 719.8L1124.3 723.6M1106.8 743.4L1106.5 747.4M1104.8 759.2L1104.2 763.2" stroke="#76846f" stroke-width="2.3" stroke-linecap="round" fill="none"/>
<path d="M1100.7 746.4L1098.7 749.9M1070.8 778.2L1068.0 780.9M1133.1 718.9L1132.3 722.8M1125.5 745.8L1123.8 749.4M1120.2 756.5L1118.7 760.2M1118.7 760.2L1117.0 763.9M1150.4 704.0L1150.8 708.0M1151.8 731.9L1151.5 735.9M1148.7 771.8L1148.5 775.7M1095.2 726.5L1093.7 730.2M1079.1 763.0L1077.6 766.8M1077.6 766.8L1076.4 770.6M1074.9 774.3L1073.6 778.1M1073.6 778.1L1072.6 781.9M1072.6 781.9L1071.2 785.7M1160.5 709.0L1161.1 712.9M1172.5 751.2L1173.8 755.0M1094.7 756.0L1094.2 760.0M1094.2 760.0L1093.6 763.9M1093.6 763.9L1092.9 767.9M1092.0 771.8L1091.1 775.6M1090.2 779.5L1089.6 783.5M1088.9 787.4L1088.2 791.4M1178.3 738.2L1180.4 741.6M1185.3 747.9L1187.7 751.1M1126.3 715.9L1125.4 719.8M1111.2 769.8L1110.2 773.6M1110.7 723.8L1109.7 727.7M1107.4 739.4L1106.8 743.4M1105.4 755.3L1104.8 759.2M1103.8 767.2L1103.4 771.2M1103.4 771.2L1103.0 775.1M1101.2 791.0L1100.4 794.9M1100.4 794.9L1099.3 798.8" stroke="#dde4d9" stroke-width="2.3" stroke-linecap="round" fill="none"/>
<path d="M1096.7 753.3L1094.3 756.5M1091.7 759.6L1089.0 762.5M1073.8 775.5L1070.8 778.2M1134.9 699.0L1134.8 703.0M1134.4 707.0L1134.0 711.0M1128.6 738.4L1127.0 742.1M1113.3 770.9L1111.7 774.6M1150.0 700.0L1150.4 704.0M1150.2 751.8L1149.7 755.8M1149.7 755.8L1149.4 759.8M1100.7 711.5L1099.6 715.4M1080.2 759.2L1079.1 763.0M1173.8 755.0L1175.2 758.8M1091.1 775.6L1090.2 779.5M1087.3 795.3L1086.7 799.2M1121.6 731.2L1120.5 735.0M1108.8 781.5L1108.2 785.5M1103.0 775.1L1102.8 779.1M1101.9 787.1L1101.2 791.0" stroke="#f2f4f0" stroke-width="2.3" stroke-linecap="round" fill="none"/>
<ellipse cx="1098" cy="616" rx="16" ry="28" fill="#5b6657" opacity="1.0" transform="rotate(-20 1098 616)"/>
<path d="M1102.5 619.2L1122.4 611.4M1093.6 618.4L1059.2 618.3M1102.7 618.2L1068.3 605.1M1103.1 617.4L1102.2 583.8M1104.8 616.6L1094.6 617.8M1102.0 607.4L1102.4 591.8M1104.4 613.6L1087.4 597.8M1101.5 609.8L1100.2 594.9M1091.7 607.3L1119.4 600.5M1092.9 615.3L1058.1 602.9M1093.0 614.5L1103.7 583.5M1096.6 612.8L1080.4 593.9M1089.8 607.9L1088.3 592.2M1093.2 615.8L1102.7 601.8M1105.0 603.3L1093.6 585.2M1098.6 609.5L1080.0 610.8M1093.9 605.2L1067.2 582.3M1089.5 616.6L1059.9 623.6" stroke="#98a494" stroke-width="1.9" stroke-linecap="round" fill="none"/>
<path d="M1099.2 613.9L1073.0 603.0M1094.4 606.7L1078.7 569.9M1091.1 618.1L1057.4 604.9M1098.3 612.1L1076.7 619.6M1105.3 619.6L1110.1 605.7M1090.6 616.1L1090.8 601.5M1107.5 607.1L1097.4 603.1M1100.2 605.9L1089.6 568.3M1090.8 606.7L1069.4 627.9" stroke="#5d6a5a" stroke-width="1.9" stroke-linecap="round" fill="none"/>
<path d="M1098.9 614.1L1099.4 578.3M1095.3 605.4L1094.8 568.6M1099.9 616.2L1101.5 581.8M1092.6 608.5L1120.9 584.1M1096.9 618.4L1087.5 585.7M1099.9 603.1L1107.5 575.2M1088.6 614.4L1076.0 607.5M1104.8 615.9L1094.3 619.3M1093.3 603.3L1056.2 601.8M1091.8 610.8L1078.3 602.6M1095.3 608.4L1107.8 575.6M1101.9 616.9L1122.4 587.7" stroke="#e0e6dd" stroke-width="1.9" stroke-linecap="round" fill="none"/>
<path d="M1093.2 603.8L1089.8 569.1M1091.2 615.2L1066.6 620.2M1098.2 618.7L1060.2 623.7M1091.3 606.8L1102.1 578.3M1102.7 616.7L1123.7 611.7M1107.1 616.6L1135.2 608.7M1105.6 613.5L1080.5 588.3M1094.7 602.9L1103.9 588.7M1105.5 611.7L1112.8 599.5M1101.0 610.1L1067.0 610.3M1099.1 619.9L1095.0 606.7M1093.2 608.6L1099.0 576.6M1092.3 605.6L1103.1 590.3M1095.5 607.8L1067.2 626.2M1106.0 611.0L1093.6 620.0M1097.0 607.1L1115.7 580.3M1099.8 610.3L1112.6 585.7M1089.0 609.5L1079.3 577.4M1107.0 617.7L1113.5 608.4M1094.9 602.9L1067.4 580.8" stroke="#f7f8f6" stroke-width="1.9" stroke-linecap="round" fill="none"/>
<path d="M1104.7 604.6L1073.5 602.4M1092.1 617.8L1054.3 620.4M1105.8 615.3L1122.4 599.5M1104.6 615.1L1113.9 576.2M1099.7 603.8L1075.1 589.7M1091.4 618.8L1109.3 593.1M1092.8 618.9L1122.3 592.8M1103.2 609.6L1074.4 594.7M1097.7 621.2L1088.5 596.2M1098.2 615.4L1077.9 616.4M1101.2 604.4L1127.2 577.2M1107.4 616.0L1104.2 601.8M1097.3 606.5L1116.2 579.6M1106.8 605.7L1099.5 591.2M1103.8 603.6L1084.5 609.4M1106.2 617.5L1105.7 591.8M1105.4 615.0L1099.5 603.6" stroke="#c9d2c5" stroke-width="1.9" stroke-linecap="round" fill="none"/>
<path d="M1095.9 616.9L1116.2 586.8M1089.9 616.3L1097.0 605.8M1091.3 618.5L1116.1 607.8M1090.3 613.5L1065.2 621.6M1105.1 614.1L1107.8 587.6M1106.4 604.0L1116.0 593.3M1106.6 603.7L1103.6 567.0M1099.0 614.1L1089.2 598.7M1106.6 621.1L1098.7 593.7M1088.8 619.8L1067.9 602.8M1096.3 607.2L1074.1 603.5M1099.7 616.6L1097.7 603.6M1096.3 607.3L1070.5 607.3M1105.5 606.8L1113.5 571.4M1101.4 605.9L1120.0 575.1M1091.1 614.0L1077.2 584.2M1104.1 605.0L1087.5 612.8" stroke="#eef1ec" stroke-width="1.9" stroke-linecap="round" fill="none"/>
<path d="M1105.0 603.9L1127.3 597.2M1094.4 620.8L1089.9 611.9M1097.2 607.0L1084.7 613.9M1100.1 610.0L1093.2 596.5M1093.0 605.9L1094.6 589.8M1099.2 618.0L1081.4 587.4M1102.4 618.6L1091.0 601.9M1100.8 613.0L1094.1 581.2M1094.6 602.0L1099.7 588.1M1090.1 602.8L1051.2 604.0M1106.9 611.4L1125.3 577.1M1107.4 620.2L1081.0 601.6M1095.7 616.5L1062.4 617.1M1092.9 619.1L1079.2 611.8M1095.0 612.6L1085.8 617.4M1094.6 621.6L1076.4 614.0M1092.6 604.3L1069.1 591.2" stroke="#6d7a69" stroke-width="1.9" stroke-linecap="round" fill="none"/>
<path d="M1110,600 C1128,594 1148,608 1158,634 C1160,652 1150,662 1134,660 C1120,646 1110,626 1110,600 Z" fill="#30332f"/>
<path d="M1136.6 620.3L1126.5 637.8M1143.3 640.8L1146.3 657.3M1127.6 633.0L1109.3 626.3M1135.3 636.8L1119.3 647.0M1133.3 639.3L1110.4 642.0M1136.6 636.4L1115.0 632.3M1137.1 642.4L1143.9 657.5M1139.0 625.5L1133.6 634.3M1132.6 642.4L1132.4 659.3M1138.5 625.6L1149.2 636.1M1141.2 634.7L1144.2 653.4" stroke="#c8d0c4" stroke-width="1.6" stroke-linecap="round" fill="none"/>
<path d="M1141.0 627.7L1129.5 646.2M1128.9 636.7L1127.6 655.5M1127.0 635.9L1110.0 630.1M1136.5 638.6L1130.6 653.7M1138.5 634.5L1120.5 641.6" stroke="#8f9c8b" stroke-width="1.6" stroke-linecap="round" fill="none"/>
<path d="M1142.8 643.2L1156.0 662.3M1133.1 637.2L1123.3 642.6M1124.4 622.0L1111.8 619.8M1123.2 634.8L1105.4 633.4M1128.5 631.5L1122.5 648.3M1135.9 644.0L1126.8 665.6M1126.2 630.6L1129.7 639.4M1138.0 627.7L1144.3 648.8M1122.4 625.4L1112.4 630.4M1141.7 643.5L1140.5 655.5M1145.1 626.6L1135.0 629.3M1127.9 634.9L1106.1 644.6M1145.1 625.6L1136.9 629.1M1123.3 631.0L1106.9 643.5" stroke="#f2f4f0" stroke-width="1.6" stroke-linecap="round" fill="none"/>
<path d="M1142.7 637.2L1129.2 636.6M1140.3 633.8L1129.6 647.5M1122.7 636.9L1114.0 635.1M1132.7 638.4L1120.7 635.4M1133.1 633.5L1114.8 631.3M1141.3 640.8L1135.7 651.8M1127.2 627.4L1127.3 642.6M1143.0 642.6L1121.7 636.7M1141.8 630.4L1131.5 640.9M1143.8 623.8L1135.4 634.0" stroke="#e6ebe4" stroke-width="1.6" stroke-linecap="round" fill="none"/>
<path d="M1137.5 623.2L1142.9 641.0M1143.7 640.3L1143.9 648.8M1138.5 631.6L1133.4 642.1M1128.7 640.3L1120.5 654.5M1136.7 631.9L1138.2 640.7M1138.6 620.7L1149.5 634.6M1139.4 640.7L1147.2 648.0M1136.9 643.4L1124.4 646.1M1136.0 643.0L1128.1 659.8M1130.9 635.8L1132.0 647.7" stroke="#4f5c4b" stroke-width="1.6" stroke-linecap="round" fill="none"/>
<g transform="translate(1117,585) rotate(-35)"><ellipse rx="14" ry="18" fill="#33302d"/><ellipse cx="-9.0" cy="-14.4" rx="4.2" ry="2.2" fill="#e0dcd8" transform="rotate(-0 -9.0 -14.4)"/><ellipse cx="-0.1" cy="-14.4" rx="4.2" ry="2.2" fill="#1e1a18" transform="rotate(-29 -0.1 -14.4)"/><ellipse cx="7.0" cy="-14.4" rx="4.2" ry="2.2" fill="#5a524c" transform="rotate(34 7.0 -14.4)"/><ellipse cx="-7.9" cy="-8.6" rx="4.2" ry="2.2" fill="#1e1a18" transform="rotate(19 -7.9 -8.6)"/><ellipse cx="1.3" cy="-8.6" rx="4.2" ry="2.2" fill="#e0dcd8" transform="rotate(-32 1.3 -8.6)"/><ellipse cx="6.0" cy="-8.6" rx="4.2" ry="2.2" fill="#e0dcd8" transform="rotate(-16 6.0 -8.6)"/><ellipse cx="-6.7" cy="-2.9" rx="4.2" ry="2.2" fill="#e0dcd8" transform="rotate(-14 -6.7 -2.9)"/><ellipse cx="-0.5" cy="-2.9" rx="4.2" ry="2.2" fill="#f0f0f0" transform="rotate(6 -0.5 -2.9)"/><ellipse cx="8.6" cy="-2.9" rx="4.2" ry="2.2" fill="#1e1a18" transform="rotate(11 8.6 -2.9)"/><ellipse cx="-6.7" cy="2.9" rx="4.2" ry="2.2" fill="#1e1a18" transform="rotate(-23 -6.7 2.9)"/><ellipse cx="2.0" cy="2.9" rx="4.2" ry="2.2" fill="#f0f0f0" transform="rotate(21 2.0 2.9)"/><ellipse cx="6.4" cy="2.9" rx="4.2" ry="2.2" fill="#f0f0f0" transform="rotate(-25 6.4 2.9)"/><ellipse cx="-9.2" cy="8.6" rx="4.2" ry="2.2" fill="#e0dcd8" transform="rotate(2 -9.2 8.6)"/><ellipse cx="-0.2" cy="8.6" rx="4.2" ry="2.2" fill="#1e1a18" transform="rotate(4 -0.2 8.6)"/><ellipse cx="9.0" cy="8.6" rx="4.2" ry="2.2" fill="#f0f0f0" transform="rotate(4 9.0 8.6)"/><ellipse cx="-8.3" cy="14.4" rx="4.2" ry="2.2" fill="#1e1a18" transform="rotate(5 -8.3 14.4)"/><ellipse cx="-1.0" cy="14.4" rx="4.2" ry="2.2" fill="#e0dcd8" transform="rotate(-21 -1.0 14.4)"/><ellipse cx="9.3" cy="14.4" rx="4.2" ry="2.2" fill="#f0f0f0" transform="rotate(-32 9.3 14.4)"/></g>
<g transform="translate(1142,579) rotate(20)"><ellipse rx="11" ry="16" fill="url(#cone)"/><ellipse cx="-7.8" cy="-12.8" rx="3.3" ry="1.9" fill="#f4f4f4" transform="rotate(-21 -7.8 -12.8)"/><ellipse cx="-0.9" cy="-12.8" rx="3.3" ry="1.9" fill="#242424" transform="rotate(-25 -0.9 -12.8)"/><ellipse cx="5.2" cy="-12.8" rx="3.3" ry="1.9" fill="#f4f4f4" transform="rotate(26 5.2 -12.8)"/><ellipse cx="-4.2" cy="-7.7" rx="3.3" ry="1.9" fill="#a0a0a0" transform="rotate(29 -4.2 -7.7)"/><ellipse cx="-1.0" cy="-7.7" rx="3.3" ry="1.9" fill="#242424" transform="rotate(-29 -1.0 -7.7)"/><ellipse cx="6.8" cy="-7.7" rx="3.3" ry="1.9" fill="#242424" transform="rotate(-26 6.8 -7.7)"/><ellipse cx="-5.8" cy="-2.6" rx="3.3" ry="1.9" fill="#f4f4f4" transform="rotate(-34 -5.8 -2.6)"/><ellipse cx="1.2" cy="-2.6" rx="3.3" ry="1.9" fill="#a0a0a0" transform="rotate(15 1.2 -2.6)"/><ellipse cx="5.4" cy="-2.6" rx="3.3" ry="1.9" fill="#d0d0d0" transform="rotate(-22 5.4 -2.6)"/><ellipse cx="-7.4" cy="2.6" rx="3.3" ry="1.9" fill="#242424" transform="rotate(7 -7.4 2.6)"/><ellipse cx="1.7" cy="2.6" rx="3.3" ry="1.9" fill="#a0a0a0" transform="rotate(8 1.7 2.6)"/><ellipse cx="7.5" cy="2.6" rx="3.3" ry="1.9" fill="#e8e8e8" transform="rotate(-11 7.5 2.6)"/><ellipse cx="-7.0" cy="7.7" rx="3.3" ry="1.9" fill="#242424" transform="rotate(-3 -7.0 7.7)"/><ellipse cx="1.8" cy="7.7" rx="3.3" ry="1.9" fill="#4a4a4a" transform="rotate(7 1.8 7.7)"/><ellipse cx="7.1" cy="7.7" rx="3.3" ry="1.9" fill="#a0a0a0" transform="rotate(-27 7.1 7.7)"/><ellipse cx="-5.9" cy="12.8" rx="3.3" ry="1.9" fill="#242424" transform="rotate(-22 -5.9 12.8)"/><ellipse cx="-1.6" cy="12.8" rx="3.3" ry="1.9" fill="#a0a0a0" transform="rotate(27 -1.6 12.8)"/><ellipse cx="4.2" cy="12.8" rx="3.3" ry="1.9" fill="#a0a0a0" transform="rotate(-32 4.2 12.8)"/></g>
<polygon points="1140.0,640.0 1160.0,634.0 1168.0,660.0 1166.0,690.0 1161.0,720.0 1151.0,740.0 1128.0,736.0 1120.0,715.0 1127.0,690.0 1137.0,665.0" fill="url(#check)" stroke="#1a1a1a" stroke-width="1" stroke-linejoin="round" />
<path d="M1160.0 645.0L1200.0 672.0M1170.0 660.0L1178.0 675.0M1178.0 675.0L1176.7 671.7M1178.0 675.0L1188.3 675.0M1178.0 675.0L1199.0 671.7M1178.0 675.0L1170.8 686.7M1178.0 675.0L1184.0 686.0M1178.0 675.0L1199.0 686.0M1178.0 675.0L1185.0 700.8" stroke="#6e1a14" stroke-width="1.4" fill="none"/>
<circle cx="1165.8" cy="631.7" r="5.4" fill="url(#berry)"/>
<circle cx="1164.0" cy="629.8" r="1.1" fill="#ffe0e0" opacity="0.85"/>
<circle cx="1160.8" cy="638.0" r="5.4" fill="url(#berry)"/>
<circle cx="1159.0" cy="636.1" r="1.1" fill="#ffe0e0" opacity="0.85"/>
<circle cx="1171.7" cy="639.0" r="5.4" fill="url(#berry)"/>
<circle cx="1169.9" cy="637.1" r="1.1" fill="#ffe0e0" opacity="0.85"/>
<circle cx="1166.7" cy="645.0" r="5.4" fill="url(#berry)"/>
<circle cx="1164.9" cy="643.1" r="1.1" fill="#ffe0e0" opacity="0.85"/>
<circle cx="1195.0" cy="654.0" r="5.4" fill="url(#berry)"/>
<circle cx="1193.2" cy="652.1" r="1.1" fill="#ffe0e0" opacity="0.85"/>
<circle cx="1176.7" cy="671.7" r="5.4" fill="url(#berry)"/>
<circle cx="1174.9" cy="669.8" r="1.1" fill="#ffe0e0" opacity="0.85"/>
<circle cx="1188.3" cy="675.0" r="5.4" fill="url(#berry)"/>
<circle cx="1186.5" cy="673.1" r="1.1" fill="#ffe0e0" opacity="0.85"/>
<circle cx="1199.0" cy="671.7" r="5.4" fill="url(#berry)"/>
<circle cx="1197.2" cy="669.8" r="1.1" fill="#ffe0e0" opacity="0.85"/>
<circle cx="1170.8" cy="686.7" r="5.4" fill="url(#berry)"/>
<circle cx="1169.0" cy="684.8" r="1.1" fill="#ffe0e0" opacity="0.85"/>
<circle cx="1184.0" cy="686.0" r="5.4" fill="url(#berry)"/>
<circle cx="1182.2" cy="684.1" r="1.1" fill="#ffe0e0" opacity="0.85"/>
<circle cx="1199.0" cy="686.0" r="5.4" fill="url(#berry)"/>
<circle cx="1197.2" cy="684.1" r="1.1" fill="#ffe0e0" opacity="0.85"/>
<circle cx="1185.0" cy="700.8" r="5.4" fill="url(#berry)"/>
<circle cx="1183.2" cy="698.9" r="1.1" fill="#ffe0e0" opacity="0.85"/>
<polygon points="543.0,1396.0 705.6,1396.0 711.5,1400.0 719.2,1448.0 719.2,1468.5 527.7,1468.5 527.7,1448.0 537.4,1400.0" fill="#1b1b1b" />
<line x1="528" y1="1448.5" x2="719" y2="1448.5" stroke="#333" stroke-width="1"/>
<rect x="543.2" y="1211.0" width="162.4" height="235.0" fill="#1b1b1b" />
<rect x="560.6" y="1214.0" width="127.6" height="209.0" fill="url(#bg)" />
<rect x="560.6" y="1341.8" width="13.4" height="5.8" fill="#1c1c1c" />
<rect x="673.7" y="1341.8" width="14.5" height="5.8" fill="#1c1c1c" />
<rect x="560.6" y="1214.0" width="2.9" height="209.0" fill="#1c1c1c" />
<rect x="682.4" y="1214.0" width="5.8" height="209.0" fill="#222" />
<rect x="560.6" y="1390.0" width="12.4" height="33.0" fill="#1e1e1e" />
<rect x="673.0" y="1390.0" width="15.2" height="33.0" fill="#1e1e1e" />
<path d="M572.0 1226.0L571.5 1229.5M565.6 1260.4L564.8 1263.8M563.8 1267.1L562.5 1270.4M559.8 1276.9L558.6 1280.1M598.4 1261.3L599.9 1264.5M618.2 1238.3L617.3 1241.7M616.4 1245.1L615.2 1248.4M612.0 1245.0L610.7 1248.3M607.0 1258.1L605.6 1261.3M605.6 1261.3L604.4 1264.6M603.1 1267.8L602.1 1271.2M602.1 1271.2L600.9 1274.5M600.9 1274.5L599.4 1277.6M595.7 1283.6L593.9 1286.5M684.0 1248.3L685.0 1251.7M687.6 1261.8L688.3 1265.2M688.3 1265.2L689.0 1268.7M690.2 1275.6L690.6 1279.1M694.3 1292.5L695.4 1295.8M640.8 1235.4L641.4 1238.9M643.0 1249.2L643.9 1252.6M675.6 1288.8L676.0 1292.3M676.5 1295.8L676.8 1299.3M600.0 1226.0L599.5 1229.5M597.0 1246.8L596.6 1250.2M595.7 1260.7L595.2 1264.2" stroke="#d9dfd6" stroke-width="2.0" stroke-linecap="round" fill="none"/>
<path d="M571.5 1229.5L564.6 1232.5M557.3 1283.4L548.9 1284.9M555.8 1286.6L559.3 1291.4M554.3 1289.7L557.4 1297.0M589.3 1234.9L585.8 1240.0M613.9 1251.7L615.8 1256.0M612.6 1254.9L607.0 1255.6M609.6 1261.2L612.4 1266.9M605.4 1270.9L600.8 1273.7M609.3 1251.5L615.2 1260.5M605.6 1261.3L598.6 1265.2M602.1 1271.2L604.9 1275.5M600.9 1274.5L604.9 1281.2M599.4 1277.6L593.9 1281.4M595.7 1283.6L598.2 1290.0M591.8 1289.4L585.7 1290.9M649.0 1262.8L652.9 1270.6M644.6 1276.1L640.3 1278.9M687.6 1261.8L685.0 1268.5M689.0 1268.7L682.5 1277.2M641.4 1238.9L649.6 1243.2M641.4 1238.9L635.3 1244.2M643.0 1249.2L649.1 1255.3M645.9 1266.4L643.0 1270.2M561.4 1284.4L556.3 1285.4M558.0 1290.6L554.3 1290.8M669.3 1265.2L664.2 1277.0M673.7 1278.5L667.2 1286.3M597.6 1239.8L601.3 1244.1M597.2 1243.3L589.9 1248.5M597.0 1246.8L602.3 1253.0M596.0 1257.2L592.9 1259.2M673.8 1246.9L678.1 1251.5M671.3 1264.2L672.9 1266.5" stroke="#c8d0c3" stroke-width="1.7" stroke-linecap="round" fill="none"/>
<path d="M568.0 1231.0L564.7 1230.3M560.4 1266.8L555.7 1266.9M557.5 1289.0L560.0 1290.0M554.0 1295.2L555.9 1296.6M584.2 1236.2L578.7 1237.7M587.5 1237.5L584.8 1238.1M591.7 1250.6L587.7 1254.0M594.5 1258.5L591.3 1260.1M605.1 1272.0L607.2 1272.1M610.1 1284.9L612.1 1284.8M615.6 1236.8L612.4 1236.1M607.2 1261.8L605.1 1261.1M605.3 1255.5L602.9 1254.5M603.5 1273.3L605.6 1274.3M602.9 1277.8L606.3 1278.7M592.1 1291.6L593.4 1293.1M660.2 1244.4L664.5 1246.9M654.1 1252.2L655.9 1253.8M644.9 1281.9L647.3 1282.8M688.0 1252.0L692.6 1253.4M684.7 1261.9L681.4 1263.3M693.5 1274.9L697.7 1275.2M694.5 1287.2L696.9 1286.6M647.8 1258.6L651.4 1258.2M644.5 1271.2L642.7 1271.0M565.4 1273.1L562.9 1272.8M566.8 1279.3L569.2 1282.2M560.8 1282.9L558.4 1282.8M558.5 1292.2L559.6 1293.3M675.3 1298.0L673.2 1299.1M599.6 1249.9L603.4 1250.2M596.3 1265.7L597.8 1266.4M670.3 1249.5L666.4 1250.1M675.1 1252.8L677.7 1253.3M672.1 1265.4L673.2 1265.8" stroke="#e4e9e1" stroke-width="1.4" stroke-linecap="round" fill="none"/>
<path d="M571.5 1229.5L571.0 1232.9M570.6 1236.4L570.1 1239.9M568.6 1246.7L567.9 1250.1M567.9 1250.1L567.4 1253.6M564.8 1263.8L563.8 1267.1M562.5 1270.4L561.2 1273.6M561.2 1273.6L559.8 1276.9M588.0 1228.0L588.5 1231.5M589.3 1234.9L590.3 1238.2M590.3 1238.2L591.5 1241.5M604.6 1273.9L605.8 1277.2M607.1 1280.4L608.1 1283.8M619.5 1231.5L618.9 1234.9M660.0 1226.0L659.6 1229.5M646.8 1269.4L645.8 1272.8M682.0 1238.0L682.6 1241.5M682.6 1241.5L683.2 1244.9M689.0 1268.7L689.6 1272.1M692.0 1285.9L693.1 1289.2M696.4 1299.2L697.6 1302.5M640.0 1232.0L640.8 1235.4M642.2 1245.8L643.0 1249.2M645.9 1266.4L646.1 1269.9M646.1 1269.9L646.5 1273.4M568.0 1272.1L566.2 1275.1M564.5 1278.2L563.0 1281.3M559.7 1287.5L558.0 1290.6M596.6 1250.2L596.2 1253.7M596.2 1253.7L596.0 1257.2M674.7 1240.0L674.4 1243.5M673.4 1250.4L672.8 1253.8" stroke="#4f5c4b" stroke-width="2.0" stroke-linecap="round" fill="none"/>
<path d="M571.0 1232.9L577.9 1239.6M567.9 1250.1L556.8 1254.2M566.5 1257.0L557.5 1261.1M565.6 1260.4L556.4 1263.3M562.5 1270.4L565.7 1274.7M558.6 1280.1L551.4 1283.2M555.8 1286.6L549.9 1288.8M552.8 1292.9L555.2 1297.5M552.8 1292.9L548.3 1294.1M589.3 1234.9L597.0 1240.3M595.0 1251.4L600.7 1256.0M595.0 1251.4L590.2 1257.6M604.6 1273.9L609.2 1275.3M605.8 1277.2L609.3 1279.7M608.1 1283.8L606.3 1288.3M618.2 1238.3L620.4 1243.5M613.9 1251.7L605.8 1256.7M608.1 1264.4L610.2 1267.9M608.1 1264.4L604.7 1265.8M608.1 1254.8L610.2 1262.3M607.0 1258.1L610.3 1267.7M603.1 1267.8L605.9 1276.2M603.1 1267.8L595.9 1270.6M659.6 1229.5L664.6 1236.4M658.9 1232.9L661.8 1240.1M656.2 1243.0L662.5 1251.6M651.1 1256.1L655.9 1264.1M651.1 1256.1L645.1 1258.1M647.9 1266.1L643.5 1267.4M645.8 1272.8L640.5 1274.5M683.2 1244.9L690.1 1250.4M685.0 1251.7L691.7 1253.7M690.2 1275.6L686.9 1279.7M696.4 1299.2L702.9 1301.0M697.6 1302.5L694.3 1307.7M641.7 1242.3L633.3 1248.9M645.6 1263.0L643.1 1267.2M569.6 1269.0L560.0 1270.9M566.2 1275.1L561.8 1276.0M564.5 1278.2L566.1 1282.6M558.0 1290.6L558.9 1293.9M670.7 1268.5L665.4 1278.5M673.7 1278.5L681.1 1284.1M599.5 1229.5L595.1 1232.9M596.2 1253.7L599.5 1257.2M675.1 1233.0L678.3 1237.1M675.1 1233.0L668.1 1240.2M674.7 1240.0L678.7 1246.2M673.4 1250.4L676.8 1255.2" stroke="#71806c" stroke-width="1.7" stroke-linecap="round" fill="none"/>
<path d="M571.0 1232.9L570.6 1236.4M569.3 1243.3L568.6 1246.7M558.6 1280.1L557.3 1283.4M588.5 1231.5L589.3 1234.9M591.5 1241.5L592.8 1244.8M596.0 1254.8L597.2 1258.0M597.2 1258.0L598.4 1261.3M601.5 1267.6L603.1 1270.7M603.1 1270.7L604.6 1273.9M617.3 1241.7L616.4 1245.1M613.9 1251.7L612.6 1254.9M608.1 1254.8L607.0 1258.1M658.2 1236.3L657.3 1239.7M649.0 1262.8L647.9 1266.1M686.7 1258.5L687.6 1261.8M697.6 1302.5L698.7 1305.8M643.9 1252.6L644.6 1256.0M645.6 1263.0L645.9 1266.4M566.2 1275.1L564.5 1278.2M672.7 1275.2L673.7 1278.5M674.6 1281.9L675.2 1285.4M598.7 1232.9L598.1 1236.3M598.1 1236.3L597.6 1239.8M597.2 1243.3L597.0 1246.8M675.1 1233.0L675.0 1236.5M674.4 1243.5L673.8 1246.9M672.2 1257.3L671.7 1260.8" stroke="#71806c" stroke-width="2.0" stroke-linecap="round" fill="none"/>
<path d="M570.6 1236.4L564.0 1241.4M570.1 1239.9L576.0 1245.6M568.6 1246.7L562.8 1251.0M559.8 1276.9L553.2 1279.8M551.4 1296.1L546.3 1298.1M592.8 1244.8L590.7 1256.4M603.1 1270.7L600.4 1278.4M619.5 1231.5L624.7 1236.4M617.3 1241.7L620.7 1248.4M611.1 1258.1L615.4 1264.4M609.6 1261.2L604.8 1262.4M606.7 1267.6L603.1 1269.2M604.2 1274.1L605.6 1277.7M604.4 1264.6L598.6 1265.8M652.3 1252.8L643.7 1257.6M646.8 1269.4L648.2 1275.8M644.6 1276.1L646.5 1283.3M643.7 1279.4L640.2 1281.0M683.2 1244.9L678.7 1251.4M685.8 1255.1L691.7 1257.1M690.2 1275.6L694.6 1278.0M692.0 1285.9L688.2 1292.3M643.9 1252.6L648.5 1255.2M646.5 1273.4L645.3 1275.9M564.5 1278.2L560.3 1279.7M671.8 1271.8L666.8 1278.2M674.6 1281.9L670.2 1287.8M675.2 1285.4L671.2 1292.8M675.6 1288.8L679.0 1293.0M676.0 1292.3L672.4 1299.2M676.8 1299.3L680.1 1302.4M675.0 1236.5L682.2 1243.5M673.8 1246.9L666.8 1252.1M671.7 1260.8L674.9 1263.7M671.7 1260.8L669.0 1263.1" stroke="#b3beae" stroke-width="1.7" stroke-linecap="round" fill="none"/>
<path d="M567.3 1238.9L563.6 1239.3M571.1 1257.1L575.7 1257.3M560.0 1271.0L557.8 1270.4M558.3 1286.1L560.7 1287.3M555.9 1293.4L558.9 1295.3M593.2 1239.0L595.7 1238.2M597.8 1264.5L595.7 1266.6M601.8 1274.5L599.1 1277.1M604.7 1278.7L603.1 1279.3M605.9 1282.9L604.0 1284.5M607.2 1286.0L605.2 1287.0M619.0 1245.1L621.9 1246.8M617.3 1248.5L619.8 1250.4M614.9 1253.8L616.8 1254.7M609.8 1255.2L607.6 1253.8M611.0 1264.1L613.6 1265.1M604.9 1275.9L606.4 1276.7M612.9 1251.5L616.3 1252.2M612.3 1256.0L616.9 1257.6M602.1 1263.3L598.5 1263.1M656.2 1250.2L658.9 1252.8M654.8 1256.8L658.8 1258.0M646.2 1261.7L642.1 1262.0M650.9 1266.7L654.4 1268.4M679.6 1246.6L674.4 1248.2M697.3 1308.9L694.5 1310.3M638.3 1241.5L634.7 1242.0M637.5 1245.6L632.8 1246.2M644.0 1247.8L646.3 1248.5M647.0 1260.7L648.9 1260.4M647.8 1274.1L649.0 1273.8M645.9 1274.6L644.8 1275.1M564.0 1275.6L562.0 1275.0M671.1 1277.5L668.7 1278.6M677.4 1281.3L681.5 1281.6M678.0 1287.7L681.4 1287.8M597.3 1231.2L594.9 1231.7M599.4 1242.0L601.8 1243.0M593.6 1265.2L591.9 1265.4M671.0 1239.1L666.8 1239.7M676.0 1249.2L678.7 1249.7M670.3 1261.9L668.7 1261.9" stroke="#d9dfd6" stroke-width="1.4" stroke-linecap="round" fill="none"/>
<path d="M573.1 1242.7L576.8 1242.9M570.2 1250.5L573.0 1252.8M569.1 1259.6L572.2 1260.6M561.0 1261.9L557.0 1260.0M566.4 1271.0L570.4 1272.1M589.2 1241.6L586.6 1243.5M606.9 1274.6L609.0 1274.1M606.2 1273.5L607.8 1275.4M606.8 1266.0L609.9 1269.1M599.5 1269.2L596.2 1268.0M662.1 1233.0L665.5 1234.7M655.7 1231.2L652.0 1230.2M660.3 1236.5L663.5 1237.9M651.9 1262.4L655.0 1263.2M642.5 1277.5L640.1 1277.4M681.0 1248.2L677.6 1249.4M693.1 1263.3L698.1 1262.3M692.4 1276.8L694.6 1276.5M693.1 1295.5L690.5 1296.7M701.1 1307.1L703.5 1306.9M646.1 1252.3L649.9 1253.0M647.9 1265.1L650.7 1265.7M647.6 1267.3L649.2 1267.2M571.6 1272.5L575.0 1273.6M564.8 1270.0L560.7 1268.5M666.7 1271.1L661.8 1274.0M670.5 1282.4L665.9 1283.1M678.5 1300.8L680.4 1301.3M593.6 1245.9L589.6 1246.4M597.2 1262.1L599.0 1262.0M676.7 1235.1L679.0 1235.4M671.3 1242.3L667.5 1242.8M670.8 1256.0L668.3 1256.8" stroke="#c8d0c3" stroke-width="1.4" stroke-linecap="round" fill="none"/>
<path d="M570.1 1239.9L569.3 1243.3M620.0 1228.0L619.5 1231.5M618.9 1234.9L618.2 1238.3M615.2 1248.4L613.9 1251.7M610.7 1248.3L609.3 1251.5M609.3 1251.5L608.1 1254.8M658.9 1232.9L658.2 1236.3M653.6 1249.5L652.3 1252.8M644.6 1276.1L643.7 1279.4M683.2 1244.9L684.0 1248.3M685.8 1255.1L686.7 1258.5M563.0 1281.3L561.4 1284.4M596.0 1257.2L595.7 1260.7M672.8 1253.8L672.2 1257.3" stroke="#b3beae" stroke-width="2.0" stroke-linecap="round" fill="none"/>
<path d="M569.3 1243.3L575.2 1255.1M564.8 1263.8L556.1 1269.8M562.5 1270.4L557.5 1271.7M554.3 1289.7L548.1 1290.3M588.5 1231.5L580.0 1241.0M592.8 1244.8L600.7 1248.6M599.9 1264.5L597.9 1270.3M619.5 1231.5L613.1 1238.3M618.9 1234.9L612.4 1238.8M617.3 1241.7L607.2 1246.3M616.4 1245.1L618.2 1251.9M610.7 1248.3L615.0 1254.7M597.7 1280.7L599.1 1284.0M593.9 1286.5L593.9 1289.9M659.6 1229.5L651.8 1233.0M658.2 1236.3L664.0 1241.6M658.2 1236.3L648.4 1243.5M657.3 1239.7L663.0 1249.1M650.0 1259.4L653.7 1265.4M650.0 1259.4L642.3 1264.1M686.7 1258.5L682.7 1265.3M689.0 1268.7L692.5 1272.7M695.4 1295.8L692.3 1299.6M644.6 1256.0L639.9 1261.7M646.1 1269.9L642.9 1272.4M573.0 1262.9L565.0 1264.6M568.0 1272.1L568.9 1277.0M671.8 1271.8L678.0 1274.4M672.7 1275.2L678.8 1280.9M675.2 1285.4L680.9 1290.1M675.6 1288.8L670.1 1294.8M676.0 1292.3L681.6 1295.2M676.5 1295.8L674.0 1300.3M598.7 1232.9L605.7 1240.5M595.7 1260.7L592.1 1263.6M595.2 1264.2L592.1 1266.3M674.4 1243.5L678.7 1251.0M672.2 1257.3L673.5 1260.8" stroke="#4f5c4b" stroke-width="1.7" stroke-linecap="round" fill="none"/>
<path d="M568.6 1246.7L571.8 1254.3M567.9 1250.1L572.8 1257.4M567.4 1253.6L562.6 1259.2M566.5 1257.0L571.6 1262.2M563.8 1267.1L569.0 1274.8M596.0 1254.8L593.0 1262.2M597.2 1258.0L603.2 1260.5M598.4 1261.3L597.1 1267.7M599.9 1264.5L606.6 1267.9M603.1 1270.7L607.1 1273.2M618.9 1234.9L624.5 1240.5M605.6 1261.3L608.0 1270.7M599.4 1277.6L600.7 1284.3M597.7 1280.7L590.9 1283.5M657.3 1239.7L649.0 1247.3M654.9 1246.3L647.4 1251.7M653.6 1249.5L654.6 1254.8M652.3 1252.8L657.3 1260.7M649.0 1262.8L640.3 1266.3M643.0 1282.8L645.2 1289.0M682.6 1241.5L676.6 1251.8M684.0 1248.3L678.8 1253.7M687.6 1261.8L698.5 1264.7M688.3 1265.2L697.4 1269.1M688.3 1265.2L684.8 1271.4M693.1 1289.2L697.9 1291.0M698.7 1305.8L703.5 1308.4M644.6 1256.0L651.0 1261.1M573.0 1262.9L572.4 1272.0M672.7 1275.2L669.4 1279.9M676.5 1295.8L679.7 1299.7M598.7 1232.9L590.0 1235.5M598.1 1236.3L588.8 1240.3M596.6 1250.2L599.6 1252.7M596.2 1253.7L592.8 1255.1" stroke="#5f6d5a" stroke-width="1.7" stroke-linecap="round" fill="none"/>
<path d="M567.4 1253.6L574.8 1260.6M590.3 1238.2L588.2 1245.1M597.2 1258.0L595.3 1263.5M604.6 1273.9L601.0 1280.6M608.1 1283.8L612.0 1286.0M606.7 1267.6L608.0 1271.1M605.4 1270.9L606.9 1276.2M600.9 1274.5L594.8 1275.9M591.8 1289.4L592.3 1293.8M658.9 1232.9L650.1 1237.2M654.9 1246.3L657.5 1254.2M643.7 1279.4L646.2 1284.4M682.6 1241.5L691.6 1246.4M689.6 1272.1L697.3 1277.7M693.1 1289.2L690.7 1298.0M642.2 1245.8L645.8 1249.8M645.6 1263.0L650.2 1267.2M571.2 1265.9L562.0 1267.7M563.0 1281.3L558.6 1284.4M597.6 1239.8L591.7 1242.5M595.7 1260.7L598.7 1263.4M674.7 1240.0L667.8 1244.6M674.4 1243.5L668.2 1247.8M673.4 1250.4L670.1 1252.8M672.8 1253.8L675.3 1257.3" stroke="#e4e9e1" stroke-width="1.7" stroke-linecap="round" fill="none"/>
<path d="M567.4 1253.6L566.5 1257.0M554.3 1289.7L552.8 1292.9M592.8 1244.8L593.9 1248.1M595.0 1251.4L596.0 1254.8M599.9 1264.5L601.5 1267.6M608.1 1264.4L606.7 1267.6M659.6 1229.5L658.9 1232.9M654.9 1246.3L653.6 1249.5M685.0 1251.7L685.8 1255.1M695.4 1295.8L696.4 1299.2M575.0 1260.0L573.0 1262.9M573.0 1262.9L571.2 1265.9M668.0 1262.0L669.3 1265.2M676.0 1292.3L676.5 1295.8M675.0 1236.5L674.7 1240.0" stroke="#c8d0c3" stroke-width="2.0" stroke-linecap="round" fill="none"/>
<path d="M562.0 1259.0L557.7 1257.6M552.9 1287.7L550.1 1286.8M552.3 1298.9L554.3 1300.7M600.2 1259.3L603.0 1258.6M619.3 1240.9L621.3 1242.4M614.5 1239.6L611.4 1238.1M613.3 1261.2L616.6 1261.9M606.4 1265.1L604.8 1264.8M607.3 1269.4L608.7 1270.4M609.2 1258.5L611.7 1260.9M603.2 1259.5L599.6 1259.1M594.3 1282.1L591.0 1281.9M597.0 1286.8L599.5 1288.6M654.5 1235.1L650.2 1234.3M644.6 1264.5L640.4 1264.2M641.9 1280.2L640.2 1280.2M686.6 1247.6L690.6 1248.0M692.9 1267.2L697.1 1265.8M690.7 1270.7L693.2 1270.9M685.7 1272.9L681.3 1274.8M688.5 1277.6L686.3 1278.5M690.1 1289.1L687.0 1290.2M695.5 1290.1L697.6 1289.3M696.0 1305.1L693.5 1306.4M645.5 1241.0L649.5 1240.0M644.7 1245.3L648.4 1246.5M644.5 1268.3L642.6 1269.3M566.6 1266.8L562.9 1264.6M561.9 1286.2L563.3 1287.2M674.1 1266.6L678.1 1264.7M668.0 1273.5L663.7 1276.3M669.3 1275.0L665.9 1276.3M675.8 1278.0L679.5 1278.0M673.2 1289.1L669.8 1290.8M674.2 1295.8L671.3 1297.8M678.1 1297.7L680.3 1298.5M680.0 1304.1L682.6 1303.6M593.4 1238.3L588.9 1237.6M598.8 1245.6L601.2 1246.2M597.9 1255.4L600.0 1255.5M593.9 1262.2L591.8 1262.4M678.8 1234.2L683.9 1235.8M676.7 1243.1L679.7 1244.4M676.6 1247.2L680.1 1248.9M673.3 1262.2L675.2 1262.8" stroke="#b3beae" stroke-width="1.4" stroke-linecap="round" fill="none"/>
<path d="M566.5 1257.0L565.6 1260.4M555.8 1286.6L554.3 1289.7M593.9 1248.1L595.0 1251.4M605.8 1277.2L607.1 1280.4M612.6 1254.9L611.1 1258.1M611.1 1258.1L609.6 1261.2M606.7 1267.6L605.4 1270.9M605.4 1270.9L604.2 1274.1M604.4 1264.6L603.1 1267.8M593.9 1286.5L591.8 1289.4M656.2 1243.0L654.9 1246.3M647.9 1266.1L646.8 1269.4M689.6 1272.1L690.2 1275.6M691.2 1282.5L692.0 1285.9M644.6 1256.0L645.1 1259.5M645.1 1259.5L645.6 1263.0M571.2 1265.9L569.6 1269.0M569.6 1269.0L568.0 1272.1M561.4 1284.4L559.7 1287.5M669.3 1265.2L670.7 1268.5M673.7 1278.5L674.6 1281.9M671.7 1260.8L671.3 1264.2" stroke="#5f6d5a" stroke-width="2.0" stroke-linecap="round" fill="none"/>
<path d="M561.2 1273.6L565.4 1279.2M557.3 1283.4L559.4 1288.9M551.4 1296.1L553.3 1301.7M590.3 1238.2L596.0 1239.8M591.5 1241.5L586.5 1250.0M605.8 1277.2L603.6 1280.3M607.1 1280.4L609.9 1282.0M607.1 1280.4L604.8 1285.5M618.2 1238.3L610.9 1240.9M616.4 1245.1L607.3 1248.9M604.2 1274.1L599.6 1276.7M608.1 1254.8L602.5 1256.3M607.0 1258.1L599.4 1260.9M684.0 1248.3L691.9 1255.6M692.0 1285.9L697.0 1288.4M694.3 1292.5L691.9 1298.4M696.4 1299.2L694.4 1304.9M697.6 1302.5L703.3 1303.9M698.7 1305.8L695.8 1312.0M640.8 1235.4L648.0 1240.9M641.7 1242.3L647.8 1248.3M643.0 1249.2L639.2 1256.6M643.9 1252.6L640.3 1257.1M645.1 1259.5L648.8 1261.8M645.9 1266.4L649.2 1268.1M646.5 1273.4L649.0 1274.8M569.6 1269.0L573.6 1276.0M568.0 1272.1L562.8 1274.1M566.2 1275.1L567.3 1283.4M561.4 1284.4L562.5 1287.9M669.3 1265.2L678.9 1268.0M677.5 1302.7L682.6 1305.4M597.2 1243.3L600.3 1248.0M595.2 1264.2L597.4 1267.2M675.2 1229.5L682.4 1238.9M675.0 1236.5L667.1 1241.8M672.8 1253.8L668.8 1258.1M672.2 1257.3L669.4 1258.9" stroke="#d9dfd6" stroke-width="1.7" stroke-linecap="round" fill="none"/>
<path d="M557.3 1283.4L555.8 1286.6M552.8 1292.9L551.4 1296.1M609.6 1261.2L608.1 1264.4M599.4 1277.6L597.7 1280.7M597.7 1280.7L595.7 1283.6M657.3 1239.7L656.2 1243.0M652.3 1252.8L651.1 1256.1M651.1 1256.1L650.0 1259.4M650.0 1259.4L649.0 1262.8M645.8 1272.8L644.6 1276.1M643.7 1279.4L643.0 1282.8M690.6 1279.1L691.2 1282.5M693.1 1289.2L694.3 1292.5M641.4 1238.9L641.7 1242.3M641.7 1242.3L642.2 1245.8M670.7 1268.5L671.8 1271.8M671.8 1271.8L672.7 1275.2M675.2 1285.4L675.6 1288.8M676.8 1299.3L677.5 1302.7M599.5 1229.5L598.7 1232.9M597.6 1239.8L597.2 1243.3M675.0 1226.0L675.2 1229.5M675.2 1229.5L675.1 1233.0M673.8 1246.9L673.4 1250.4" stroke="#e4e9e1" stroke-width="2.0" stroke-linecap="round" fill="none"/>
<path d="M574.0,1423.0 L574.0,1291.0 C593.9,1277.0 608.9,1281.4 628.8,1279.0 C648.8,1275.4 665.7,1281.0 673.7,1289.8 L673.7,1423.0 Z" fill="url(#candle)"/>
<rect x="595.4" y="1214.0" width="10.6" height="210.0" fill="#1b1b1b" />
<rect x="640.9" y="1214.0" width="12.5" height="210.0" fill="#1b1b1b" />
<rect x="560.6" y="1216.5" width="127.6" height="7.3" fill="#1b1b1b" />
<rect x="560.6" y="1243.2" width="127.6" height="9.7" fill="#1b1b1b" />
<rect x="560.6" y="1386.3" width="127.6" height="8.7" fill="#1b1b1b" />
<polygon points="582.7,1157.0 664.9,1159.0 722.0,1201.2 527.3,1198.0" fill="#232323" />
<polygon points="527.3,1198.0 575.0,1128.0 583.0,1128.0 582.7,1156.5" fill="#8f8f8f" />
<polygon points="665.0,1140.0 676.0,1150.0 722.0,1197.0 722.0,1201.2 664.9,1159.0" fill="#888888" />
<rect x="526.8" y="1198.0" width="195.5" height="14.4" fill="#161616" />
<rect x="582.9" y="1118.0" width="82.8" height="42.0" fill="#1b1b1b" />
<rect x="591.9" y="1124.0" width="63.0" height="16.0" fill="#a9ada5" />
<path d="M595,1136 L610,1127 M605,1138 L625,1126 M620,1137 L640,1128 M635,1138 L652,1127 M600,1128 L650,1136" stroke="#e6ebe4" stroke-width="1.6"/>
<rect x="576.2" y="1107.3" width="97.5" height="12.7" fill="#1b1b1b" />
<rect x="576.2" y="1107.3" width="97.5" height="4.7" fill="#2e2e2e" />
<line x1="576.5" y1="1107.8" x2="673.5" y2="1107.8" stroke="#5a5a5a" stroke-width="1"/>
<path d="M614.5,1047.0 C611.5,1050.0 603.7,1055.8 603.7,1072.2 C603.7,1081.1 607.7,1088.0 609.2,1092.0 C607.7,1097.8 601.1,1105.5 598.1,1111.3 L650.9,1111.3 C647.9,1105.5 641.3,1097.8 639.8,1092.0 C641.3,1088.0 645.3,1081.1 645.3,1072.2 C645.3,1055.8 637.5,1050.0 634.5,1047.0 Z" fill="url(#ball)"/>
<ellipse cx="614.1" cy="1073.2" rx="2.1" ry="4.6" fill="#9a9a9a" opacity="0.75"/>
<ellipse cx="633.2" cy="1073.2" rx="2.1" ry="4.6" fill="#9a9a9a" opacity="0.75"/>
<circle cx="614.6" cy="1095.0" r="1.6" fill="#a0a0a0" opacity="0.75"/>
<circle cx="618.0" cy="1051.0" r="1.4" fill="#a0a0a0" opacity="0.75"/>
<circle cx="632.9" cy="1095.0" r="1.6" fill="#a0a0a0" opacity="0.75"/>
<circle cx="630.0" cy="1051.0" r="1.4" fill="#a0a0a0" opacity="0.75"/>
<ellipse cx="623" cy="1006" rx="2.6" ry="31.5" transform="rotate(-4 623 1006)" fill="none" stroke="#1b1b1b" stroke-width="3"/>
<circle cx="624.7" cy="1039.6" r="9.5" fill="url(#ball)"/>
<circle cx="624.7" cy="1039.6" r="3.5" fill="#3a3a3a"/>
<path d="M579.1 1139.4L544.8 1151.4M577.2 1146.2L539.9 1120.5M579.3 1147.5L541.7 1169.8M577.8 1136.4L528.5 1107.8M578.5 1157.7L529.9 1169.9M577.6 1139.0L521.1 1137.7M579.7 1152.6L551.1 1157.1M579.6 1154.4L523.7 1142.6M581.8 1139.8L551.2 1152.6M578.5 1141.7L544.1 1160.6M577.8 1137.3L542.2 1132.5M581.7 1135.3L533.0 1150.1M581.4 1148.5L533.4 1133.5M578.0 1139.9L538.4 1147.1M578.4 1149.5L535.5 1171.3M582.0 1145.4L544.2 1129.4M577.3 1144.5L537.6 1166.0M669.7 1138.1L696.1 1130.3M665.0 1149.2L706.5 1149.7M667.1 1134.6L712.1 1123.6M667.5 1149.2L714.6 1153.0M664.8 1149.0L695.1 1154.1M667.7 1153.9L711.9 1148.7M667.5 1143.8L704.5 1140.1M670.0 1143.4L702.9 1132.5M666.3 1144.0L710.3 1147.1M667.2 1152.1L706.1 1144.2M667.9 1136.5L702.2 1154.2M664.6 1152.2L700.3 1124.3M669.7 1157.3L691.9 1138.0M668.0 1155.1L697.7 1171.5M664.7 1132.2L686.6 1116.7M667.8 1135.6L708.8 1122.0M664.1 1137.2L694.5 1134.2M668.5 1150.9L690.8 1133.7M665.3 1143.6L702.5 1135.8M668.5 1156.5L705.3 1135.0M666.0 1137.7L711.8 1157.5" stroke="#6d7a69" stroke-width="1.3" stroke-linecap="round" fill="none"/>
<path d="M581.4 1142.2L551.8 1151.8M581.2 1142.0L535.8 1161.4M578.6 1157.5L526.0 1140.1M582.6 1132.8L557.2 1147.5M581.1 1138.3L539.8 1138.0M581.2 1136.4L551.7 1130.7M581.4 1155.7L536.1 1127.1M579.3 1145.7L536.3 1111.9M578.9 1132.8L526.9 1118.7M577.1 1147.5L539.1 1167.6M582.5 1153.8L541.7 1146.0M582.0 1154.2L540.5 1168.6M582.4 1155.8L536.7 1160.4M578.9 1138.0L532.4 1134.2M578.9 1152.6L542.4 1156.9M579.8 1133.2L538.9 1100.7M577.4 1136.2L544.1 1150.2M582.7 1157.2L550.5 1162.3M579.9 1151.8L542.3 1159.3M582.8 1138.5L556.5 1128.2M579.7 1155.0L539.4 1127.0M580.7 1152.6L537.7 1172.9M578.3 1157.2L539.9 1176.8M577.7 1142.3L537.1 1143.5M665.1 1144.0L707.2 1158.3M667.9 1157.8L689.6 1177.2M666.0 1147.4L705.7 1147.6M665.3 1132.2L705.2 1154.4M669.7 1158.0L714.8 1166.7M665.9 1145.3L713.9 1156.1M668.3 1140.9L710.0 1129.1M668.7 1136.1L711.6 1137.8M668.5 1135.0L707.6 1127.1M664.9 1154.0L705.7 1164.5M664.7 1157.8L688.6 1162.3M669.4 1152.5L700.0 1145.6M665.1 1134.8L702.1 1115.5" stroke="#d6ddd2" stroke-width="1.3" stroke-linecap="round" fill="none"/>
<path d="M579.3 1145.1L547.4 1140.2M578.4 1155.9L545.2 1163.2M578.8 1142.0L529.7 1152.5M580.4 1153.2L553.5 1142.8M579.3 1150.6L544.5 1163.6M582.7 1134.4L554.1 1148.0M581.3 1151.2L530.6 1145.3M582.6 1142.2L551.4 1139.0M577.4 1138.7L530.3 1160.2M582.4 1150.8L539.1 1118.1M666.3 1157.1L706.5 1172.2M665.7 1135.4L700.9 1115.5M666.4 1134.4L707.8 1115.7M667.1 1150.0L686.7 1167.1M668.1 1151.1L710.1 1151.3M666.4 1155.4L689.6 1173.3M668.1 1152.4L707.4 1139.1M664.5 1152.8L692.8 1135.2M664.4 1153.4L710.9 1166.4M664.0 1156.4L689.8 1157.0M669.8 1134.4L692.4 1144.3M668.1 1141.5L706.2 1162.8" stroke="#f7f8f6" stroke-width="1.3" stroke-linecap="round" fill="none"/>
<path d="M577.2 1146.8L539.3 1125.3M578.7 1136.7L540.3 1156.1M582.6 1137.4L541.1 1141.6M577.9 1138.4L522.3 1151.7M582.6 1140.5L556.2 1131.9M580.1 1157.2L535.6 1161.2M577.2 1148.9L543.4 1165.1M579.1 1144.2L528.7 1120.0M581.9 1153.4L544.0 1136.0M666.2 1137.0L705.1 1130.4M665.4 1154.5L689.6 1135.7M664.8 1155.7L701.7 1166.0M667.8 1140.8L690.9 1147.9M665.6 1158.0L711.5 1169.6M668.3 1136.2L709.1 1138.8M664.6 1141.5L707.2 1151.5M668.7 1146.9L706.6 1123.9M664.5 1156.0L698.6 1135.2M669.1 1146.6L704.4 1116.3M664.7 1151.7L707.0 1163.4M668.5 1150.7L692.2 1142.9M665.0 1140.3L691.1 1124.6M665.0 1147.5L709.6 1146.0" stroke="#eef1ec" stroke-width="1.3" stroke-linecap="round" fill="none"/>
<path d="M579.4 1139.8L545.0 1111.2M579.7 1151.3L551.6 1127.5M578.0 1132.1L543.9 1120.4M582.5 1147.2L545.5 1122.4M581.6 1154.1L533.2 1145.0M581.7 1132.9L549.7 1136.2M578.5 1133.9L551.3 1137.6M581.4 1141.1L536.2 1111.2M580.0 1148.5L542.7 1152.7M582.3 1148.2L544.2 1169.9M669.4 1140.4L695.7 1154.8M668.7 1156.6L709.8 1176.5M667.8 1136.8L695.0 1121.9M668.3 1156.6L694.6 1177.0M668.4 1157.7L705.3 1189.5M669.8 1138.0L699.1 1143.3M669.6 1153.7L701.9 1125.5" stroke="#b0baac" stroke-width="1.3" stroke-linecap="round" fill="none"/>
<path d="M577.4 1132.9L546.1 1135.4M578.0 1152.3L547.4 1149.2M579.9 1144.8L534.3 1123.9M579.7 1137.2L545.7 1158.1M579.9 1138.4L551.7 1139.1M580.1 1147.6L547.4 1142.4M580.7 1151.0L541.5 1144.3M581.1 1141.8L544.3 1162.4M579.1 1141.1L540.4 1157.8M577.6 1143.7L520.7 1149.6M582.3 1154.6L544.0 1149.0M579.9 1155.0L553.0 1144.5M582.0 1145.3L556.7 1135.7M582.0 1144.8L535.8 1127.3M578.6 1156.4L537.9 1132.1M664.1 1150.7L690.2 1164.3M668.1 1137.2L693.8 1135.1M665.3 1152.8L691.2 1166.2M667.1 1151.0L712.5 1147.0M669.4 1151.4L700.4 1124.4M668.9 1153.8L707.1 1152.8M669.7 1146.8L701.9 1149.7M666.2 1140.3L702.9 1107.9M667.3 1147.8L701.5 1129.0M669.3 1133.6L704.7 1163.0M666.9 1146.2L714.7 1148.2M667.5 1145.9L707.5 1118.3M668.6 1155.1L706.4 1138.9M668.7 1143.7L699.5 1138.5" stroke="#8f9c8b" stroke-width="1.3" stroke-linecap="round" fill="none"/>
<path d="M580.2 1156.3L536.6 1157.0M580.5 1134.5L530.3 1130.2M582.8 1139.8L556.0 1153.0M579.5 1154.8L538.6 1162.2M578.7 1149.3L532.8 1168.2M581.9 1148.3L547.5 1136.3M581.6 1155.2L549.5 1145.6M578.2 1133.8L549.7 1132.8M577.9 1142.0L532.6 1157.2M579.2 1135.7L534.0 1117.6M580.2 1132.3L544.9 1114.2M582.9 1135.6L536.6 1154.6M579.7 1142.5L533.7 1129.0M578.0 1134.2L524.3 1131.0M580.2 1139.1L551.4 1131.9M664.6 1150.5L690.5 1155.1M664.8 1151.1L694.6 1150.3M667.4 1151.3L691.8 1154.1M669.5 1134.2L695.1 1154.8M668.4 1134.5L705.2 1118.7M666.5 1143.2L713.8 1147.9" stroke="#e4e9e1" stroke-width="1.3" stroke-linecap="round" fill="none"/>
<path d="M578.8 1132.4L552.6 1125.6M582.2 1152.4L550.4 1151.1M577.3 1143.5L549.4 1133.4M582.2 1140.6L541.5 1153.5M580.3 1155.6L545.6 1163.6M578.7 1136.9L541.3 1114.8M580.2 1139.4L549.9 1126.4M582.8 1145.1L550.9 1149.4M578.2 1153.3L549.9 1150.3M577.0 1147.9L530.0 1170.0M665.8 1157.9L699.5 1170.1M670.0 1148.7L713.4 1139.3M667.0 1134.0L710.2 1148.2M666.1 1134.3L700.9 1164.6M668.7 1151.4L695.8 1170.6M667.2 1134.8L708.5 1119.4M667.3 1155.5L701.4 1141.3M669.8 1149.8L700.7 1150.4M665.3 1141.4L692.4 1148.7M669.6 1141.9L702.9 1112.4M666.0 1138.2L694.5 1158.6M667.1 1152.8L696.0 1159.8M667.4 1154.5L691.0 1149.9" stroke="#c3cdbf" stroke-width="1.3" stroke-linecap="round" fill="none"/>
<ellipse cx="597" cy="1102" rx="6" ry="4.5" fill="#1c1c1c" opacity="1.0" transform="rotate(0 597 1102)"/></svg>
</body></html>
